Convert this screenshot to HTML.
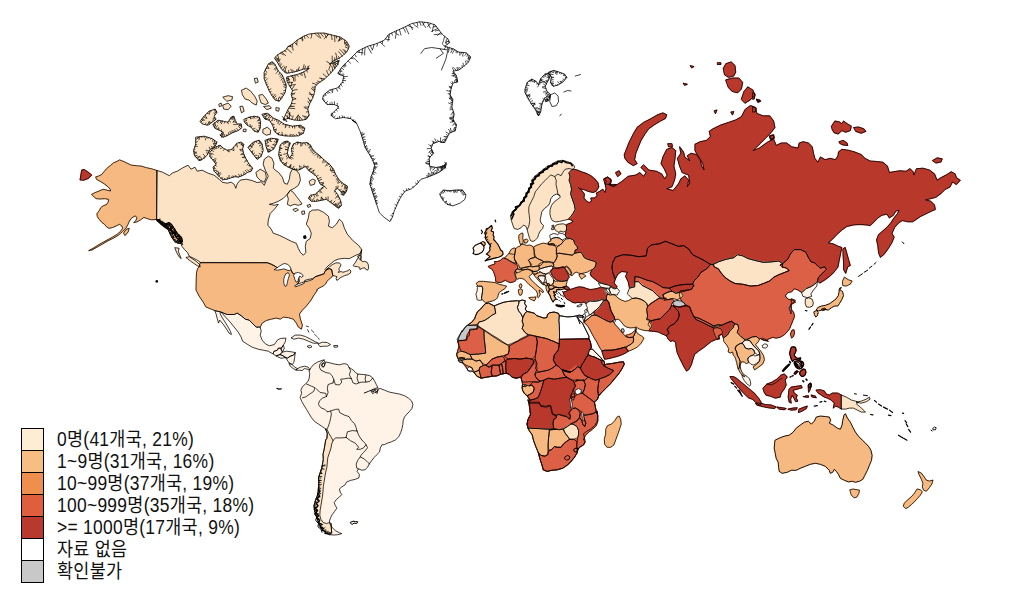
<!DOCTYPE html>
<html lang="ko"><head><meta charset="utf-8"><title>map</title><style>
html,body{margin:0;padding:0;background:#fff;}
body{width:1013px;height:598px;position:relative;overflow:hidden;font-family:"Liberation Sans","Noto Sans CJK KR","NanumGothic",sans-serif;}
.legend{position:absolute;left:21px;top:428px;}
.row{height:22px;position:relative;white-space:nowrap;}
.sw{position:absolute;left:0;top:0;width:21px;height:21px;border:1px solid #000;border-bottom:none;box-sizing:content-box;}
.row:last-child .sw{border-bottom:1px solid #000;height:21px;}
.lb{position:absolute;left:35.5px;top:-0.5px;font-size:19.5px;line-height:22px;color:#111;letter-spacing:0.3px;transform:scaleX(0.895);transform-origin:0 50%;}
</style></head><body>
<svg width="1013" height="598" viewBox="0 0 1013 598" style="position:absolute;left:0;top:0">
<g stroke-linejoin="round" stroke-linecap="round">
<path d="M156.9,170.5 151.3,168.7 146.3,167.7 141.2,166.1 136.2,165.7 131.2,165.1 128.2,163.7 124.2,161.7 119.6,159.9 117.2,161.3 113.8,162.7 110.2,165.7 106.5,168.7 104.1,171.7 101.7,174.5 98.5,176.1 95.7,176.9 96.5,179.3 100.1,181.3 104.1,183.7 107.7,186.5 110.2,189.1 110.6,191 107.1,190.2 103.1,189.3 99.1,191 95.1,192.6 91.5,194.4 93.7,196.6 96.1,198.6 100.1,199 104.5,198.6 108.7,199.4 108.1,202.2 106.5,204.6 103.1,205.8 100.7,207.8 99.3,210.6 96.9,213.8 97.3,216.6 99.3,219.4 101.7,222.2 104.5,224.3 106.5,226.7 108.9,228.3 112.6,227.5 116.2,225.9 119.4,224.3 121.8,225.9 122.6,228.3 120.6,231.3 117.2,234.3 112.6,237.1 108.1,239.5 103.1,242.3 98.1,245.1 93.1,248.3 88.7,250.7 92.1,249.9 97.1,247.1 102.1,244.3 108.1,240.7 113.2,238.3 118.2,235.3 122.2,231.9 125.8,228.3 127.8,224.7 129.4,221 131.8,217.8 135.4,215.8 137,217.8 135.8,220.6 133.8,222.6 137.2,221.8 140.6,219.8 143.9,217.4 147.3,218.6 151.3,219.8 156.9,219.4 159.3,220.6 163.3,222.6 167.3,224.3 170.7,226.7 173.9,229.9 176.8,233.3 179.6,237.3 181.6,241.3 182.8,244.7 180.4,243.3 177.4,238.3 173.3,233.3 169.3,229.3 165.3,226.3 161.3,223.9 158.3,221.8 156.9,219.4Z" fill="#f7b982" stroke="#f7b982" stroke-width="1.1"/>
<path d="M123.8,232.7 126.2,229.3 129.2,228.3 128.2,231.9 125.2,235.3Z" fill="#f7b982" stroke="#f7b982" stroke-width="1.1"/>
<path d="M80.1,179.7 81.7,170.1 84.1,169.5 88.1,172.1 91.7,175.1 88.1,178.5 84.1,180.1Z" fill="#b9382c" stroke="#b9382c" stroke-width="1.1"/>
<path d="M196,137.2 204.1,136.2 212.1,138.6 217.1,142.2 215.1,146.3 210.1,149.3 207.7,154.3 204.1,158.3 199.1,160.7 194.4,155.3 193.6,150.3 195.6,144.3Z" fill="#fce3c5" stroke="#fce3c5" stroke-width="1.1"/>
<path d="M200.1,121.2 204.1,116.2 209.1,111.2 215.1,109.1 217.1,112.2 214.1,116.2 216.1,119.2 212.1,122.2 208.1,125.2 203.1,124.2Z" fill="#fce3c5" stroke="#fce3c5" stroke-width="1.1"/>
<path d="M213.1,124.2 218.1,120.2 223.1,121.2 228.1,122.2 231.2,117.2 233.8,116.2 235.2,120.2 237.2,124.2 241.2,123.8 241.8,127.8 238.2,130.6 232.6,132.6 228.1,135.2 223.1,137.2 220.1,135.2 223.1,132.2 219.1,130.2 215.1,128.2Z" fill="#fce3c5" stroke="#fce3c5" stroke-width="1.1"/>
<path d="M223.1,97.1 228.1,95.7 232.6,96.7 231.8,100.1 227.1,101.1Z" fill="#fce3c5" stroke="#fce3c5" stroke-width="1.1"/>
<path d="M223.1,105.1 228.1,103.1 231.2,106.1 228.1,109.7 224.1,109.1Z" fill="#fce3c5" stroke="#fce3c5" stroke-width="1.1"/>
<path d="M219.1,104.1 221.1,103.1 222.1,105.7 219.7,106.5Z" fill="#fce3c5" stroke="#fce3c5" stroke-width="1.1"/>
<path d="M240.2,106.5 242.6,106.1 244.2,111.2 241.8,112.6Z" fill="#fce3c5" stroke="#fce3c5" stroke-width="1.1"/>
<path d="M241.8,90.1 246.2,88.1 250.6,91.1 254.6,96.1 257.2,101.1 256.2,105.1 252.2,103.1 249.2,100.1 245.2,99.1 242.6,95.1Z" fill="#fce3c5" stroke="#fce3c5" stroke-width="1.1"/>
<path d="M259.2,95.1 262.6,94.5 266.3,99.1 268.3,103.1 265.3,104.5 261.2,103.1 259.8,99.1Z" fill="#fce3c5" stroke="#fce3c5" stroke-width="1.1"/>
<path d="M263.9,106.5 269.3,105.7 271.3,108.1 267.3,109.5Z" fill="#fce3c5" stroke="#fce3c5" stroke-width="1.1"/>
<path d="M276.3,107.7 279.3,108.1 278.7,111.2 276.3,110.6Z" fill="#fce3c5" stroke="#fce3c5" stroke-width="1.1"/>
<path d="M254.6,78.5 257.2,78.1 258.2,82.1 255.8,83.1Z" fill="#fce3c5" stroke="#fce3c5" stroke-width="1.1"/>
<path d="M264.3,72 268.3,64 272.3,61.6 275.3,65 278.3,71 282.3,75 284.3,80.1 286.3,85.1 285.3,92.1 282.3,97.1 279.3,101.1 275.3,100.1 272.3,96.1 269.3,91.1 266.7,85.1 264.3,79.1Z" fill="#fce3c5" stroke="#fce3c5" stroke-width="1.1"/>
<path d="M244.2,119.2 249.2,117.2 254.2,116.2 259.2,117.2 260.6,122.2 260.2,128.2 258.2,132.2 254.2,131.2 251.2,127.2 247.2,125.2 244.6,122.2Z" fill="#fce3c5" stroke="#fce3c5" stroke-width="1.1"/>
<path d="M263.2,129.2 267.3,127.2 270.7,130.2 270.3,134.2 266.3,135.2 263.2,133.2Z" fill="#fce3c5" stroke="#fce3c5" stroke-width="1.1"/>
<path d="M243.8,129.2 246.2,129.2 245.8,131.8 243.4,131.4Z" fill="#fce3c5" stroke="#fce3c5" stroke-width="1.1"/>
<path d="M248.2,147.3 253.2,142.2 259.2,140.2 262.2,144.3 263.2,150.3 261.2,156.3 257.2,159.3 253.2,154.3 250.2,150.3Z" fill="#fce3c5" stroke="#fce3c5" stroke-width="1.1"/>
<path d="M265.3,140.2 271.3,138.2 278.3,139.2 276.3,144.3 273.3,149.3 268.3,152.3 266.3,147.3Z" fill="#fce3c5" stroke="#fce3c5" stroke-width="1.1"/>
<path d="M262.2,114.2 267.3,113.2 271.3,116.2 273.3,118.2 278.3,120.2 284.3,124.2 292.3,126.2 300.4,125.2 304.8,128.2 303.4,133.2 298.4,135.8 291.3,136.2 284.3,135.8 278.3,134.6 274.3,131.2 272.7,125.2 269.3,120.2 265.3,119.2Z" fill="#fce3c5" stroke="#fce3c5" stroke-width="1.1"/>
<path d="M210.1,152.2 213.1,148.1 217.1,146.5 220.1,145.1 223.1,148.1 227.1,150.2 231.2,149.7 234.2,146.5 237.2,143.1 241.2,142.1 243.8,144.5 242.6,149.1 243.8,154.2 246.2,159.2 249.2,164.2 252.6,168.2 251.2,171.2 247.2,172.6 243.2,175.2 238.2,177.2 235.2,176.6 231.2,177.8 227.1,179.2 222.5,179.8 219.7,177.2 217.1,174.2 214.1,171.2 213.1,167.2 216.1,164.2 213.1,160.2 210.1,157.2Z" fill="#fce3c5" stroke="#fce3c5" stroke-width="1.1"/>
<path d="M156.9,170.5 162.3,172.1 169.3,175.7 172.3,173.1 177.4,171.1 182.4,168.1 184,167.2 188,165.2 191,169.2 195,167.2 197.1,171.2 202.1,170.2 208.1,173.2 214.1,175.2 219.1,179.2 222.1,182.2 227.1,183.2 231.2,182.2 234.2,184.3 235.8,188.3 237.2,183.9 240.2,180.2 246.2,179.2 252.2,180.6 257.2,182.6 261.2,181.8 264.3,185.3 265.9,181.2 268.3,176.2 265.3,170.2 263.2,164.2 264.3,159.2 268.3,156.2 271.9,158.2 273.9,163.2 273.3,168.2 275.3,170.2 278.7,172.6 282.3,177.2 284.3,183.2 287.3,184.3 289.3,179.2 290.3,173.2 292.3,169.2 296.3,170.2 299.4,174.2 300.4,180.2 298.4,185.3 294.3,188.3 290.3,190.3 287.3,194.3 283.3,198.3 278.3,201.3 273.3,203.3 269.3,204.3 274.3,205.3 278.3,204.3 274.3,209.3 270.3,213.3 268.3,220 267.8,225.2 271.2,229.2 273.2,233.2 279.2,235.3 285.3,238.3 291.3,241.3 296.3,243.3 298.3,248.3 300.3,252.3 303.3,255.3 305.9,252.3 305.3,246.3 306.3,241.3 310.3,238.3 311.3,233.2 309.3,228.2 306.3,224.2 308.3,218.2 309.3,212.2 312.3,210.2 318.4,209.8 323.4,212.2 328.4,216.2 329.4,221.2 328.4,226.2 332.4,227.8 336.4,224.2 339.4,219.2 342.4,222.2 344.4,228.2 347.4,234.3 352.5,240.3 358.5,245.3 361.5,249.3 360.5,254.3 357.5,256.3 360.5,260.3 361.7,249.6 361.1,252 358.7,254.2 356.3,255 352.7,256.9 349.1,258.7 344.3,258.3 338.8,259 334.6,260.5 331,263.5 328,265.9 325,269.5 325.6,270.3 329.2,267.1 332.2,264.7 335.8,262.9 339.4,262.9 340.9,264.7 340,267.1 338.8,268.9 339.4,270.7 338.2,272.5 340.9,271.5 343,272.3 345.5,271.5 347.9,270.7 349.7,269.5 350.9,271.1 350.3,273.1 347.9,274.7 344.9,275.5 342.4,276.7 340,277.9 338.2,279.7 336.8,280.3 336.1,278.5 337,276.7 335.2,276.1 332.8,275.5 332.2,272.5 331.6,269.5 329.2,268.6 326.8,269.5 325,271.5 323.8,273.9 320.2,275.1 315.4,276.7 312.4,279.1 305.5,280.9 303.9,282.4 296.1,286.3 299.1,281.5 298.5,276.1 292.5,273.1 290.1,268.3 284.1,267.1 278.1,268.3 275,266.2 271.4,264.3 267.2,262.7 260,262.7 200.2,262.8 199.6,261.6 196.6,259.8 193,258 189.3,256.2 187.5,252.5 184.5,249.5 182.1,246.5 180.9,243.5 182.4,241.1 181.5,237.3 177.3,233.3 174.3,228.5 171.5,224.3 168.9,222.5 165.9,224.3 161.1,221.2 156.9,220Z" fill="#fce3c5" stroke="#fce3c5" stroke-width="1.1"/>
<path d="M353.3,265.3 355.1,262.9 356.9,259.9 358.7,256.9 360.1,254.7 361.1,256.2 360.9,259.3 362.3,261.7 364.7,261.4 367.1,262.3 368.3,264.7 368.6,268.3 367.7,270.1 365.9,269.5 364.7,267.7 362.3,268.3 359.9,269.5 359.7,267.4 357.5,266.7 355.1,266.5Z" fill="#fce3c5" stroke="#fce3c5" stroke-width="1.1"/>
<path d="M175.1,247.7 179.1,248.3 178.3,251.3 179.7,254.9 181.2,258.6 179.1,256.8 176.7,252.5Z" fill="#fce3c5" stroke="#fce3c5" stroke-width="1.1"/>
<path d="M186.3,257.4 189.3,256.8 193,259.2 196.6,261.6 199.6,264.6 200.2,267 197.5,265.8 194.8,264 191.2,261.6 188.1,259.2Z" fill="#fce3c5" stroke="#fce3c5" stroke-width="1.1"/>
<path d="M156.9,220 161.1,221.2 165.9,224.3 168.9,222.5 171.5,224.3 174.3,228.5 177.3,233.3 181.5,237.3 182.4,241.1 180.9,243.5 178.5,243.5 174.9,241.7 171.9,237.5 170.1,233.9 168.3,229.7 164.7,227.3 160.5,223.7 156.9,220.6Z" fill="#f7b982" stroke="#f7b982" stroke-width="1.1"/>
<path d="M279.3,150.2 280.3,145.1 283.3,142.1 287.3,141.1 290.3,143.1 288.3,148.1 287.3,153.2 289.3,158.2 292.3,154.2 291.3,149.1 293.3,144.1 297.4,142.1 302.4,143.1 307.4,142.5 310.4,145.1 312.4,149.1 316.4,153.2 320.4,156.2 324.4,160.2 329.4,164.2 333.5,169.2 335.5,174.2 338.5,179.2 342.5,183.2 347.5,186.3 346.5,191.3 343.5,195.3 340.5,191.3 337.5,188.3 334.5,190.3 337.5,194.3 340.5,200.3 341.5,205.3 338.5,208.3 334.5,205.3 330.5,202.3 326.4,199.3 321.4,200.3 316.4,201.3 311.4,201.3 308.4,198.3 310.4,195.3 315.4,194.3 318.4,191.3 321.4,188.3 324.4,186.3 320.4,184.3 318.4,180.2 316.4,176.2 312.4,173.2 308.4,170.2 305.4,166.2 302.4,168.2 298.4,170.2 293.3,169.2 288.3,167.2 283.3,164.2 280.3,160.2 278.7,155.2Z" fill="#fce3c5" stroke="#fce3c5" stroke-width="1.1"/>
<path d="M309.4,181.2 312.4,179.2 315.4,180.2 314.4,184.3 310.8,185.3Z" fill="#fce3c5" stroke="#fce3c5" stroke-width="1.1"/>
<path d="M287.3,194.3 290.3,190.3 293.3,192.3 296.3,196.3 299.4,200.3 302,203.9 298.4,205.3 294.3,204.3 290.3,205.9 287.3,204.3 288.3,199.3Z" fill="#fce3c5" stroke="#fce3c5" stroke-width="1.1"/>
<path d="M293.3,209.3 296.3,208.3 298.4,209.9 295.3,211.5Z" fill="#fce3c5" stroke="#fce3c5" stroke-width="1.1"/>
<path d="M302,211.3 304.4,210.9 304.8,213.9 302.4,214.3Z" fill="#fce3c5" stroke="#fce3c5" stroke-width="1.1"/>
<path d="M307.4,205.3 310,204.3 310.8,206.3 308.4,207.3Z" fill="#fce3c5" stroke="#fce3c5" stroke-width="1.1"/>
<path d="M256.2,172.2 260.2,169.2 265.3,172.2 266.3,177.2 264.3,182.2 260.2,180.2 257.2,177.2Z" fill="#fce3c5" stroke="#fce3c5" stroke-width="1.1"/>
<path d="M303.9,236.3 305.5,235.9 305.9,237.9 304.3,238.3Z" fill="#000" stroke="#000" stroke-width="1.1"/>
<path d="M309.2,34.1 316.2,33.1 324.3,33.1 332.3,35.1 340.3,37.1 346.3,41.1 349.3,46.1 347.3,51.2 343.3,55.2 339.3,58.2 334.3,60.2 329.3,64.2 335.3,62.2 339.3,60.2 337.3,65.2 333.3,70.2 329.3,74.6 324.3,79.2 319.2,82.6 315.2,86.3 314.6,92.3 312.6,98.3 309.8,103.3 307.8,109.3 309.2,115.3 306.2,119.4 300.2,120.4 294.2,120 288.1,118.4 283.1,120 285.7,114.3 288.1,109.3 291.2,104.3 292.6,99.3 291.2,94.3 292.6,90.3 289.7,86.3 287.1,81.2 286.5,77.2 291.2,75.8 297.2,74.6 303.2,72.2 309.2,68.6 303.2,69.2 297.2,71.2 291.2,72.6 286.1,73.2 282.5,70.2 279.7,66.2 277.1,61.8 274.5,58.2 277.1,55.2 281.1,52.6 285.7,50.2 288.1,46.5 292.6,44.1 297.2,40.1 303.2,36.5Z" fill="#fce3c5" stroke="#fce3c5" stroke-width="1.1"/>
<path d="M200.2,262.8 199,267 197.5,268.8 196.6,272.4 196.3,277 196,290 199.1,296 203.1,302 206.1,307.1 211.1,309.1 215.1,310.7 221.1,312.1 227.1,314.5 234.2,314.5 237.2,313.1 241.2,315.7 245.2,319.1 249.2,320.1 252.2,323.1 256.2,327.1 260.2,327.1 262.2,323.1 266.3,320.5 271.3,319.1 276.3,318.1 280.3,319.1 283.3,317.1 288.3,317.7 293.3,319.1 296.3,323.1 298.4,327.1 301.4,329.1 302.4,325.1 300.4,319.1 299.4,314.1 302.4,310.1 306.4,306 310.4,301 313.4,296 317.4,290 316.6,289.9 319,288.1 321.4,286.9 323.8,285.7 325.6,283.9 326.8,281.5 328.6,279.7 330.4,277.9 332.2,276.7 332.8,275.5 332.2,272.5 331.6,269.5 329.2,268.6 326.8,269.5 325,271.5 323.8,273.9 320.2,275.1 315.4,276.7 312.4,279.1 305.5,280.9 303.9,282.4 296.1,286.3 299.1,281.5 298.5,276.1 292.5,273.1 290.1,268.3 284.1,267.1 278.1,268.3 275,266.2 271.4,264.3 267.2,262.7 260,262.7Z" fill="#f7b982" stroke="#f7b982" stroke-width="1.1"/>
<path d="M221.1,312.1 227.1,314.5 234.2,314.5 237.2,313.1 241.2,315.7 245.2,319.1 249.2,320.1 252.2,323.1 256.2,327.1 260.2,327.1 261.2,331.1 260.2,335.1 262.2,340.2 265.3,343.8 269.3,345.8 274.3,344.6 277.3,340.2 280.3,338.5 285.9,338.1 285.3,341.8 283.3,345.2 281.3,348.2 278.3,348.2 277.3,350.2 274.3,351.2 272.7,353.8 268.3,351.2 263.2,350.2 258.2,349.2 252.2,347.2 247.2,344.2 242.6,341.2 241.2,337.1 238.2,332.1 234.2,327.1 230.2,322.1 226.1,317.7 222.5,313.7Z" fill="#fef3e6" stroke="#fef3e6" stroke-width="1.1"/>
<path d="M215.1,310.7 221.1,312.1 220.1,313.7 222.5,318.1 225.1,322.1 228.1,327.1 230.6,331.7 231.4,334.5 229.1,333.1 226.5,329.1 223.1,324.1 219.7,320.1 218.5,323.1 217.1,318.1 216.1,314.1Z" fill="#fef3e6" stroke="#fef3e6" stroke-width="1.1"/>
<path d="M274.3,351.2 277.3,350.2 278.3,348.2 281.3,348.2 281.3,350.2 282.3,352.2 279.9,354.6 276.3,355.8 273.3,354.2Z" fill="#fef3e6" stroke="#fef3e6" stroke-width="1.1"/>
<path d="M281.3,348.2 283.3,345.2 284.3,348.2 282.7,351.8 281.5,350.2Z" fill="#fef3e6" stroke="#fef3e6" stroke-width="1.1"/>
<path d="M282.3,352.2 286.3,351.2 291.3,351.8 295.3,352.6 293.3,355.2 290.3,356.2 287.3,358.2 285.3,357.2 283.3,355.8 280.3,354.6Z" fill="#fef3e6" stroke="#fef3e6" stroke-width="1.1"/>
<path d="M276.3,355.8 279.9,354.6 283.3,355.8 284.7,357.8 281.3,358.2Z" fill="#fef3e6" stroke="#fef3e6" stroke-width="1.1"/>
<path d="M285.3,357.2 287.3,358.2 290.3,356.2 293.3,355.2 295.3,352.6 294.7,357.2 293.9,362.2 292.3,364.6 289.3,363.2 287.3,360.2Z" fill="#fef3e6" stroke="#fef3e6" stroke-width="1.1"/>
<path d="M289.3,363.2 292.3,364.6 294.7,367.2 297.4,368.6 296.3,370.2 293.3,368.6 290.7,366.6Z" fill="#fef3e6" stroke="#fef3e6" stroke-width="1.1"/>
<path d="M297.4,368.6 300.4,367.2 304.4,366.2 308.4,367.2 310,370.2 307.4,369.2 304.4,368.6 302,370.6 299.4,370.2 296.3,370.2Z" fill="#fef3e6" stroke="#fef3e6" stroke-width="1.1"/>
<path d="M291.3,337.7 295.3,335.1 300.4,335.1 305.4,336.5 310.4,339.1 315.4,341.8 318.4,343.2 313.4,343.2 308.4,341.2 303.4,339.1 298.4,338.1 294.3,339.1Z" fill="#fef3e6" stroke="#fef3e6" stroke-width="1.1"/>
<path d="M318.4,343.8 322.4,342.2 327.4,342.6 330.5,344.6 327.4,346.2 323.4,346.2 320.4,346.6Z" fill="#fef3e6" stroke="#fef3e6" stroke-width="1.1"/>
<path d="M307.4,346.2 310.4,345.4 312,346.8 309.4,347.8Z" fill="#fef3e6" stroke="#fef3e6" stroke-width="1.1"/>
<path d="M334.1,345.6 337.5,345.4 337.7,347 334.5,347.2Z" fill="#fef3e6" stroke="#fef3e6" stroke-width="1.1"/>
<path d="M323.6,95 329.5,90.2 337.8,87.8 342.6,81.9 343.7,76 337.8,73.6 341.4,67.7 346.1,62.9 352,57 358,51 367.5,46.3 375.8,43.9 384.1,40.4 388.8,34.4 396,30.9 404.3,27.3 411.4,23.7 419.7,21.8 428,22.6 435.1,24.9 438.7,29.7 442.3,34.4 448.2,39.2 449.4,42.7 444.6,46.3 452.9,48.7 458.9,52.2 466,52.7 470.7,57 468.4,62.2 463.6,66.5 458.9,70 452.9,71.2 456.5,76 457.7,81.9 452.9,83.1 451,89 450.1,95 452.9,99.7 451.8,106.8 454.1,113.9 452.9,121.1 452.9,120 456.5,124.7 455.3,130.7 449.4,133.1 447,137.8 444.6,142.6 438.7,141.4 432.8,143.7 431.1,148.5 433.5,153.2 429.2,158 429.7,166.3 436.3,167.5 443.4,166.3 446.3,162.7 445.3,167.5 439.9,171.8 433.9,174.6 426.8,177.4 420.9,179.3 416.9,184.1 411.4,188.8 405,191.2 400.7,197.2 397.2,204.3 394.1,211.4 392.4,217.3 390,221.6 384.1,217.3 379.3,212.6 377,205.5 374.6,198.3 372.2,191.2 369.9,184.1 371,177 373.4,171 374.6,165.1 372.2,159.2 368.7,153.2 365.1,147.3 362.7,139 360.4,131.9 356.8,123.6 352,120 356.8,123.4 350.9,118.7 343.7,117.5 335.4,118.7 330.7,115.1 334.2,111.6 339,106.8 334.2,104.5 327.1,104.5 322.8,99.7Z" fill="#ffffff" stroke="#ffffff" stroke-width="1.1"/>
<path d="M439.9,193.6 443.4,190 449.4,190.7 456.5,190 462.4,190 466,194.8 464.8,199.5 460.1,203.1 452.9,205.9 447,204.3 443.4,200.7 441.1,197.2Z" fill="#ffffff" stroke="#ffffff" stroke-width="1.1"/>
<path d="M156.2,280.8 157.4,280.8 157.4,281.9 156.2,281.9Z" fill="#000" stroke="#000" stroke-width="1.1"/>
<path d="M309.2,370.5 311.3,367.3 313.7,364.4 317.7,362 322,360.4 324.1,359.9 324.9,362 322,363.6 321.4,366 323.3,367.3 324.9,364.8 325.7,362 329.7,362.8 334.6,364.1 339.4,364.8 344.2,363.6 347.4,364.4 349,367.3 351.4,368.9 353.8,370.5 355.4,372.5 357.8,374.1 361.8,374.4 366.7,374.9 369.9,375.7 372.8,378.1 374.7,381.3 376.3,384.5 377.9,387.7 374.7,388.5 371.5,390.1 376.3,389.3 380.3,388.5 384.3,390.1 389.1,392 393.9,393 399.6,394.1 404.4,395.7 408.4,398.1 411.6,401 412.9,404.6 411.9,408.6 409.2,411.8 406.8,414.2 404.4,417.1 403.2,420.6 402.8,424.6 402,428.6 400.7,432.6 398.8,436.7 395.5,439.9 391.5,441.8 387.5,443.1 384.3,444.7 381.9,444.8 380.3,448 379.5,452 376.3,455.2 373.9,457.7 371.5,460.9 369.1,464.1 367.5,467.3 365.1,469.7 361.8,470.2 358.6,468.9 357,471.3 359.4,474.5 359,477.7 355.4,479.3 350.6,480.4 346.6,482 345,484.9 341.8,486.9 339.4,488.9 340.2,492.2 341.8,494.6 339.4,497 336.2,499.7 334.2,502.6 335.4,505.8 337,508.2 334.6,511.4 332.2,514.6 330.6,517.8 329.4,521 330.1,524.3 332.2,527.5 335.4,530.7 339.4,532.8 341.8,533.6 337.8,534.7 333.8,535 329.7,534.7 326.5,533.1 323.3,530.7 320.9,527.9 319.3,524.3 317.7,520.2 316.1,515.4 314.5,510.6 314,505.8 315.3,501 317.2,496.2 318.2,491.4 318.5,486.5 318.8,481.7 318.5,477.7 320.1,472.9 321.7,468.1 322.5,464.1 323.3,459.3 323,454.4 324.1,449.6 324.9,444.8 325.7,440 326.9,438.3 327.3,433.5 325.7,429 322.5,426.7 318.5,424.1 314.5,421.4 311.3,417.4 308.9,413.4 306.5,409.4 304.1,405.4 301.7,401.4 300.1,397.3 301.7,393.3 300.9,390.1 302.5,386.6 305.7,383.7 308.1,381.3 309.2,378.1 309.7,374.1Z" fill="#fef3e6" stroke="#fef3e6" stroke-width="1.1"/>
<path d="M325.7,429 326.9,429 328.9,433.5 331.4,437.5 333,440.7 331.7,444 331,448 329.4,452.8 327.8,457.7 327.3,462.5 326.9,467.3 325.7,472.1 324.9,476.9 324.1,481.7 323.3,486.5 323,491.4 322.5,496.2 321.7,501 320.9,505.8 320.1,510.6 319.8,515.4 320.9,519.4 323.3,522.6 326.5,523.5 329.4,522.6 331,523.5 331.7,533.1 329.7,534.7 326.5,533.1 323.3,530.7 320.9,527.9 319.3,524.3 317.7,520.2 316.1,515.4 314.5,510.6 314,505.8 315.3,501 317.2,496.2 318.2,491.4 318.5,486.5 318.8,481.7 318.5,477.7 320.1,472.9 321.7,468.1 322.5,464.1 323.3,459.3 323,454.4 324.1,449.6 324.9,444.8 325.7,440 326.9,438.3 327.3,433.5Z" fill="#fce3c5" stroke="#fce3c5" stroke-width="1.1"/>
<path d="M323,363.6 324.3,363.2 324.6,366 323.3,367 322.4,365.7Z" fill="#fef3e6" stroke="#fef3e6" stroke-width="1.1"/>
<path d="M350.6,522.2 353,521.2 355.4,521.5 357.8,521.8 356.7,523.5 354.1,523.1 352.2,524.4 350.9,523.5Z" fill="#fef3e6" stroke="#fef3e6" stroke-width="1.1"/>
<path d="M569.1,172.5 571.5,170.1 573.9,169.3 577.2,170.1 581.2,171.7 586,173.3 590.8,175.7 594.8,178.9 598,182.9 598.8,186.9 596.4,190.9 593.2,192.5 588.4,191.4 584.4,189.8 579.6,188.5 578,187.2 582,190.9 584.4,194.1 583.9,198.1 586.8,201.4 589.2,202.6 591.6,201 590.8,198.1 594.8,197.8 597.2,195.7 596.4,193 599.6,191.4 602.8,189.3 605.2,192.5 606,188.5 605.2,184.5 606.4,181.3 604.4,178.6 607.6,177.3 610.9,179.2 610.1,182.9 608.4,184.5 612.5,186.1 616.5,184.5 605,184.2 603.7,179 607.5,177 611.4,180.3 610.1,185.4 614,186.7 621.7,181.6 628.1,176.4 635.8,175.1 639.7,172.6 643.6,176.4 646.1,172.6 641,167.4 643.6,164.9 648.7,170 656.4,171.3 661.6,173.9 664.7,179 667.2,175.1 664.2,168.7 661.1,163.6 662.9,157.1 666.7,149.4 671.9,147.6 675.7,150.7 675,158.4 673.9,166.1 675.7,173.9 674.5,180.3 671.9,186.7 666.7,188.8 673.2,190.6 678.3,184.2 680.9,179 684.8,175.9 688.6,180.3 687.3,186.7 689.9,182.9 688.6,175.1 682.2,172.6 679.6,166.1 677.5,158.4 680.9,153.3 679.6,146.8 683.5,152 684.8,157.1 689.9,161 687.3,155.8 691.2,153.3 696.3,154.6 700.2,159.7 701.5,166.1 704.1,170 702.8,163.6 698.9,157.1 695,150.7 695,144.3 700.2,141.7 706.6,140.4 710.5,136.5 709.2,131.4 713.1,128.8 720.8,125 728.5,122.4 736.2,119.8 741.4,116.7 745.2,109.5 750.4,105.6 755.5,107.4 756.8,113.4 763.3,115.9 769.7,115.9 773.6,121.1 774.9,127.5 771,132.7 765.8,137.8 760.7,143 755.5,148.1 753,150.7 759.4,148.1 764.6,144.3 768.4,141.7 773.6,139.1 776.2,145.5 781.3,143 786.5,143 791.6,146.8 798,148.1 799.3,143 803.2,141.7 808.3,143 812.2,146.8 813.5,153.3 814.8,158.4 817.9,162.3 820.4,157.1 825.1,159.7 830.2,158.4 835.4,159.7 838,155.8 838.5,152 841.8,149.4 848.2,150.2 854.7,152 861.1,154.6 865,158.4 870.1,161 876.6,161.5 883,162.3 887.4,166.1 889.4,172.6 893.3,171.8 899.7,170.8 906.2,171.3 910,168.7 913.1,171.8 913.9,175.1 916.5,168.7 922.9,168.2 929.3,170 934.5,173.9 937.1,180.3 940.9,177.7 946.1,175.1 951.2,171.8 955.1,173.9 956.4,177.7 960.2,180.3 956.4,184.5 952.5,181.9 949.9,187 944.8,189.6 940.9,193.5 935.8,197.3 930.6,198.6 925.5,199.9 930.6,201.2 934.5,205 935.3,209.4 930.6,211.5 925.5,214.1 920.3,216.6 916.5,219.2 912.6,221.8 907.5,221.8 902.3,220.5 898.4,223.1 894.6,227.4 892,233.4 894.1,237.2 892,242.4 888.1,248.8 884.3,254 880.4,257.3 878.6,252.7 877.9,246.2 876.6,239.8 878.6,234.7 883,230.8 886.9,227.4 890.7,223.1 894.1,217.9 897.2,214.1 899.2,210.2 895.9,211 893.3,215.3 889.4,217.9 886.9,214.1 881.7,215.3 877.9,217.9 874,221.8 870.1,225.6 866.3,224.9 859.8,224.4 853.4,224.9 847,226.4 841.8,230 836.7,234.7 832.3,239.3 828.2,242.9 832.8,243.7 838,246.2 841.8,247.5 840.5,254 839.2,260.4 838,266.8 834.1,272 830.2,275.8 825.1,279.7 819.9,283 817.4,281 818.6,277.1 822.5,273.3 826.4,269.4 824.6,266.8 820.4,268.1 817.4,265.5 814.8,263 810.9,261.7 808.3,257.3 805.8,252.2 800.6,249.6 794.2,249.6 790.3,254 787.8,259.1 783.9,262.5 780,265.5 782.7,263.7 778.8,261.1 771.1,261.9 763.4,262.4 754.4,260.3 747.9,258.5 742.8,255.9 737.6,254.7 733.8,257.7 726,259.3 718.3,261.9 713.2,264.4 710.6,264.4 708,262.9 702.9,259.8 697.7,257.2 692.6,254.7 688.7,249 683.6,245.6 678.4,246.4 672,243.8 665.5,241.3 659.1,243.8 651.4,244.9 647.5,248.2 646.2,255.9 638.5,256.7 630.8,255.2 623.1,254.7 615.3,257.2 612.8,262.4 612,267.5 612.8,272.7 615.3,279.1 614.1,283 617.1,286.8 615.8,288.6 613.2,287.6 610.2,285.6 606.7,284.6 603.2,283.6 599.7,282.6 596.7,280.5 593.7,278 591.2,276 590.2,273.5 591.7,270.2 594.8,267.6 595.8,265.1 596.3,262.6 593.8,261.1 590.3,260.1 587.3,259.1 584.3,257.6 582.7,254.6 580.7,252.1 577.7,252.6 574.7,253.3 575.2,250.1 577.7,249.1 577.2,246.6 574.7,243.6 573.7,240 570.2,238.5 566.7,238 565.2,235 566.2,231 566.7,228 566.2,225 566.7,224.6 570.7,223 573.1,221.4 570.7,219.8 568.3,219.3 570.7,216.6 573.1,213.4 575.2,209.4 574.3,204.6 572.3,198.9 570.7,194.1 571.5,189.3 570.7,184.5 569.1,180.5 569.9,176.5Z" fill="#b9382c" stroke="#b9382c" stroke-width="1.1"/>
<path d="M624.3,154.6 626.8,148.1 629.4,141.7 633.3,134 637.1,127.5 643.6,122.4 651.3,118.5 657.7,114.7 662.9,112.9 666.7,114.7 665.4,118.5 660.3,121.1 653.9,125 648.7,128.8 644.9,134 641,140.4 638.4,146.8 635.8,153.3 634.6,159.7 637.1,163.6 633.3,165.6 628.1,162.3 625,158.4Z" fill="#b9382c" stroke="#b9382c" stroke-width="1.1"/>
<path d="M723.4,68.3 725.9,63.7 731.1,61.9 735,65.7 735.7,72.2 733.7,76 728.5,77.3 724.7,74.8Z" fill="#b9382c" stroke="#b9382c" stroke-width="1.1"/>
<path d="M725.9,79.9 732.4,78.1 738.8,78.1 742.7,82.5 741.4,88.9 737.5,92.8 732.4,91.5 728.5,87.6Z" fill="#b9382c" stroke="#b9382c" stroke-width="1.1"/>
<path d="M741.4,99.2 744,91.5 747.8,86.9 753,90.2 754.8,95.3 750.4,99.7 745.2,103.1Z" fill="#b9382c" stroke="#b9382c" stroke-width="1.1"/>
<path d="M717.7,62.7 720.8,62.7 720.8,64.5 717.7,64.5Z" fill="#b9382c" stroke="#b9382c" stroke-width="1.1"/>
<path d="M690.4,65.7 693.8,66.5 692,67.8Z" fill="#b9382c" stroke="#b9382c" stroke-width="1.1"/>
<path d="M683.5,83.2 687.3,84.3 684.8,85.3Z" fill="#b9382c" stroke="#b9382c" stroke-width="1.1"/>
<path d="M756.8,99.7 760.7,101.3 758.1,102.3Z" fill="#b9382c" stroke="#b9382c" stroke-width="1.1"/>
<path d="M714.4,110.8 716.9,110 715.6,113.4Z" fill="#b9382c" stroke="#b9382c" stroke-width="1.1"/>
<path d="M731.1,112.1 733.7,111.6 732.6,114.7Z" fill="#b9382c" stroke="#b9382c" stroke-width="1.1"/>
<path d="M668,143.7 671.9,143.7 672.4,146.8 668.8,146.8Z" fill="#b9382c" stroke="#b9382c" stroke-width="1.1"/>
<path d="M615.8,172.6 619.1,170.8 620.9,173.9 617.8,176.4Z" fill="#b9382c" stroke="#b9382c" stroke-width="1.1"/>
<path d="M769.7,135.8 773.6,134.7 774.3,137.8 771,138.9Z" fill="#b9382c" stroke="#b9382c" stroke-width="1.1"/>
<path d="M831.5,126.2 834.9,121.1 839.2,121.9 841.8,123.7 843.6,121.1 847,123.7 851.3,126.2 850.3,130.6 845.7,132.2 841.8,130.6 838,134 834.1,132.7 832.3,129.6Z" fill="#b9382c" stroke="#b9382c" stroke-width="1.1"/>
<path d="M853.9,127.5 858.5,127 863.7,128.8 865.8,131.4 861.1,133.2 856,131.4Z" fill="#b9382c" stroke="#b9382c" stroke-width="1.1"/>
<path d="M839.2,141.7 843.1,140.4 847,143 847.7,145.5 843.1,145 840,143.5Z" fill="#b9382c" stroke="#b9382c" stroke-width="1.1"/>
<path d="M932.7,160.5 937.1,157.9 942.2,158.9 940.9,162 936.3,163Z" fill="#b9382c" stroke="#b9382c" stroke-width="1.1"/>
<path d="M753,92.8 755.1,94.1 754.3,98.7 753,99.2Z" fill="#b9382c" stroke="#b9382c" stroke-width="1.1"/>
<path d="M756.6,99.2 760.2,100.2 758.7,101.8Z" fill="#b9382c" stroke="#b9382c" stroke-width="1.1"/>
<path d="M753,106.9 756.1,108.2 755.6,111.6 753,112.1Z" fill="#b9382c" stroke="#b9382c" stroke-width="1.1"/>
<path d="M769.7,136.5 773.1,135.2 774.1,138.3 771,139.9Z" fill="#b9382c" stroke="#b9382c" stroke-width="1.1"/>
<path d="M843.1,248.8 845.2,247.5 847,254 848.8,260.4 850.3,265.5 847.7,266.8 845.7,273.3 843.6,269.4 843.6,263 843.1,255.2Z" fill="#b9382c" stroke="#b9382c" stroke-width="1.1"/>
<path d="M525.1,88.9 527.2,82.5 531.6,79.1 536,81.2 538.5,85 540.6,78.6 544.5,74.8 548.3,73 550.4,76 547.8,81.2 545.2,86.3 547,91.5 550.4,94.6 548.8,100.5 545.7,101.8 544.5,97.9 541.9,104.4 540.6,112.1 538.5,115.9 535.4,109.5 531.6,104.4 527.7,97.9 525.1,92.8Z" fill="#ffffff" stroke="#ffffff" stroke-width="1.1"/>
<path d="M548.8,72.2 553.5,70.4 558.6,71.9 564.3,74 566.9,77.3 563.2,81.7 558.1,85 553,86.3 550.4,82.5 551.4,77.3Z" fill="#ffffff" stroke="#ffffff" stroke-width="1.1"/>
<path d="M550.9,94.6 554.8,93 558.1,96.1 558.6,101.8 556,105.9 551.9,106.4 549.9,101.8Z" fill="#ffffff" stroke="#ffffff" stroke-width="1.1"/>
<path d="M513,225.4 511.4,220.6 510.6,215.8 512.2,211.8 515.4,208.6 519.4,205.4 523.4,201.4 525.8,197.3 528.2,192.5 530.6,187.7 533,183.7 531.4,180.5 534.6,176.5 538.6,173.3 542.6,170.1 546.7,166.9 551.5,164.4 556.3,161.6 561.1,160.4 565.9,161.2 570.7,162.8 573.9,165.2 574.7,167.7 571.5,170.1 569.1,172.5 569.9,176.5 569.1,180.5 570.7,184.5 571.5,189.3 570.7,194.1 572.3,198.9 574.3,204.6 575.2,209.4 573.1,213.4 570.7,216.6 568.3,219.3 564.3,220.3 559.5,221.4 555.5,221.9 552.3,220.6 550.7,217.4 549.9,213.4 550.2,209.4 551.5,205.4 553.9,202.2 557.1,199.7 560.3,197.3 559.5,194.9 556.3,194.1 553.1,195.7 550.7,198.9 549.9,203 547.5,206.2 544.3,208.6 541.8,211.8 541,215.8 540.2,219.8 541,223 543.5,225.4 542.6,228.6 540.2,231 538.6,234.3 537.8,237.5 535.4,239.9 533,241.5 530.6,240.7 529.3,237.5 528.2,233.5 527.1,229.4 525.8,226.2 523.4,225.1 521,227.8 517.8,229.4 514.6,228.6Z" fill="#fce3c5" stroke="#fce3c5" stroke-width="1.1"/>
<path d="M473,248 475,245.5 478.1,244 480.6,243 482.6,244.5 484.1,247 483.6,250 481.6,252.6 478.6,254.1 475.5,254.6 473,253.6 474,251Z" fill="#fef3e6" stroke="#fef3e6" stroke-width="1.1"/>
<path d="M480.6,243 482.6,241.5 485.1,242.5 485.1,245 483.6,246 482.6,244.5Z" fill="#f7b982" stroke="#f7b982" stroke-width="1.1"/>
<path d="M486.3,229 488.6,228 491.6,225.5 492.3,228 491.1,231 493.6,232 493.1,235 494.1,237 493.6,239.5 495.1,241 497.6,244 499.3,247 500.6,250 502.6,251.5 503.1,254.1 501.3,256.1 498.6,257.3 495.6,257.9 492.6,258.6 489.1,259.6 485.1,260.9 487.6,258.6 490.1,256.6 488.1,255.1 486.3,254.1 488.6,252.1 490.1,250 489.6,248 490.6,245.5 489.1,244 487.6,242 486.3,240 485.1,237.5 485.6,235 484.6,233 485.9,231Z" fill="#f7b982" stroke="#f7b982" stroke-width="1.1"/>
<path d="M488.5,266.3 491.5,265.1 495.1,263.9 494.5,261.5 497.5,261.5 500.6,260.3 503,257.9 506.6,259.1 509.6,260.9 512.6,262.7 516.2,264.5 518,266.3 517.4,268.7 515.6,270.6 514.4,273 515.6,275.4 516.2,278.4 515.6,280.8 513.2,282 510.2,282.6 507.2,281.4 505.4,280.2 503,281.4 500.6,282.6 497.5,282.3 495.7,281.4 495.5,277.8 494.5,274.2 493.3,271.2 491.5,268.7 489.1,267.5Z" fill="#dc6045" stroke="#dc6045" stroke-width="1.1"/>
<path d="M476.5,283.2 478.9,281.4 483.7,281.4 489.7,282 495.1,282.6 499.3,284.4 503.6,285.4 506.6,286.2 504.8,288.7 501.8,290.5 499.3,292.3 498.1,295.3 497.5,297.7 495.7,299.5 492.1,301.1 488.5,301.9 485.5,302.7 484.3,301.5 482.5,300.1 481.5,298.3 481.9,295.3 482.5,291.7 482.7,288.1 481.9,286.2 478.3,286.2 477.1,285Z" fill="#f7b982" stroke="#f7b982" stroke-width="1.1"/>
<path d="M477.1,286.2 481.9,286.2 482.7,288.1 482.5,291.7 481.9,295.3 481.5,298.3 481.9,300.1 478.9,300.3 477.1,299.8 476.7,297.1 475.9,294.1 477.1,291.1 477.4,288.1Z" fill="#fef3e6" stroke="#fef3e6" stroke-width="1.1"/>
<path d="M504.6,257.6 507.1,255.6 509.1,253.1 510.2,251 511.7,249 514.2,248 515.7,248.5 515.2,251.5 514.7,254.6 514.2,257.6 515,260.6 516.7,263.6 515.2,263.1 512.2,262.1 509.6,260.6 507.1,259.1Z" fill="#f7b982" stroke="#f7b982" stroke-width="1.1"/>
<path d="M515.7,248.5 517.7,247 520.2,246 521.2,244 524.2,244.5 526.7,245.5 529.2,245 532.2,246 533.7,248 534.2,251 534,254.1 534.7,257.1 532.2,258.1 529.7,259.1 528.7,260.6 530.2,262.6 531.7,264.6 530.2,266.1 528.2,267.1 525.2,267.6 522.2,267.9 519.7,268.1 518.7,265.1 517.7,264.1 516.7,263.6 515,260.6 514.2,257.6 514.7,254.6 515.2,251.5Z" fill="#f7b982" stroke="#f7b982" stroke-width="1.1"/>
<path d="M519.1,235 521.1,233.5 522.6,233 523.1,235 522.6,238 523.3,241 522.6,244.1 520.6,244.6 519.6,242.1 518.9,239Z" fill="#f7b982" stroke="#f7b982" stroke-width="1.1"/>
<path d="M524.1,240 526.6,239 528.1,240.5 527.1,242.6 525.1,243.1Z" fill="#f7b982" stroke="#f7b982" stroke-width="1.1"/>
<path d="M534.1,246.6 537.1,245.1 540.1,244.1 543.1,243.1 546.1,243.6 549.1,244.6 552.2,244.6 554.7,245.6 556.2,247.6 556.7,250.6 556.2,253.6 557.2,256.1 556.2,259.1 554.7,261.6 553.2,263.1 550.7,262.6 548.1,262.1 545.6,262.6 543.6,261.6 541.1,260.1 538.6,259.1 536.1,257.6 534.9,255.1 534.3,251.6 533.9,249.1Z" fill="#f7b982" stroke="#f7b982" stroke-width="1.1"/>
<path d="M528.6,260.1 530.1,258.6 533.1,257.9 535.6,257.3 538.6,259.1 541.1,260.1 543.6,261.6 542.6,263.6 540.6,265.3 537.5,266.1 535.1,266.5 532.3,266.7 530.6,265.1 529.9,262.6Z" fill="#f7b982" stroke="#f7b982" stroke-width="1.1"/>
<path d="M539.2,263.9 541.7,262.6 544.8,261.6 547.3,261.3 550.3,261.8 552.8,262.3 553.9,264.4 553.1,267.2 551.5,266 548.7,266.4 545.5,267.2 542.7,268 540.3,268.8 539.5,267.6Z" fill="#f7b982" stroke="#f7b982" stroke-width="1.1"/>
<path d="M550.7,239.5 553.2,238 556.2,237.5 559.2,238 562.2,240 563.2,241.5 561.7,243.6 559.7,245.1 557.7,246.3 555.7,245.6 554.2,244.1 552.2,243.6 549.6,244.1 548.1,243.1 549.1,241.5 550.7,241Z" fill="#f7b982" stroke="#f7b982" stroke-width="1.1"/>
<path d="M548.1,243.1 549.6,244.1 552.2,243.6 554.2,244.1 554.7,245.6 552.2,245.1 549.1,244.9Z" fill="#f7b982" stroke="#f7b982" stroke-width="1.1"/>
<path d="M550.2,235 553.2,233.5 556.2,234 557.7,235 559.2,233 562.2,233.5 565.2,235 566.7,238 564.2,239 562.2,240 559.2,238 556.2,237.5 553.2,238 550.7,239.5 549.9,237Z" fill="#ffffff" stroke="#ffffff" stroke-width="1.1"/>
<path d="M554.7,227 556.2,225 559.2,224.2 563.2,223.8 566.2,225 566.7,228 566.2,231 563.2,232 560.2,231 559.2,232.5 557.2,231.5 555.2,230Z" fill="#fce3c5" stroke="#fce3c5" stroke-width="1.1"/>
<path d="M551.7,228 553.7,227.5 554,229.2 552.2,229.8Z" fill="#fce3c5" stroke="#fce3c5" stroke-width="1.1"/>
<path d="M552.2,225.5 553.7,225 554,226.4 552.6,226.8Z" fill="#fce3c5" stroke="#fce3c5" stroke-width="1.1"/>
<path d="M563.2,241.5 566.2,239 570.2,238.5 573.7,240 574.7,243.6 577.2,246.6 577.7,249.1 575.2,250.1 574.7,253.1 572.2,255.1 569.2,254.6 565.7,254.1 562.2,253.6 559.2,253.1 556.7,253.6 556.2,250.6 556.7,247.6 557.7,246.3 559.7,245.1 561.7,243.6Z" fill="#f7b982" stroke="#f7b982" stroke-width="1.1"/>
<path d="M556.7,254.1 559.2,253.3 562.2,253.8 565.7,254.3 569.2,254.8 572.2,255.3 574.7,253.3 577.7,252.6 580.7,252.1 582.7,254.6 584.3,257.6 587.3,259.1 590.3,260.1 593.8,261.1 596.3,262.6 595.8,265.1 594.8,267.6 592.3,269.6 589.8,270.6 587.3,272.1 584.3,272.9 581.2,273.6 578.7,273.1 576.2,272.1 574.2,273.1 572.2,275.7 570.7,275.2 571.7,273.1 570.7,270.6 569.2,268.1 566.7,266.1 564.7,266.9 561.7,267.6 558.2,268.1 554.7,267.6 553.7,266.1 553,263.6 554.7,261.6 556.2,259.1 557.2,256.1Z" fill="#f7b982" stroke="#f7b982" stroke-width="1.1"/>
<path d="M579.2,274.6 581.7,273.6 584.3,274.6 585.8,276.2 583.8,277.2 581.7,279.2 580.2,277.2Z" fill="#f7b982" stroke="#f7b982" stroke-width="1.1"/>
<path d="M515.4,274 517,272.4 515,271.2 515.8,269.6 517.8,268.8 519.8,269.6 522.3,270 525.1,269.6 527.9,269.2 530.3,269.6 532.3,270.8 533.1,272.8 531.9,274 530.3,275.2 529.1,276.4 529.9,278 531.5,280.1 533.5,282.1 535.9,284.5 538.3,286.5 540.7,288.5 542.7,290.1 543.5,292.1 542.3,292.5 540.7,290.9 539.1,290.1 539.5,292.1 540.3,294.1 539.5,296.1 538.3,297.7 537.1,296.5 537.5,294.5 537.1,292.5 535.9,290.5 533.9,288.5 531.5,286.5 529.1,284.5 527.1,282.5 525.5,280.5 523.9,279.3 521.9,278.4 519.4,278.4 517,279.3 515.8,277.6 515,275.6Z" fill="#f7b982" stroke="#f7b982" stroke-width="1.1"/>
<path d="M529.1,297.7 531.1,297.3 533.5,297.3 535.9,296.9 535.5,298.9 534.3,300.9 532.3,300.1 530.3,299.1Z" fill="#f7b982" stroke="#f7b982" stroke-width="1.1"/>
<path d="M518.6,289.7 520.6,288.9 522.3,289.7 522.3,292.5 521.4,294.9 519.8,295.3 518.8,293.3Z" fill="#f7b982" stroke="#f7b982" stroke-width="1.1"/>
<path d="M519.4,284.9 521,283.7 521.9,285.3 521.4,287.7 520.2,288.1 519.4,286.5Z" fill="#f7b982" stroke="#f7b982" stroke-width="1.1"/>
<path d="M515,271.2 515.8,269.6 517.8,268.8 519.8,269.6 521,268.8 522.3,270 520.6,271.6 518.6,272.4 516.6,272.8Z" fill="#f7b982" stroke="#f7b982" stroke-width="1.1"/>
<path d="M522.3,270 521,268.8 523.5,267.6 526.3,266.8 529.1,266.4 532.3,266.8 535.1,266.4 537.5,266 539.5,267.6 538.7,270 536.7,271.2 533.9,271.5 531.5,271 529.1,270 527.9,269.2 525.1,269.6Z" fill="#f7b982" stroke="#f7b982" stroke-width="1.1"/>
<path d="M532.3,270.8 533.9,271.5 536.7,271.2 537.5,272.8 535.9,274 533.9,274 532.7,273.2Z" fill="#f7b982" stroke="#f7b982" stroke-width="1.1"/>
<path d="M533.9,274.2 535.9,274.2 537.9,273.1 540.3,272 542.7,273.2 545.1,273.6 545.5,274.8 544.3,275.8 541.5,275.6 538.7,275.8 537.9,277.2 539.1,279.3 541.1,281.7 543.1,283.7 544.3,284.9 542.7,284.5 540.7,282.7 538.7,280.6 536.7,278.4 535.1,276.4Z" fill="#f7b982" stroke="#f7b982" stroke-width="1.1"/>
<path d="M538.7,270 540.3,268.8 542.7,268 545.5,267.2 548.7,266.4 551.5,266 553.1,267.2 552.3,269.2 550.7,271.2 548.7,272.8 545.9,273.9 543.5,273.9 541.1,272.4 539.5,271.5Z" fill="#fef3e6" stroke="#fef3e6" stroke-width="1.1"/>
<path d="M538.1,277.2 538.9,275.8 541.5,275.8 544.3,276 545.1,277.6 544.7,280.1 543.9,282.5 542.7,283.5 541.1,281.7 539.3,279.3Z" fill="#fef3e6" stroke="#fef3e6" stroke-width="1.1"/>
<path d="M545.5,274.8 546.7,274 548.7,273 549.9,274 551.1,276 552.7,278 553.9,280.1 553.5,282.5 552.3,284.5 550.3,285.3 548.3,284.9 546.7,283 546.3,280.9 545.5,278.4 545.4,276.4Z" fill="#fef3e6" stroke="#fef3e6" stroke-width="1.1"/>
<path d="M550.7,271.2 552.3,269.2 553.9,268 556.8,268.4 560,267.6 562.8,266.8 564.8,268 566,270.4 567.2,272.8 568.4,275.2 569.2,277.2 568,278.4 567.6,280.1 564.8,280.9 561.6,281.3 558.8,280.9 556.4,279.8 554.3,278 552.7,276 551.5,274Z" fill="#b9382c" stroke="#b9382c" stroke-width="1.1"/>
<path d="M564.8,268 566.4,266.8 568.4,268.4 570,270.8 571.2,273.2 570,275.2 568.8,274 567.6,272 566.4,270Z" fill="#f7b982" stroke="#f7b982" stroke-width="1.1"/>
<path d="M553.9,280.1 555.2,281.3 558.8,281 561.6,281.4 564.8,281 567.2,280.3 566.8,282.5 566,284.9 566.4,286.1 564,286.9 561.2,287.5 558.4,287.7 556,287 553.9,286.1 552.7,284.5 553.5,282.5Z" fill="#f7b982" stroke="#f7b982" stroke-width="1.1"/>
<path d="M543.9,282.7 545.5,282.1 546.7,283.3 547.5,284.9 546.3,286.1 545.1,285.3Z" fill="#f7b982" stroke="#f7b982" stroke-width="1.1"/>
<path d="M546.3,286.1 547.9,285.3 548.7,287.7 549.1,290.1 548.3,292.5 547.1,291.7 546.3,289.3Z" fill="#f7b982" stroke="#f7b982" stroke-width="1.1"/>
<path d="M549,286.1 551.1,285.4 553.1,286.1 554.1,287.5 552.3,288.9 549.9,289.3 549,287.8Z" fill="#f7b982" stroke="#f7b982" stroke-width="1.1"/>
<path d="M547.5,283.7 549,283.3 549.9,284.9 548.7,285.9 547.7,285.1Z" fill="#f7b982" stroke="#f7b982" stroke-width="1.1"/>
<path d="M548.3,292.7 549.3,290.2 550.1,289.4 552.5,289 554.3,287.7 556.4,287.3 558.8,287.8 561.3,287.7 564,287 564.8,288.5 562.4,289.3 560.4,289.7 558,289.4 556.4,290.1 556.8,291.7 555.2,292.3 553.5,291.5 554.1,293.5 555.6,294.9 553.9,295.5 555.2,297.7 556.4,299.3 554.3,300.1 553.1,302 551.7,299.7 550.7,297.7 550.1,295.5 549.1,294.1Z" fill="#f7b982" stroke="#f7b982" stroke-width="1.1"/>
<path d="M556,304.9 558.4,305.2 561.2,305.7 564,305.3 564.4,306.1 561.2,306.8 558,306.3 556.2,305.7Z" fill="#f7b982" stroke="#f7b982" stroke-width="1.1"/>
<path d="M564,287 566.4,286.2 568.4,287.3 569.6,288.9 567.2,289.7 565.2,289.3Z" fill="#b9382c" stroke="#b9382c" stroke-width="1.1"/>
<path d="M563.6,292.1 566.1,291.3 568.6,290.1 571.6,289.1 575.1,287.9 579.1,286.9 583.2,287.3 586.7,288.6 590.2,289.6 594.2,289.1 597.7,288.3 600.2,287.6 603.7,287.9 606.2,288.9 606.7,290.9 608.2,292.3 607.2,294.6 606.2,297.1 606.7,299.6 604.7,300.1 601.7,299.6 599.2,300.6 596.2,301.1 592.7,301.3 590.2,300.9 587.2,302.3 585.7,303.6 584.2,301.9 581.2,302.9 578.1,302.3 575.1,302.9 572.1,302.1 570.1,300.6 567.6,299.6 565.6,297.6 564.1,295.1Z" fill="#b9382c" stroke="#b9382c" stroke-width="1.1"/>
<path d="M598.8,283 601.5,283.3 605,284.3 608.6,285 610.6,286.8 609.8,288.3 607.1,288.1 604.5,287.8 601.5,287.3 600,285.8Z" fill="#fef3e6" stroke="#fef3e6" stroke-width="1.1"/>
<path d="M605,289.3 607.1,288.4 609.1,289.5 610.1,291.8 609.8,294.3 608.1,294.1 606.5,293.1 605.5,291.3 604.8,290Z" fill="#fef3e6" stroke="#fef3e6" stroke-width="1.1"/>
<path d="M610.6,286.9 612.1,288 614.6,289 617.1,288.1 618.8,290 619.6,291.5 618.1,293.1 617.3,295.1 615.6,294.8 613.6,294.3 611.6,294.8 610.1,291.8 609.3,289.8 609.8,288.3Z" fill="#fef3e6" stroke="#fef3e6" stroke-width="1.1"/>
<path d="M577.1,305.9 579.6,304.9 582.2,304.3 581.2,305.9 579.1,306.9 577.6,306.7Z" fill="#ffffff" stroke="#ffffff" stroke-width="1.1"/>
<path d="M612.8,262.4 615.3,257.2 623.1,254.7 630.8,255.2 638.5,256.7 646.2,255.9 647.5,248.2 651.4,244.9 659.1,243.8 665.5,241.3 672,243.8 678.4,246.4 683.6,245.6 688.7,249 692.6,254.7 697.7,257.2 702.9,259.8 708,262.9 710.6,264.4 706.7,268.8 701.1,272.2 697.7,277.3 693.9,280.9 692.6,284.3 686.1,284.3 679.7,285 674.6,286.1 669.4,288.1 663,287.6 657.8,284.3 652.7,281.7 646.2,279.9 639.8,277.3 635.2,276.5 634.7,281.7 634.7,286.8 629.5,288.1 628.2,281.7 625.6,276.5 627.4,272.2 621.8,271.4 617.9,274 615.3,279.1 612.8,272.7 612,267.5Z" fill="#b9382c" stroke="#b9382c" stroke-width="1.1"/>
<path d="M713.2,264.4 718.3,261.9 726,259.3 733.8,257.7 737.6,254.7 742.8,255.9 747.9,258.5 754.4,260.3 763.4,262.4 771.1,261.9 778.8,261.1 782.7,263.7 781.9,267 786.5,268 789.1,270.6 784,272.7 778.8,274.7 773.7,277.3 769.8,280.9 764.7,283 758.2,285.5 750.5,286.1 742.8,284.3 735,283.5 729.9,280.9 724.8,277.3 720.9,272.7 718.3,268.8 714.5,267Z" fill="#fce3c5" stroke="#fce3c5" stroke-width="1.1"/>
<path d="M710.6,264.4 713.2,264.4 714.5,267 718.3,268.8 720.9,272.7 724.8,277.3 729.9,280.9 735,283.5 742.8,284.3 750.5,286.1 758.2,285.5 764.7,283 769.8,280.9 773.7,277.3 778.8,274.7 784,272.7 789.1,270.6 786.5,268 781.9,267 782.7,263.7 780,265.5 783.9,262.5 787.8,259.1 790.3,254 794.2,249.6 800.6,249.6 805.8,252.2 808.3,257.3 810.9,261.7 814.8,263 817.4,265.5 820.4,268.1 824.6,266.8 826.4,269.4 822.5,273.3 818.6,277.1 817.4,281 814.8,284.1 810.9,286.7 805.8,288.7 801.9,292.6 798,290 794.2,288.7 791.6,291.8 787.8,292.6 785.2,295.9 787.8,299 792.9,300.3 795.5,302.1 791.6,304.2 789,308 791.1,313.9 791.3,298.8 795.3,300.4 792.9,302.8 790.5,305.2 791.3,309.3 793.7,312.5 794.5,316.5 792.9,320.5 791.3,324.5 789.7,328.5 787.3,331.7 784.1,334.9 780.1,337.3 776,338.1 772.8,337.3 768.8,338.9 765.6,340.6 761.6,339.4 768.4,341.4 766,339.7 762.8,338.1 759.6,338.9 756.3,336.5 752.3,336.9 748.3,338.9 745.1,339.7 742.7,338.1 740.3,335.7 737.1,332.5 738.7,328.5 737.9,324.5 734.7,323.7 731.5,321.3 726.7,322.9 721.8,325.3 718.6,324.5 714.6,325.6 713,325.6 708.2,322.9 703.4,320.5 698.6,318.1 695.4,317.3 693.8,316.5 691.4,311.7 689.7,306.9 685.7,306 684.9,303.6 681.7,301.2 680.1,298 679.3,294.8 680.1,290.8 691.3,289.4 693.9,285.5 692.6,284.3 693.9,280.9 697.7,277.3 701.1,272.2 706.7,268.8Z" fill="#dc6045" stroke="#dc6045" stroke-width="1.1"/>
<path d="M669.4,288.1 674.6,286.1 679.7,285 686.1,284.3 692.6,284.3 693.9,285.5 691.3,289.4 686.1,290.7 681,292 675.8,293.3 672,291.2Z" fill="#b9382c" stroke="#b9382c" stroke-width="1.1"/>
<path d="M663,294.6 668.1,292 672,291.2 675.8,293.3 681,292 683,295.8 681,297.9 677.1,299.7 673.3,298.4 668.1,299.7 664.3,298.4Z" fill="#f7b982" stroke="#f7b982" stroke-width="1.1"/>
<path d="M635.2,276.5 639.8,277.3 646.2,279.9 652.7,281.7 657.8,284.3 663,287.6 669.4,288.1 672,291.2 668.1,292 663,294.6 664.3,298.4 660.4,297.9 656.5,294.6 652.7,290.7 647.5,288.1 642.4,285.5 638.5,281.7 634.7,281.7Z" fill="#dc6045" stroke="#dc6045" stroke-width="1.1"/>
<path d="M627.4,293.3 629.5,288.1 634.7,286.8 634.7,281.7 638.5,281.7 642.4,285.5 647.5,288.1 652.7,290.7 656.5,294.6 660.4,297.9 659.3,298 656.3,300 653.2,302 650.2,304 647.7,306.5 646.7,303.5 644.2,301 640.2,299 636.2,298 632.2,298.5 630.2,296.5 628.7,295Z" fill="#fce3c5" stroke="#fce3c5" stroke-width="1.1"/>
<path d="M646.7,319.1 647.7,316.1 647.2,313.1 646.7,309.5 647.7,306.5 650.2,304 653.2,302 656.3,300 659.3,298 662.3,299 666.3,298 664.1,300.4 668.1,299.6 672.1,298.8 674.5,301.2 672.1,302.8 671.3,306 669.7,309.3 666.5,312.5 663.3,315.7 660.1,318.9 655.2,319.7 649.6,321.3 649.7,320.1Z" fill="#dc6045" stroke="#dc6045" stroke-width="1.1"/>
<path d="M672.9,302 676.9,300.4 681.7,301.2 684.9,303.6 685.7,306 680.1,307.3 674.5,306Z" fill="#c8c8c8" stroke="#c8c8c8" stroke-width="1.1"/>
<path d="M673.7,306 676.1,308.9 678.5,311.7 679.3,315.7 677.7,319.7 674.5,323.7 669.7,326.1 667.3,329.3 668.9,333.3 666.5,335.7 662.5,334.1 658.5,332 654.4,331.4 648.8,330.9 650.4,327.7 648,324.5 649.6,321.3 655.2,319.7 660.1,318.9 663.3,315.7 666.5,312.5 669.7,309.3 671.3,306Z" fill="#b9382c" stroke="#b9382c" stroke-width="1.1"/>
<path d="M673.7,306 679.3,306.9 686.5,305.2 689.7,306.9 691.4,311.7 693.8,316.5 696.2,319.7 701.8,322.1 707.4,325 713,327.7 715.4,326.1 721.8,325.3 726.7,322.9 731.5,321.3 734.7,323.7 733.1,327.7 729.9,330.9 727.5,334.9 723.5,338.1 721.8,334.1 718.6,335.7 719.4,338.9 715.4,339.7 711.4,341.4 707.4,344.6 703.4,347.8 698.6,351 694.6,354.2 693,359 691.4,364.6 688.9,369.4 686.5,371 684.1,367 681.7,362.2 679.3,357.4 677.2,352.6 676.1,347 675.6,342.2 672.9,340.6 670.5,341.4 668.1,338.9 666.5,335.7 668.9,333.3 667.3,329.3 669.7,326.1 674.5,323.7 677.7,319.7 679.3,315.7 678.5,311.7 676.1,308.9Z" fill="#b9382c" stroke="#b9382c" stroke-width="1.1"/>
<path d="M693.8,316.5 695.4,317.3 698.6,318.1 703.4,320.5 708.2,322.9 713,325.6 713,327.7 707.4,325 701.8,322.1 696.2,319.7Z" fill="#dc6045" stroke="#dc6045" stroke-width="1.1"/>
<path d="M714.6,325.6 718.6,324.5 721.8,325.3 718.6,326.9 715.4,327.2Z" fill="#f7b982" stroke="#f7b982" stroke-width="1.1"/>
<path d="M713.5,328.5 717,327.7 721,328.8 722.6,332 721.8,334.1 718.6,335.7 719.4,338.1 716.7,338.5 715.1,335.7 713.8,332Z" fill="#dc6045" stroke="#dc6045" stroke-width="1.1"/>
<path d="M609.6,305.5 608.6,302 606.6,300 606.3,297.5 606.9,295 607.5,294.1 610,295.1 612.5,294.6 615,295.1 617,297.1 618.1,298 621.2,300 625.2,301.5 628.7,300.5 632.2,298.5 636.2,298 640.2,299 644.2,301 646.7,303.5 647.7,306.5 646.7,309.5 647.2,313.1 647.7,316.1 646.7,319.1 649.2,321.6 651.2,324.1 651.7,327.1 650.2,329.1 648.7,330.6 645.2,330.6 641.2,329.6 638.2,328.6 636.7,327.1 633.7,327.6 630.2,327.9 626.7,327.1 624.2,325.6 622.2,323.1 620.2,320.6 618.1,319.1 615.6,319.6 614.9,319.6 614.1,316.6 612.6,314.1 611.1,311 610.1,308Z" fill="#f7b982" stroke="#f7b982" stroke-width="1.1"/>
<path d="M594.1,311.5 596.6,309.5 599.6,306.5 602.1,303 604.1,300.5 606.6,300 608.6,302 609.6,305.5 610.1,308 611.1,311 612.6,314.1 614.1,316.6 614.9,319.6 613.1,320.1 612.6,321.3 610.1,322.1 607.1,320.9 603.6,319.1 600.1,317.1 597.1,315.6 594.6,314.6Z" fill="#b9382c" stroke="#b9382c" stroke-width="1.1"/>
<path d="M587.1,307 586,305 587.2,302.3 590.2,300.9 592.7,301.3 596.2,301.1 599.2,300.6 601.7,299.6 604.1,300.2 602.1,303 599.6,306.5 596.6,309.5 594.1,311.5 592.6,313.1 589.6,315.1 588.1,312.1 587.3,309.5Z" fill="#fef3e6" stroke="#fef3e6" stroke-width="1.1"/>
<path d="M584,322.1 585,318.6 586.5,316.6 589.6,315.1 592.6,313.1 594.1,311.5 594.6,314.6 594.1,315.1 591.6,315.6 589.6,317.6 586.5,320.1Z" fill="#fef3e6" stroke="#fef3e6" stroke-width="1.1"/>
<path d="M582.8,315.1 584.5,313.6 585.5,315.1 585,318.1 584,321.6 583,319.1Z" fill="#fef3e6" stroke="#fef3e6" stroke-width="1.1"/>
<path d="M585,310 586.5,309 587.1,311.5 585.5,313.1Z" fill="#ffffff" stroke="#ffffff" stroke-width="1.1"/>
<path d="M584,322.1 586.5,320.1 589.6,317.6 591.6,315.6 594.1,315.1 597.1,315.6 600.1,317.1 603.6,319.1 607.1,320.9 610.1,322.1 612.6,321.3 614.1,322.9 615.6,325.1 617.6,327.1 619.6,329.6 621.7,332.1 623.7,334.6 626.2,336.6 629.2,337.6 632.7,337.1 633.7,339.1 633.2,342.1 631.2,344.1 628.2,345.7 624.7,347.2 621.2,348.2 617.1,349.2 613.1,350 609.6,350.2 604.1,350.4 602.1,351.2 600.1,348.2 598.1,344.6 596.3,341.1 594.1,337.6 592.1,334.1 590.1,330.1 588.1,326.6 586,324.1Z" fill="#f09360" stroke="#f09360" stroke-width="1.1"/>
<path d="M626.2,335.1 628.7,334.6 631.2,333.6 633.2,332.1 634.7,330.6 635.7,330.1 635.2,332.6 634.2,335.1 633.2,337.1 629.2,337.6 626.2,336.6Z" fill="#f09360" stroke="#f09360" stroke-width="1.1"/>
<path d="M635.7,330.1 636.7,332.6 639.2,334.6 641.7,336.1 644,338.1 642.7,340.6 641.2,343.1 639.2,345.2 637.2,347.2 634.2,348.7 631.2,350.2 628.2,351.2 626.2,348.2 628.2,345.7 631.2,344.1 633.2,342.1 633.7,339.1 633.2,337.1 634.2,335.1 635.2,332.6Z" fill="#f7b982" stroke="#f7b982" stroke-width="1.1"/>
<path d="M635.2,328.6 636.2,327.6 636.7,329.6 635.7,330.3Z" fill="#f7b982" stroke="#f7b982" stroke-width="1.1"/>
<path d="M602.1,351.2 604.1,350.4 609.6,350.2 613.1,350 617.1,349.2 621.2,348.2 624.7,347.2 626.2,348.2 628.2,351.2 625.2,353.2 621.2,355 617.1,356.4 612.1,357.7 608.1,358.7 604.6,359.2 603.6,356.7Z" fill="#b9382c" stroke="#b9382c" stroke-width="1.1"/>
<path d="M621.7,329.1 623.2,328.6 624.2,330.6 623.7,332.6 622.2,332.1Z" fill="#c8c8c8" stroke="#c8c8c8" stroke-width="1.1"/>
<path d="M613.1,320.1 614.9,319.6 615.6,321.3 614.1,322.3Z" fill="#ffffff" stroke="#ffffff" stroke-width="1.1"/>
<path d="M801.9,292.6 805.8,288.7 810.9,286.7 814.8,284.1 817.4,281.5 816.8,286.1 813.5,290 810.9,293.9 811.7,296.4 807.1,297.7 803.2,296.4Z" fill="#fef3e6" stroke="#fef3e6" stroke-width="1.1"/>
<path d="M805.7,298.8 808.9,297.7 812.2,299.3 813.3,302.8 812.6,306 809.7,307.3 806.5,306.9 805.3,303.6Z" fill="#fce3c5" stroke="#fce3c5" stroke-width="1.1"/>
<path d="M840.2,290 842.6,291.6 843.5,295.6 841.8,299.6 839.4,303.6 837.8,306 834.6,306 831.4,307.7 828.2,310.1 825,309.3 821.8,310.1 818.6,310.9 816.2,310.1 818.1,307.3 821.8,306 825.8,305.2 829.8,303.6 833,301.2 836.2,298.8 838.3,295.6 839,292.4 839.4,288.4 841,287.6Z" fill="#f7b982" stroke="#f7b982" stroke-width="1.1"/>
<path d="M814.2,311.7 816.5,310.5 818.1,312.5 817.5,315.4 815.8,317 814.6,314.9Z" fill="#f7b982" stroke="#f7b982" stroke-width="1.1"/>
<path d="M821.8,308.9 825,308 825.8,309.6 822.9,310.5Z" fill="#f7b982" stroke="#f7b982" stroke-width="1.1"/>
<path d="M842.6,281 844.4,277.1 848.2,279.7 852.1,281 850.3,284.1 846.2,286.1 843.1,285.6Z" fill="#f7b982" stroke="#f7b982" stroke-width="1.1"/>
<path d="M790.5,333.7 792.1,330.1 794,329.8 794.5,333.3 793.4,336.5 791.8,337.8Z" fill="#dc6045" stroke="#dc6045" stroke-width="1.1"/>
<path d="M762.4,345.4 764.8,343.8 767.2,344.6 767.7,346.5 765.6,348.1 763.2,347.8Z" fill="#fef3e6" stroke="#fef3e6" stroke-width="1.1"/>
<path d="M723.5,338.1 727.5,334.9 729.9,330.9 733.1,327.7 734.7,323.7 737.9,324.5 738.7,328.5 737.1,332.5 740.3,335.7 742.7,338.1 745.1,339.7 742.2,343 739.2,344 736.2,346 735.2,349 736.7,352 737.2,355 739.2,358.6 740.2,361.6 739.7,364.6 739.2,367.6 738.2,369.1 737.4,366.1 736.7,362.6 735.7,359.1 734.7,356.5 733.2,355 732.7,352 730.2,353 728.2,352 728.7,348.5 726.7,345 724.2,342Z" fill="#f7b982" stroke="#f7b982" stroke-width="1.1"/>
<path d="M748.3,338.9 752.3,336.9 756.3,336.5 759.6,338.9 758,342.2 755.5,344.6 758,347.8 761.2,351.8 763.6,355.8 764.4,359.8 762.8,363.8 758.8,367 754.7,369.9 753.1,367 756.3,364.6 759.6,361.4 760,358.6 759.8,354 758.8,351 756.3,348.5 753.8,346 751.8,343.5 750.3,341 747.3,340Z" fill="#f7b982" stroke="#f7b982" stroke-width="1.1"/>
<path d="M736.2,346 739.2,344 742.2,343 743.8,345 745.3,348 748.3,349 751.3,348.5 753.8,350 754.8,353 753.3,355 750.3,356 748.3,357.6 747.8,360.1 748.8,362.6 746.3,363.6 744.3,362.1 741.7,361.6 740.7,363.6 740.2,366.1 740.7,369.1 741.7,371.6 743.2,374.1 745.3,375.6 744.3,376.6 742.2,375.1 740.2,372.6 738.7,369.6 739.2,367.6 739.7,364.6 740.2,361.6 739.2,358.6 737.2,355 736.7,352 735.2,349Z" fill="#f7b982" stroke="#f7b982" stroke-width="1.1"/>
<path d="M742.2,343 744.3,341 747.3,340 750.3,341 751.8,343.5 753.8,346 756.3,348.5 758.8,351 759.8,354 757.8,355 755.8,353.5 754.8,353 753.8,350 751.3,348.5 748.3,349 745.3,348 743.8,345Z" fill="#fef3e6" stroke="#fef3e6" stroke-width="1.1"/>
<path d="M748.3,357.6 750.3,356 753.3,355 754.8,356 757.8,355.2 759.8,354.5 760,358.6 758.8,361.6 756.3,363.6 753.3,365.1 750.8,364.1 749.3,362.6 747.8,360.1Z" fill="#fef3e6" stroke="#fef3e6" stroke-width="1.1"/>
<path d="M742.2,375.1 744.3,376.6 745.3,375.6 747.3,376.6 749.3,378.6 750.3,381.1 750.8,384.1 749.8,386.1 748.3,385.1 746.3,383.1 744.3,380.6 742.7,377.6Z" fill="#fef3e6" stroke="#fef3e6" stroke-width="1.1"/>
<path d="M730.2,376.6 733.2,376.6 736.2,378.1 739.2,380.6 742.2,383.1 745.3,385.6 748.3,388.1 751.3,390.7 754.3,393.2 756.8,396.2 759.3,399.2 761.3,402.7 760.3,405.2 757.8,404.2 755.3,401.7 752.3,399.2 748.3,397.7 745.3,394.7 742.2,391.7 739.2,388.1 736.2,384.6 733.2,381.1 731.2,378.6Z" fill="#b9382c" stroke="#b9382c" stroke-width="1.1"/>
<path d="M755.7,403.1 760.1,403.1 765.1,404.5 771.2,405.1 776.2,407.1 774.2,408.5 768.1,407.7 762.1,406.5 757.1,405.1Z" fill="#b9382c" stroke="#b9382c" stroke-width="1.1"/>
<path d="M777.2,407.1 782.2,407.7 786.2,408.5 784.2,409.7 779.2,409.1Z" fill="#b9382c" stroke="#b9382c" stroke-width="1.1"/>
<path d="M788.2,409.1 793.2,408.1 797.2,407.7 796.2,409.7 791.2,410.1Z" fill="#b9382c" stroke="#b9382c" stroke-width="1.1"/>
<path d="M799.2,409.1 804.3,407.1 807.3,406.1 806.3,408.5 802.2,411.1 798.6,412.5Z" fill="#b9382c" stroke="#b9382c" stroke-width="1.1"/>
<path d="M763.1,388.1 767.1,384 772.2,382 777.2,379 781.2,375 784.2,374 787.2,377 785.2,380 786.2,385 784.2,389.1 781.2,393.1 780.2,397.1 775.2,398.1 770.2,396.1 766.1,395.1 764.1,392.1Z" fill="#b9382c" stroke="#b9382c" stroke-width="1.1"/>
<path d="M789.2,389.1 791.2,387.1 796.2,386.4 801.2,385.6 802.2,387.7 797.2,389.1 793.2,390.1 794.2,393.1 797.2,395.1 796.2,398.1 797.8,401.1 795.8,401.7 793.8,398.1 792.2,395.1 790.6,399.1 791.2,403.1 789.2,402.1 788.2,397.1 788.6,393.1Z" fill="#b9382c" stroke="#b9382c" stroke-width="1.1"/>
<path d="M808.3,385 810.3,383 811.3,386 809.9,390.1 808.7,392.1Z" fill="#b9382c" stroke="#b9382c" stroke-width="1.1"/>
<path d="M805.3,396.1 808.3,395.7 808.7,397.1 805.9,397.3Z" fill="#b9382c" stroke="#b9382c" stroke-width="1.1"/>
<path d="M811.3,395.1 815.3,396.1 816.3,397.7 812.3,397.1Z" fill="#b9382c" stroke="#b9382c" stroke-width="1.1"/>
<path d="M816.3,390.1 820.3,389.7 824.3,391.1 826.3,394.1 829.3,395.1 832.3,393.1 837.4,393.1 841.4,395.1 841.4,409.1 838.4,407.1 835.3,406.1 833.3,408.1 834.3,403.1 831.3,400.1 827.3,398.1 824.3,397.1 821.3,395.1 818.3,393.1Z" fill="#b9382c" stroke="#b9382c" stroke-width="1.1"/>
<path d="M841.4,395.1 846.4,397.1 851.4,400.1 855.4,401.1 858.4,402.1 856.4,404.1 860.4,407.1 863.4,410.1 865.4,412.1 861.4,412.1 857.4,410.1 853.4,408.1 849.4,408.1 845.4,409.1 841.4,409.1Z" fill="#fce3c5" stroke="#fce3c5" stroke-width="1.1"/>
<path d="M856.4,402.1 861.4,401.1 866.4,399.1 869.4,397.1 870.1,399.1 866.4,401.7 861.4,403.1Z" fill="#fce3c5" stroke="#fce3c5" stroke-width="1.1"/>
<path d="M789.7,353.2 790.5,349.6 791.5,347.2 793.7,346.8 795.5,347.6 796.1,350.4 795.3,352.8 794.1,354.8 794.9,356.4 796.9,358.1 798.9,358.3 800.7,357.8 800.3,359.7 798.5,360.1 796.5,359.7 794.9,359.3 793.7,360.1 792.5,361.3 791.5,359.7 790.7,357.3 790.1,355.2Z" fill="#b9382c" stroke="#b9382c" stroke-width="1.1"/>
<path d="M794.5,361.7 796.9,361 799.3,360.9 801.7,361.3 803.3,362.5 803.7,364.5 802.9,366.5 801.7,368.1 799.7,368.9 797.7,368.5 796.1,367.3 794.9,365.3 794.2,363.3Z" fill="#b9382c" stroke="#b9382c" stroke-width="1.1"/>
<path d="M796.9,362.9 798.9,362.5 799.7,364.1 798.5,365 797.1,364.5Z" fill="#ffffff" stroke="#ffffff" stroke-width="1.1"/>
<path d="M799.3,366.9 801.3,366.1 801.9,367.3 800.5,368.1Z" fill="#ffffff" stroke="#ffffff" stroke-width="1.1"/>
<path d="M800.1,371.7 801.7,370.1 803.7,369 805.3,369.8 805.9,372.1 805.3,374.5 803.7,376.1 801.7,376.3 800.3,374.9 799.5,373.3Z" fill="#b9382c" stroke="#b9382c" stroke-width="1.1"/>
<path d="M794.1,373.7 795.3,371.7 796.9,370.9 798.1,371.5 796.9,372.5 795.5,374.1Z" fill="#b9382c" stroke="#b9382c" stroke-width="1.1"/>
<path d="M782.4,370.9 784.4,368.5 786.4,366.5 788.9,364.1 789.7,364.5 787.3,367.1 785.1,369.3 783.2,371.3Z" fill="#b9382c" stroke="#b9382c" stroke-width="1.1"/>
<path d="M808.5,384.9 810.1,383.3 811.3,384 810.9,386.1 810.1,388 808.9,387.3Z" fill="#b9382c" stroke="#b9382c" stroke-width="1.1"/>
<path d="M933,428.2 934.6,427 936.2,427.8 935.4,429.8 933.4,429.8Z" fill="#ffffff" stroke="#ffffff" stroke-width="1.1"/>
<path d="M775.2,440.2 779.2,438.2 784.2,436.2 789.2,435.2 793.2,432.2 796.2,428.2 800.2,425.2 804.3,422.2 808.3,421.2 811.3,424.2 814.3,421.2 816.3,417.1 820.3,416.1 825.3,416.5 829.3,417.1 830.7,420.2 829.3,423.2 833.3,425.2 837.4,428.2 840.4,429.2 842,425.2 842.8,420.2 844,415.1 845.4,413.7 847.4,418.1 850.4,422.2 852.8,427.2 855.4,432.2 858.4,436.2 862.4,440.2 865.4,443.2 868.4,446.2 870.9,450.2 872.1,455.3 871.5,460.3 869.4,465.3 867.4,470.3 864.8,475.3 862.8,479.3 859.4,481.3 855.4,482.3 852.4,481.3 848.4,481.9 844.4,480.3 840.4,478.3 838.4,474.3 836.3,471.3 834.3,469.3 832.7,472.3 830.3,473.3 829.3,470.3 825.3,466.3 820.3,464.3 815.3,463.3 810.3,464.3 805.3,466.3 800.2,468.3 796.2,470.3 791.2,470.3 787.2,472.3 782.2,473.3 779.2,471.3 778.6,467.3 778.2,462.3 776.2,458.3 775.2,453.2 774.2,448.2 774.6,444.2Z" fill="#f7b982" stroke="#f7b982" stroke-width="1.1"/>
<path d="M850.1,489.7 853.1,489.1 857.1,489.7 859.5,490.2 858.7,493.8 856.7,497.2 854.1,497.8 851.5,495.2Z" fill="#f7b982" stroke="#f7b982" stroke-width="1.1"/>
<path d="M918.3,471.7 921.3,473.1 924.3,477.1 926.3,480.1 929.3,481.1 933,480.1 931.8,484.1 929.3,487.7 926.3,491.2 923.7,490.2 922.3,487.1 922.9,483.1 921.3,479.1 919.3,475.1Z" fill="#f7b982" stroke="#f7b982" stroke-width="1.1"/>
<path d="M917.3,489.1 920.3,489.7 922.3,491.8 920.3,495.2 917.3,498.6 914.3,501.8 911.3,504.6 908.3,507.2 905.7,508.6 903.3,506.2 904.3,503.2 907.3,500.2 910.9,497.2 913.7,494.2 915.7,491.2Z" fill="#f7b982" stroke="#f7b982" stroke-width="1.1"/>
<path d="M462.6,331.4 465,327.8 468.1,324.8 471.7,322.4 474.7,318.7 475.9,315.1 477.7,311.5 480.7,309.1 483.1,306.1 485.5,303.7 488.5,303.1 492.1,304.9 494.5,305.9 498.1,304.3 503,302.5 507.8,301.5 512.6,301.1 517.4,300.7 519.2,301.1 522.2,300.1 525.2,300.7 524.6,303.7 526.4,306.1 525.2,309.1 527,311.5 530,312.1 534.3,313.3 536.7,315.7 540.3,316.9 543.9,318.1 546.9,317.5 547.5,314.5 549.9,312.7 554.1,312.1 558.3,313.3 559.5,315.7 563.1,316.3 567.4,316.9 571.1,316.7 575.1,316.2 579.1,315.2 582.7,315.7 583.7,317.2 576.9,316.9 579.3,320.1 582.5,323.3 584.9,328.1 587.3,332.9 588.9,336.1 588.9,338.8 590.5,342.5 591.3,347.3 589.7,349.7 592.1,348.9 594.5,351.4 597.7,354.6 600.9,357.8 603,360.7 603.7,360.7 604.6,362.9 604.1,365.8 606.5,364.2 613,363.4 618.6,362.3 623.4,361.8 624.2,364.2 621.8,369 618.6,373.8 614.6,378.6 610.6,383.5 606.5,387.5 602.5,391.5 598.5,396 597.4,399.2 594.4,402.2 595.4,407.3 596.4,412.3 597.4,414.3 598,420.3 596.4,425.3 592.4,429.3 588.4,432.3 585.4,435.3 583.4,440 585.1,441.7 583.5,444.9 579.4,447.3 577.8,449.7 577,453 574.6,457 571.4,461 567.4,465 562.6,468.2 557,469.8 551.4,470.3 547.3,471.4 543.3,469.8 542,465 540.1,459.4 538.5,453 536.1,447.3 533.7,440.9 532.1,434.5 529.7,431.3 528.1,428.1 527,424.1 528.1,419.3 530.5,414.4 529.7,408 529.7,403.2 528.1,400 530.2,400.2 527.2,395.8 524.2,393.2 522.6,390.2 522.2,387.2 522.6,384.6 521.2,378.2 520.2,377.2 516.2,378.2 512.2,377.2 509.2,374.2 506.2,373.2 503.2,373.8 500.6,374.2 497.1,375.8 493.1,376.2 486.1,377.2 481.1,378.2 477.1,376.2 474.1,372.2 472.1,371.2 468.1,370.6 466,367.1 463,363.1 459,361.1 458,358.5 457,356.1 457,353.1 459,346.1 458,341.1 459,337.1 462,331Z" fill="#dc6045" stroke="#dc6045" stroke-width="1.1"/>
<path d="M485.5,303.7 488.5,303.1 492.1,304.9 494.5,306.1 495.1,309.7 495.7,313.3 492.1,315.1 489.1,317.5 485.5,319.9 482.5,321.2 478.9,322 477.9,324.2 474.7,324.8 469.9,325.4 468.1,324.8 471.7,322.4 474.7,318.7 475.9,315.1 477.7,311.5 480.7,309.1 483.1,306.1Z" fill="#f7b982" stroke="#f7b982" stroke-width="1.1"/>
<path d="M457.2,339.5 459,336.1 460.6,333.4 462.2,331.2 464,328.6 465.6,326.6 467,325.4 477.7,325.4 477.7,328.8 469.7,329.2 469.3,335.7 467.2,336.9 466.8,340.1 458,340.5Z" fill="#c8c8c8" stroke="#c8c8c8" stroke-width="1.1"/>
<path d="M494.5,305.9 498.1,304.3 503,302.5 507.8,301.5 512.6,301.1 517.4,300.7 519.2,301.1 518.6,304.3 517.4,307.3 518.6,310.9 521,313.9 522.8,317.5 522.2,321.2 523.4,324.8 522.2,328.4 524.6,332 528.2,335 524.6,336.8 519.8,339.2 517.4,341 515,342 511.4,343.7 507.8,344.9 503,342 498.1,338.6 492.1,335 486.1,331.1 480.1,327.2 477.9,325.6 477.9,324.2 478.9,322 482.5,321.2 485.5,319.9 489.1,317.5 492.1,315.1 495.7,313.3 495.1,309.7Z" fill="#fce3c5" stroke="#fce3c5" stroke-width="1.1"/>
<path d="M519.2,301.1 522.2,300.1 525.2,300.7 524.6,303.7 526.4,306.1 525.2,309.1 527,311.5 524.6,313.9 522.8,317.5 521,313.9 518.6,310.9 517.4,307.3 518.6,304.3Z" fill="#fef3e6" stroke="#fef3e6" stroke-width="1.1"/>
<path d="M527,311.5 530,312.1 534.3,313.3 536.7,315.7 540.3,316.9 543.9,318.1 546.9,317.5 547.5,314.5 549.9,312.7 554.1,312.1 558.3,313.3 559.5,315.7 558.9,320.6 559.3,325.4 559.5,332.6 559.5,340.4 559.3,344.1 554.3,341.7 546.3,338.5 536.3,336.4 530.2,335 527.2,334 528.2,335 524.6,332 522.2,328.4 523.4,324.8 522.2,321.2 522.8,317.5 524.6,313.9Z" fill="#f7b982" stroke="#f7b982" stroke-width="1.1"/>
<path d="M559.5,315.7 563.1,316.3 567.4,316.9 571.1,316.7 575.1,316.2 579.1,315.2 582.7,315.7 583.7,317.2 576.9,316.9 579.3,320.1 582.5,323.3 584.9,328.1 587.3,332.9 588.9,336.1 588.9,338.8 560,339.3 559.5,340.4 559.5,332.6 559.3,325.4 558.9,320.6Z" fill="#ffffff" stroke="#ffffff" stroke-width="1.1"/>
<path d="M458,341.1 466,340.1 467.1,335 470.1,330 477.1,329 477.1,326 484.1,330.4 484.1,338.1 485.1,346.1 485.7,353.1 478.1,354.1 470.1,354.5 465,352.1 461,351.1 459,346.1Z" fill="#dc6045" stroke="#dc6045" stroke-width="1.1"/>
<path d="M484.1,330.4 492.1,336 500.2,341.1 509.2,346.1 509.2,350.1 508.2,354.1 502.2,356.1 497.1,357.1 492.1,359.1 489.1,362.1 486.1,365.1 482.1,363.1 480.1,360.1 476.1,361.1 472.1,359.1 470.1,354.5 478.1,354.1 485.7,353.1 485.1,346.1 484.1,338.1Z" fill="#f7b982" stroke="#f7b982" stroke-width="1.1"/>
<path d="M509.2,346.1 514.2,343.1 520.2,340.1 526.2,337.1 530.2,335 536.3,336.4 537.3,342.1 536.3,350.1 535.3,356.1 532.2,359.1 526.2,358.1 520.2,359.1 514.2,358.5 508.2,359.1 504.2,356.1 508.2,354.1 509.2,350.1Z" fill="#dc6045" stroke="#dc6045" stroke-width="1.1"/>
<path d="M536.3,336.4 546.3,338.5 554.3,341.7 559.3,344.1 558.3,350.1 554.3,355.1 553.3,360.1 556.3,365.1 552.3,368.1 548.3,370.2 543.3,371.2 538.3,372.2 535.3,368.1 537.3,364.1 535.3,360.1 535.3,356.1 536.3,350.1 537.3,342.1Z" fill="#dc6045" stroke="#dc6045" stroke-width="1.1"/>
<path d="M560,339.3 588.9,338.8 590.5,342.5 591.3,347.3 589.7,349.7 588.1,354.6 585.7,358.6 583.3,362.6 581.7,365 580.5,368.2 577.7,366.6 575.2,369 572,371.4 568.8,372.2 565.6,371.4 562.4,369.8 570.4,372.2 566.3,371.2 562.3,370.2 559.3,367.1 556.3,365.1 553.3,360.1 554.3,355.1 558.3,350.1 559.3,344.1 559.3,339.1Z" fill="#b9382c" stroke="#b9382c" stroke-width="1.1"/>
<path d="M562.4,369.8 565.6,371.4 568.8,372.2 572,371.4 575.2,369 577.7,366.6 580.5,368.2 582.5,372.2 584.9,375.4 588.1,377 584.9,380.2 580.9,380.2 576,380.2 578.4,380.2 572.4,380.2 568.4,378.2 564.3,375.2 562.3,370.2 566.3,371.2 570.4,372.2Z" fill="#dc6045" stroke="#dc6045" stroke-width="1.1"/>
<path d="M569.6,370.3 572.8,368.2 576,365.5 577.3,367.1 575.2,369.3 572.5,371.6Z" fill="#d9543a" stroke="#d9543a" stroke-width="1.1"/>
<path d="M589.7,349.7 592.1,348.9 594.5,351.4 597.7,354.6 600.9,357.8 603,360.7 600.9,360.2 597.7,358.6 594.5,357 591.3,356.2 588.1,354.6Z" fill="#fef3e6" stroke="#fef3e6" stroke-width="1.1"/>
<path d="M580.5,368.2 581.7,365 583.3,362.6 585.7,358.6 588.1,354.6 591.3,356.2 594.5,357 597.7,358.6 600.9,360.2 602,363.4 604.1,365.8 608.1,368.2 613.8,370.6 609.7,374.6 604.9,377 600.1,378.6 595.3,380.2 591.3,378.6 588.1,377 584.9,375.4 582.5,372.2Z" fill="#b9382c" stroke="#b9382c" stroke-width="1.1"/>
<path d="M602,361 603.7,360.7 604.6,362.9 604.1,365.8 602,363.4Z" fill="#dc6045" stroke="#dc6045" stroke-width="1.1"/>
<path d="M604.1,365.8 606.5,364.2 613,363.4 618.6,362.3 623.4,361.8 624.2,364.2 621.8,369 618.6,373.8 614.6,378.6 610.6,383.5 606.5,387.5 602.5,391.5 598.5,396 597.7,389.9 598.5,383.5 599.3,379.4 600.1,378.6 604.9,377 609.7,374.6 613.8,370.6 608.1,368.2Z" fill="#dc6045" stroke="#dc6045" stroke-width="1.1"/>
<path d="M584.9,380.2 588.1,377 591.3,378.6 595.3,380.2 599.3,379.4 598.5,383.5 597.7,389.9 598.5,396 597.4,399.2 594.4,402.2 590.4,399.2 586.4,396.2 582.4,393.2 584.4,389.2 585.4,384.2 583.4,380.2Z" fill="#dc6045" stroke="#dc6045" stroke-width="1.1"/>
<path d="M574.4,382.2 578.4,380.2 583.4,380.2 585.4,384.2 584.4,389.2 582.4,393.2 578.4,393.2 574.4,393.8 573.4,389.2 575.4,386.2Z" fill="#dc6045" stroke="#dc6045" stroke-width="1.1"/>
<path d="M538.3,397.2 540.3,392.2 542.3,386.2 543.9,380.2 548.3,378.2 554.3,379.2 560.3,378.2 566.3,377.2 570.4,379.2 573.4,381.2 574.4,383.2 575.4,386.2 573.4,389.2 571.4,394.2 570.4,399.2 571.4,404.3 572.4,408.3 570.4,411.3 568.4,413.3 570.4,416.3 569.4,419.3 566.3,416.3 562.3,415.3 558.3,414.3 556.3,416.3 552.3,414.3 551.3,410.3 550.3,405.3 545.3,406.3 540.3,405.3 539.3,402.2 529.2,402.2 530.2,400.2 534.3,399.2Z" fill="#b9382c" stroke="#b9382c" stroke-width="1.1"/>
<path d="M535.3,373.2 538.3,372.2 543.3,371.2 548.3,370.2 552.3,368.1 556.3,365.1 559.3,367.1 562.3,370.2 564.3,375.2 568.4,378.2 566.3,377.2 560.3,378.2 554.3,379.2 548.3,378.2 543.9,380.2 540.3,381.2 537.3,379.2 535.3,376.2Z" fill="#dc6045" stroke="#dc6045" stroke-width="1.1"/>
<path d="M521.2,378.2 523.2,374.2 527.2,372.2 530.2,368.1 533.2,363.1 534.3,359.1 536.3,361.1 535.9,365.1 537.3,368.1 535.3,373.2 535.3,376.2 537.3,379.2 540.3,381.2 538.3,382.2 533.2,381.8 528.2,381.8 523.2,382.2Z" fill="#dc6045" stroke="#dc6045" stroke-width="1.1"/>
<path d="M506.2,360.1 508.2,359.1 514.2,358.5 520.2,359.1 526.2,358.1 532.2,359.1 534.3,362.1 533.2,364.1 530.2,368.1 527.2,372.2 523.2,374.2 520.2,377.2 516.2,378.2 512.2,377.2 509.2,374.2 506.2,373.2 505.8,367.1Z" fill="#b9382c" stroke="#b9382c" stroke-width="1.1"/>
<path d="M501.8,363.1 504.2,361.1 506.2,361.1 505.8,367.1 506.2,373.2 503.2,373.8 502.6,368.1Z" fill="#dc6045" stroke="#dc6045" stroke-width="1.1"/>
<path d="M499.1,365.1 501.8,364.5 502.6,368.1 503.2,373.8 500.6,374.2 499.7,369.1Z" fill="#dc6045" stroke="#dc6045" stroke-width="1.1"/>
<path d="M492.1,365.1 499.1,365.1 499.7,369.1 500.6,374.2 497.1,375.8 493.1,376.2 491.1,372.6 491.7,368.1Z" fill="#dc6045" stroke="#dc6045" stroke-width="1.1"/>
<path d="M486.1,365.1 489.1,362.1 492.1,359.1 497.1,357.1 502.2,356.1 504.2,358.1 505.2,361.1 501.8,363.1 499.1,365.1 492.1,365.1 489.1,367.1Z" fill="#dc6045" stroke="#dc6045" stroke-width="1.1"/>
<path d="M480.1,367.1 483.1,365.7 486.1,365.1 489.1,367.1 492.1,365.7 491.7,369.1 491.1,373.2 492.1,376.2 486.1,377.2 481.1,378.2 480.1,374.2 479.1,370.2Z" fill="#dc6045" stroke="#dc6045" stroke-width="1.1"/>
<path d="M474.1,372.2 479.1,370.2 480.1,374.2 481.1,378.2 477.1,376.2Z" fill="#f7b982" stroke="#f7b982" stroke-width="1.1"/>
<path d="M467.7,368.1 469.7,366.5 472.1,367.7 472.5,370.2 470.5,371.8 468.1,370.6Z" fill="#ffffff" stroke="#ffffff" stroke-width="1.1"/>
<path d="M462,360.1 467.1,359.1 472.1,359.1 476.1,361.1 480.1,360.1 482.1,363.1 483.1,365.7 480.1,367.1 479.1,370.2 474.1,372.2 472.1,368.1 469.1,366.5 466,365.1 463,363.1Z" fill="#f7b982" stroke="#f7b982" stroke-width="1.1"/>
<path d="M457,353.1 461,351.1 465,352.1 470.1,354.5 472.1,359.1 467.1,359.1 462,360.1 458,358.5 457,356.1Z" fill="#f7b982" stroke="#f7b982" stroke-width="1.1"/>
<path d="M458.4,360.1 462,360.7 463.2,362.9 460,362.5Z" fill="#ffffff" stroke="#ffffff" stroke-width="1.1"/>
<path d="M522.2,387.2 525.2,385.2 529.2,385.8 532.2,385.2 534.3,388.2 533.2,392.2 530.2,394.2 527.2,395.8 524.2,393.2 522.6,390.2Z" fill="#f7b982" stroke="#f7b982" stroke-width="1.1"/>
<path d="M522.6,384.6 526.2,384.6 526.2,386.6 522.6,386.6Z" fill="#f7b982" stroke="#f7b982" stroke-width="1.1"/>
<path d="M529.2,385.8 533.2,381.8 538.3,382.2 540.3,381.2 543.9,380.2 542.3,386.2 540.3,392.2 538.3,397.2 534.3,399.2 530.2,400.2 527.2,395.8 530.2,394.2 533.2,392.2 534.3,388.2 532.2,385.2Z" fill="#dc6045" stroke="#dc6045" stroke-width="1.1"/>
<path d="M571.4,394.2 574.4,393.8 574.8,397.2 573.4,400.2 571.4,399.2Z" fill="#dc6045" stroke="#dc6045" stroke-width="1.1"/>
<path d="M573.4,397.2 578.4,393.8 582.4,393.2 586.4,396.2 590.4,399.2 594.4,402.2 595.4,407.3 596.4,412.3 597.4,414.3 597.1,411.2 593.1,413.6 587.5,414.8 583.5,415.2 581.8,412 578.6,409.9 575.4,408 571.4,408.8 570.6,408 571.4,404 571.4,400 572.4,408.3 571.4,404.3 570.4,399.2Z" fill="#dc6045" stroke="#dc6045" stroke-width="1.1"/>
<path d="M528.1,400 529.7,403.2 539.3,403.2 540.9,406.4 546.5,407.2 550.6,405.6 551.7,409.6 552.6,413.6 556.2,415.2 556.5,417.7 553.8,419.3 553,424.1 553.8,428.9 548.1,429.2 538.5,428.6 528.1,428.1 527,424.1 528.1,419.3 530.5,414.4 529.7,408Z" fill="#b9382c" stroke="#b9382c" stroke-width="1.1"/>
<path d="M553.8,419.3 556.5,417.7 556.2,415.2 558.6,414.4 563.4,416 567.4,416.9 569.8,419.3 570.6,416 569.3,412 571.4,408.8 575.4,408 578.6,409.9 580.2,413.6 579.4,417.7 577,420.9 573.8,422.5 570.6,424.1 567.4,426.5 563.4,428.9 559.4,429.7 556.2,429.2 553.8,428.9 553,424.1Z" fill="#dc6045" stroke="#dc6045" stroke-width="1.1"/>
<path d="M580.2,413.6 581.8,412 583.5,415.2 584.3,419.3 585.9,423.3 584.7,426.5 582.6,424.1 581.8,420.1 579.9,418.5Z" fill="#dc6045" stroke="#dc6045" stroke-width="1.1"/>
<path d="M583.5,415.2 587.5,414.8 593.1,413.6 597.1,411.2 597.9,416 597.1,421.7 594.7,425.7 590.7,428.9 586.7,431.3 583.5,433.7 584.3,437.7 585.1,441.7 583.5,444.9 579.4,447.3 577.8,449.7 576.7,446.5 577,441.7 577.8,437.7 578.6,434.5 578.6,430.5 577,426.5 573,424.1 570.6,424.1 573.8,422.5 577,420.9 579.4,417.7 579.9,418.5 581.8,420.1 582.6,424.1 584.7,426.5 585.9,423.3 584.3,419.3Z" fill="#dc6045" stroke="#dc6045" stroke-width="1.1"/>
<path d="M563.4,428.9 567.4,426.5 570.6,424.1 573,424.1 577,426.5 578.6,430.5 578.6,434.5 577.8,437.7 573.8,439.3 569.8,439.3 567.4,436.1 565,432.9Z" fill="#fce3c5" stroke="#fce3c5" stroke-width="1.1"/>
<path d="M549.7,429.7 553.8,429.2 556.2,429.2 559.4,429.7 563.4,428.9 565,432.9 567.4,436.1 569.8,439.3 566.6,441.4 563.4,444.1 561,447.3 557,447.3 554.6,446.5 551.4,449.7 548.9,450.6 548.1,445.7 548.5,438.5Z" fill="#f7b982" stroke="#f7b982" stroke-width="1.1"/>
<path d="M528.1,428.1 538.5,428.6 548.1,429.2 553.8,428.9 556.2,429.2 549.7,430.2 548.5,438.5 548.1,445.7 547.8,454.6 544.9,456.2 540.9,455.4 538.5,453 536.1,447.3 533.7,440.9 532.1,434.5 529.7,431.3Z" fill="#f7b982" stroke="#f7b982" stroke-width="1.1"/>
<path d="M538.5,453 540.9,455.4 544.9,456.2 547.8,454.6 548.9,450.6 551.4,449.7 554.6,446.5 557,447.3 561,447.3 563.4,444.1 566.6,441.4 569.8,439.3 573.8,439.3 577,441.7 576.7,446.5 577.8,449.7 577,453 574.6,457 571.4,461 567.4,465 562.6,468.2 557,469.8 551.4,470.3 547.3,471.4 543.3,469.8 542,465 540.1,459.4Z" fill="#dc6045" stroke="#dc6045" stroke-width="1.1"/>
<path d="M565,457 567.4,455.4 569.8,456.5 569.3,459.1 566.6,460.2 565,459.1Z" fill="#dc6045" stroke="#dc6045" stroke-width="1.1"/>
<path d="M574.1,448.9 576.2,448.1 577.4,450.1 576.2,452.2 574.3,451.4Z" fill="#dc6045" stroke="#dc6045" stroke-width="1.1"/>
<path d="M605.9,428.9 607.5,425.7 611.5,424.1 614.7,420.9 617.2,416.9 619.1,416 620.7,419.3 621.2,424.1 619.6,428.9 618,433.7 615.9,439.3 613.9,444.9 610.7,447.3 607.2,447.3 604.6,444.1 604.3,439.3 605.6,434.5Z" fill="#f7b982" stroke="#f7b982" stroke-width="1.1"/>
<path d="M156.9,170.5 151.3,168.7 146.3,167.7 141.2,166.1 136.2,165.7 131.2,165.1 128.2,163.7 124.2,161.7 119.6,159.9 117.2,161.3 113.8,162.7 110.2,165.7 106.5,168.7 104.1,171.7 101.7,174.5 98.5,176.1 95.7,176.9 96.5,179.3 100.1,181.3 104.1,183.7 107.7,186.5 110.2,189.1 110.6,191 107.1,190.2 103.1,189.3 99.1,191 95.1,192.6 91.5,194.4 93.7,196.6 96.1,198.6 100.1,199 104.5,198.6 108.7,199.4 108.1,202.2 106.5,204.6 103.1,205.8 100.7,207.8 99.3,210.6 96.9,213.8 97.3,216.6 99.3,219.4 101.7,222.2 104.5,224.3 106.5,226.7 108.9,228.3 112.6,227.5 116.2,225.9 119.4,224.3 121.8,225.9 122.6,228.3 120.6,231.3 117.2,234.3 112.6,237.1 108.1,239.5 103.1,242.3 98.1,245.1 93.1,248.3 88.7,250.7 92.1,249.9 97.1,247.1 102.1,244.3 108.1,240.7 113.2,238.3 118.2,235.3 122.2,231.9 125.8,228.3 127.8,224.7 129.4,221 131.8,217.8 135.4,215.8 137,217.8 135.8,220.6 133.8,222.6 137.2,221.8 140.6,219.8 143.9,217.4 147.3,218.6 151.3,219.8 156.9,219.4 159.3,220.6 163.3,222.6 167.3,224.3 170.7,226.7 173.9,229.9 176.8,233.3 179.6,237.3 181.6,241.3 182.8,244.7 180.4,243.3 177.4,238.3 173.3,233.3 169.3,229.3 165.3,226.3 161.3,223.9 158.3,221.8 156.9,219.4Z" fill="none" stroke="#000" stroke-width="0.75"/>
<path d="M123.8,232.7 126.2,229.3 129.2,228.3 128.2,231.9 125.2,235.3Z" fill="none" stroke="#000" stroke-width="0.75"/>
<path d="M80.1,179.7 81.7,170.1 84.1,169.5 88.1,172.1 91.7,175.1 88.1,178.5 84.1,180.1Z" fill="none" stroke="#000" stroke-width="0.75"/>
<path d="M196,137.2 204.1,136.2 212.1,138.6 217.1,142.2 215.1,146.3 210.1,149.3 207.7,154.3 204.1,158.3 199.1,160.7 194.4,155.3 193.6,150.3 195.6,144.3Z" fill="none" stroke="#000" stroke-width="0.75"/>
<path d="M198.2,136.9 198.2,137.6 198,138.2" fill="none" stroke="#000" stroke-width="0.7"/>
<path d="M199.9,136.7 199.4,138.3 199,139.6" fill="none" stroke="#000" stroke-width="0.7"/>
<path d="M201.6,136.5 201.8,136.7 201.9,137.4" fill="none" stroke="#000" stroke-width="0.7"/>
<path d="M204.3,136.3 204.1,137.4 204.4,137.7" fill="none" stroke="#000" stroke-width="0.7"/>
<path d="M206.8,137 205.7,138.5 205.4,139.9" fill="none" stroke="#000" stroke-width="0.7"/>
<path d="M208.9,137.6 208.3,137.8 207.9,138.4" fill="none" stroke="#000" stroke-width="0.7"/>
<path d="M211.5,138.4 211,138.9 210.6,139.2" fill="none" stroke="#000" stroke-width="0.7"/>
<path d="M213.2,139.4 212.7,140.8 212.8,141.5" fill="none" stroke="#000" stroke-width="0.7"/>
<path d="M214.6,140.4 214.5,142.2 214,143.3" fill="none" stroke="#000" stroke-width="0.7"/>
<path d="M216.7,141.9 215.8,142.9 214.8,144.1" fill="none" stroke="#000" stroke-width="0.7"/>
<path d="M216.3,143.7 214.9,143.9 213.3,143.6" fill="none" stroke="#000" stroke-width="0.7"/>
<path d="M215.5,145.6 214.4,145.5 213.7,144.9" fill="none" stroke="#000" stroke-width="0.7"/>
<path d="M214.1,146.9 213.7,147 213.2,146.5" fill="none" stroke="#000" stroke-width="0.7"/>
<path d="M212.2,148 211.8,146.8 211.2,146.1" fill="none" stroke="#000" stroke-width="0.7"/>
<path d="M210.1,149.3 209.5,147.9 209.3,147.1" fill="none" stroke="#000" stroke-width="0.7"/>
<path d="M209.3,151 207.6,150.5 206,150.2" fill="none" stroke="#000" stroke-width="0.7"/>
<path d="M208.6,152.4 208.4,151.8 208,151.5" fill="none" stroke="#000" stroke-width="0.7"/>
<path d="M207.5,154.6 207.3,153.1 206.7,152" fill="none" stroke="#000" stroke-width="0.7"/>
<path d="M205.4,156.8 204.4,155.4 203.2,154.3" fill="none" stroke="#000" stroke-width="0.7"/>
<path d="M204.1,158.3 203.9,157.2 204.2,156.8" fill="none" stroke="#000" stroke-width="0.7"/>
<path d="M201.6,159.5 201.1,157.8 200.3,156.9" fill="none" stroke="#000" stroke-width="0.7"/>
<path d="M200,160.3 199.3,159.2 199.1,158.9" fill="none" stroke="#000" stroke-width="0.7"/>
<path d="M198.5,160 200.4,159.9 201.8,159.9" fill="none" stroke="#000" stroke-width="0.7"/>
<path d="M197.4,158.7 198.9,157.2 200,156.5" fill="none" stroke="#000" stroke-width="0.7"/>
<path d="M196.2,157.4 198.1,157 199.2,156.5" fill="none" stroke="#000" stroke-width="0.7"/>
<path d="M194.9,155.9 196.1,155.6 197.2,155.3" fill="none" stroke="#000" stroke-width="0.7"/>
<path d="M194.2,154.2 195.4,153.3 196.2,152.1" fill="none" stroke="#000" stroke-width="0.7"/>
<path d="M194,152.9 195.6,153 196.5,153" fill="none" stroke="#000" stroke-width="0.7"/>
<path d="M193.7,151.1 194.9,151.4 195.5,152.1" fill="none" stroke="#000" stroke-width="0.7"/>
<path d="M193.8,149.7 194.4,149.3 194.9,149.3" fill="none" stroke="#000" stroke-width="0.7"/>
<path d="M194.7,147 196.1,146.6 197.3,146.5" fill="none" stroke="#000" stroke-width="0.7"/>
<path d="M195.4,144.9 196,144.7 196.8,144.7" fill="none" stroke="#000" stroke-width="0.7"/>
<path d="M195.7,142.4 196.9,141.9 197.7,141.1" fill="none" stroke="#000" stroke-width="0.7"/>
<path d="M195.9,139.7 197.2,138.5 198.3,138" fill="none" stroke="#000" stroke-width="0.7"/>
<path d="M200.1,121.2 204.1,116.2 209.1,111.2 215.1,109.1 217.1,112.2 214.1,116.2 216.1,119.2 212.1,122.2 208.1,125.2 203.1,124.2Z" fill="none" stroke="#000" stroke-width="0.75"/>
<path d="M201.5,119.5 203,120.1 204.8,120.1" fill="none" stroke="#000" stroke-width="0.7"/>
<path d="M202.5,118.2 202.8,118.9 203.3,119.1" fill="none" stroke="#000" stroke-width="0.7"/>
<path d="M203.6,116.8 205.4,117.9 206.7,118.2" fill="none" stroke="#000" stroke-width="0.7"/>
<path d="M205.3,115 205.9,116.8 206.9,117.9" fill="none" stroke="#000" stroke-width="0.7"/>
<path d="M207,113.3 208.1,113.7 208.6,113.9" fill="none" stroke="#000" stroke-width="0.7"/>
<path d="M209.1,111.2 209.3,112.9 209.5,114.1" fill="none" stroke="#000" stroke-width="0.7"/>
<path d="M211.2,110.5 210.8,111.5 210.7,112" fill="none" stroke="#000" stroke-width="0.7"/>
<path d="M214,109.5 215.3,110.5 215.9,111.2" fill="none" stroke="#000" stroke-width="0.7"/>
<path d="M215.4,109.5 214.6,110 214.5,110" fill="none" stroke="#000" stroke-width="0.7"/>
<path d="M216.6,111.4 215.7,112.4 214.8,112.8" fill="none" stroke="#000" stroke-width="0.7"/>
<path d="M216.6,112.9 215.7,112.2 215.2,111.6" fill="none" stroke="#000" stroke-width="0.7"/>
<path d="M215.2,114.7 214.5,113.6 213.9,113.2" fill="none" stroke="#000" stroke-width="0.7"/>
<path d="M214.8,117.2 213.9,118.1 213.4,118.4" fill="none" stroke="#000" stroke-width="0.7"/>
<path d="M215.6,119.6 214.5,118.9 214,118" fill="none" stroke="#000" stroke-width="0.7"/>
<path d="M214.3,120.5 213.2,119.6 212.6,119" fill="none" stroke="#000" stroke-width="0.7"/>
<path d="M213,121.5 212.9,121.2 212.4,120.7" fill="none" stroke="#000" stroke-width="0.7"/>
<path d="M211.6,122.5 210.2,122.3 209.1,121.7" fill="none" stroke="#000" stroke-width="0.7"/>
<path d="M209.3,124.3 209.1,123.2 209,122.2" fill="none" stroke="#000" stroke-width="0.7"/>
<path d="M207.3,125 208.2,123.5 209.1,122" fill="none" stroke="#000" stroke-width="0.7"/>
<path d="M204.9,124.6 205.6,123.8 205.9,123" fill="none" stroke="#000" stroke-width="0.7"/>
<path d="M202.3,123.4 202.7,122.9 202.9,122.7" fill="none" stroke="#000" stroke-width="0.7"/>
<path d="M201.1,122.2 201.9,120.8 202.8,120.1" fill="none" stroke="#000" stroke-width="0.7"/>
<path d="M213.1,124.2 218.1,120.2 223.1,121.2 228.1,122.2 231.2,117.2 233.8,116.2 235.2,120.2 237.2,124.2 241.2,123.8 241.8,127.8 238.2,130.6 232.6,132.6 228.1,135.2 223.1,137.2 220.1,135.2 223.1,132.2 219.1,130.2 215.1,128.2Z" fill="none" stroke="#000" stroke-width="0.75"/>
<path d="M214.8,122.8 215.1,124.4 215,126.1" fill="none" stroke="#000" stroke-width="0.7"/>
<path d="M216.7,121.4 217.1,122.1 217.8,123" fill="none" stroke="#000" stroke-width="0.7"/>
<path d="M218.4,120.3 218,120.8 218.2,121.7" fill="none" stroke="#000" stroke-width="0.7"/>
<path d="M220.9,120.8 220.8,121.7 220.5,122.7" fill="none" stroke="#000" stroke-width="0.7"/>
<path d="M222.3,121 221.9,122.6 221.3,123.8" fill="none" stroke="#000" stroke-width="0.7"/>
<path d="M225.2,121.6 224.6,122.5 224.3,123.2" fill="none" stroke="#000" stroke-width="0.7"/>
<path d="M227.7,122.1 228,123.1 228.3,123.7" fill="none" stroke="#000" stroke-width="0.7"/>
<path d="M229.1,120.6 229.7,121.1 230.6,122" fill="none" stroke="#000" stroke-width="0.7"/>
<path d="M230.1,119 231.5,118.9 233.1,119.3" fill="none" stroke="#000" stroke-width="0.7"/>
<path d="M230.8,117.8 231.7,118.2 232.1,118.8" fill="none" stroke="#000" stroke-width="0.7"/>
<path d="M232.4,116.7 233.1,117.5 233.4,118.1" fill="none" stroke="#000" stroke-width="0.7"/>
<path d="M233.9,116.5 233.4,116.6 232.7,116.4" fill="none" stroke="#000" stroke-width="0.7"/>
<path d="M234.5,118.1 233.3,118.1 232.2,117.5" fill="none" stroke="#000" stroke-width="0.7"/>
<path d="M235,119.6 233.9,120.9 233,122.5" fill="none" stroke="#000" stroke-width="0.7"/>
<path d="M236.2,122.1 234.9,122.1 233.5,121.6" fill="none" stroke="#000" stroke-width="0.7"/>
<path d="M237.2,124.1 235.2,124.6 233.7,124.5" fill="none" stroke="#000" stroke-width="0.7"/>
<path d="M239.1,124 239.6,124.4 240,125.1" fill="none" stroke="#000" stroke-width="0.7"/>
<path d="M241.3,124.7 239.5,125.6 238.4,126.4" fill="none" stroke="#000" stroke-width="0.7"/>
<path d="M241.6,126.3 240.2,125.8 239.3,125.6" fill="none" stroke="#000" stroke-width="0.7"/>
<path d="M240.7,128.6 240.1,128.1 239.2,127.3" fill="none" stroke="#000" stroke-width="0.7"/>
<path d="M238.5,130.4 237.5,129.5 236.6,128.5" fill="none" stroke="#000" stroke-width="0.7"/>
<path d="M236.2,131.3 235.7,130.8 235.3,130.1" fill="none" stroke="#000" stroke-width="0.7"/>
<path d="M234,132.1 233.9,130.9 234.3,129.8" fill="none" stroke="#000" stroke-width="0.7"/>
<path d="M232.3,132.8 232,131.8 232.1,130.4" fill="none" stroke="#000" stroke-width="0.7"/>
<path d="M231,133.5 230.3,132.4 229.9,131.4" fill="none" stroke="#000" stroke-width="0.7"/>
<path d="M229.1,134.6 228.6,133.4 228.7,132.6" fill="none" stroke="#000" stroke-width="0.7"/>
<path d="M226.7,135.8 226.6,135.2 226.9,134.5" fill="none" stroke="#000" stroke-width="0.7"/>
<path d="M225.2,136.4 224.4,135.5 224.2,134.5" fill="none" stroke="#000" stroke-width="0.7"/>
<path d="M223.2,137.2 222.8,135.8 222.3,134.6" fill="none" stroke="#000" stroke-width="0.7"/>
<path d="M221.7,136.2 221.9,134.7 221.7,133" fill="none" stroke="#000" stroke-width="0.7"/>
<path d="M220.3,135 221.2,136.2 221.8,137.5" fill="none" stroke="#000" stroke-width="0.7"/>
<path d="M221.7,133.6 222.8,134 223.2,134.5" fill="none" stroke="#000" stroke-width="0.7"/>
<path d="M223.1,132.2 223.4,133.3 223.7,134.1" fill="none" stroke="#000" stroke-width="0.7"/>
<path d="M221.5,131.4 221.3,130.4 221.4,129.8" fill="none" stroke="#000" stroke-width="0.7"/>
<path d="M219,130.2 218.9,128.7 218.8,128" fill="none" stroke="#000" stroke-width="0.7"/>
<path d="M216.9,129.1 217.7,128.7 218.6,128" fill="none" stroke="#000" stroke-width="0.7"/>
<path d="M215.4,128.3 216.3,127 217.5,125.6" fill="none" stroke="#000" stroke-width="0.7"/>
<path d="M214.4,126.9 215.2,125.8 215.5,125.4" fill="none" stroke="#000" stroke-width="0.7"/>
<path d="M213.3,124.5 214.2,124 215.1,124.1" fill="none" stroke="#000" stroke-width="0.7"/>
<path d="M223.1,97.1 228.1,95.7 232.6,96.7 231.8,100.1 227.1,101.1Z" fill="none" stroke="#000" stroke-width="0.75"/>
<path d="M223.1,105.1 228.1,103.1 231.2,106.1 228.1,109.7 224.1,109.1Z" fill="none" stroke="#000" stroke-width="0.75"/>
<path d="M219.1,104.1 221.1,103.1 222.1,105.7 219.7,106.5Z" fill="none" stroke="#000" stroke-width="0.75"/>
<path d="M240.2,106.5 242.6,106.1 244.2,111.2 241.8,112.6Z" fill="none" stroke="#000" stroke-width="0.75"/>
<path d="M241.8,90.1 246.2,88.1 250.6,91.1 254.6,96.1 257.2,101.1 256.2,105.1 252.2,103.1 249.2,100.1 245.2,99.1 242.6,95.1Z" fill="none" stroke="#000" stroke-width="0.75"/>
<path d="M259.2,95.1 262.6,94.5 266.3,99.1 268.3,103.1 265.3,104.5 261.2,103.1 259.8,99.1Z" fill="none" stroke="#000" stroke-width="0.75"/>
<path d="M263.9,106.5 269.3,105.7 271.3,108.1 267.3,109.5Z" fill="none" stroke="#000" stroke-width="0.75"/>
<path d="M276.3,107.7 279.3,108.1 278.7,111.2 276.3,110.6Z" fill="none" stroke="#000" stroke-width="0.75"/>
<path d="M254.6,78.5 257.2,78.1 258.2,82.1 255.8,83.1Z" fill="none" stroke="#000" stroke-width="0.75"/>
<path d="M264.3,72 268.3,64 272.3,61.6 275.3,65 278.3,71 282.3,75 284.3,80.1 286.3,85.1 285.3,92.1 282.3,97.1 279.3,101.1 275.3,100.1 272.3,96.1 269.3,91.1 266.7,85.1 264.3,79.1Z" fill="none" stroke="#000" stroke-width="0.75"/>
<path d="M265.3,70 266,71.6 266.9,72.3" fill="none" stroke="#000" stroke-width="0.7"/>
<path d="M266,68.5 267.6,68.2 268.7,68.3" fill="none" stroke="#000" stroke-width="0.7"/>
<path d="M267.2,66.3 268.2,67.6 269,68.3" fill="none" stroke="#000" stroke-width="0.7"/>
<path d="M268.8,63.7 269.4,64.4 269.3,64.8" fill="none" stroke="#000" stroke-width="0.7"/>
<path d="M270.6,62.6 270.2,63.7 270.4,64.3" fill="none" stroke="#000" stroke-width="0.7"/>
<path d="M272.8,62.2 272.3,62.8 272.1,63.3" fill="none" stroke="#000" stroke-width="0.7"/>
<path d="M274.1,63.7 272.2,64.1 270.9,64.1" fill="none" stroke="#000" stroke-width="0.7"/>
<path d="M275.1,64.7 274.7,65.2 274.1,65.3" fill="none" stroke="#000" stroke-width="0.7"/>
<path d="M276.3,67 275.2,68.5 274.1,69.2" fill="none" stroke="#000" stroke-width="0.7"/>
<path d="M276.9,68.3 276,69.3 275.7,70.1" fill="none" stroke="#000" stroke-width="0.7"/>
<path d="M278.1,70.5 277,72.4 276.1,73.4" fill="none" stroke="#000" stroke-width="0.7"/>
<path d="M279.8,72.5 279.4,73.5 278.9,74.6" fill="none" stroke="#000" stroke-width="0.7"/>
<path d="M281.5,74.2 280.9,75.3 280,76.3" fill="none" stroke="#000" stroke-width="0.7"/>
<path d="M282.7,76 281.2,77.2 280.4,78" fill="none" stroke="#000" stroke-width="0.7"/>
<path d="M283.5,78 282.1,78.8 281.1,80.1" fill="none" stroke="#000" stroke-width="0.7"/>
<path d="M284.2,79.9 283.5,80 282.7,80.7" fill="none" stroke="#000" stroke-width="0.7"/>
<path d="M285.1,82.1 283.6,82.1 282.4,82" fill="none" stroke="#000" stroke-width="0.7"/>
<path d="M285.9,84 285,84.7 284.5,85.4" fill="none" stroke="#000" stroke-width="0.7"/>
<path d="M286.2,85.9 284.7,84.6 283.4,84.1" fill="none" stroke="#000" stroke-width="0.7"/>
<path d="M285.9,87.6 284.7,87.2 283.8,86.7" fill="none" stroke="#000" stroke-width="0.7"/>
<path d="M285.5,90.5 284.8,90.4 283.9,90.5" fill="none" stroke="#000" stroke-width="0.7"/>
<path d="M284.8,92.9 283.7,92.8 282.9,93.2" fill="none" stroke="#000" stroke-width="0.7"/>
<path d="M283.4,95.3 282.2,94.1 280.8,93.5" fill="none" stroke="#000" stroke-width="0.7"/>
<path d="M282.3,97.1 281.8,96.9 281,97.2" fill="none" stroke="#000" stroke-width="0.7"/>
<path d="M281,98.9 279.9,98.1 279.6,97" fill="none" stroke="#000" stroke-width="0.7"/>
<path d="M279.3,101 278.5,100.9 278.2,100.8" fill="none" stroke="#000" stroke-width="0.7"/>
<path d="M278,100.8 278.5,99 278.7,97.9" fill="none" stroke="#000" stroke-width="0.7"/>
<path d="M275.6,100.2 276,99.4 276.5,98.3" fill="none" stroke="#000" stroke-width="0.7"/>
<path d="M274,98.3 274.9,96.8 276,96" fill="none" stroke="#000" stroke-width="0.7"/>
<path d="M273,97.1 274.4,95.4 275.1,94.3" fill="none" stroke="#000" stroke-width="0.7"/>
<path d="M271.7,95.1 272.4,94.6 272.8,94" fill="none" stroke="#000" stroke-width="0.7"/>
<path d="M270.2,92.5 270.4,91.7 271.1,91.4" fill="none" stroke="#000" stroke-width="0.7"/>
<path d="M268.8,89.9 269.8,89.4 270.9,88.8" fill="none" stroke="#000" stroke-width="0.7"/>
<path d="M267.8,87.5 267.9,87.1 268.4,86.4" fill="none" stroke="#000" stroke-width="0.7"/>
<path d="M266.7,85.1 267.2,84.7 267.8,84.1" fill="none" stroke="#000" stroke-width="0.7"/>
<path d="M265.9,83.1 266.4,82.8 267.1,82.2" fill="none" stroke="#000" stroke-width="0.7"/>
<path d="M265,80.9 266.5,79.7 267.5,78.7" fill="none" stroke="#000" stroke-width="0.7"/>
<path d="M264.3,78.1 265.4,78 266,77.4" fill="none" stroke="#000" stroke-width="0.7"/>
<path d="M264.3,75.9 265.1,75.6 265.8,74.9" fill="none" stroke="#000" stroke-width="0.7"/>
<path d="M264.3,73.9 265.3,73.8 266.4,74.1" fill="none" stroke="#000" stroke-width="0.7"/>
<path d="M244.2,119.2 249.2,117.2 254.2,116.2 259.2,117.2 260.6,122.2 260.2,128.2 258.2,132.2 254.2,131.2 251.2,127.2 247.2,125.2 244.6,122.2Z" fill="none" stroke="#000" stroke-width="0.75"/>
<path d="M246.2,118.4 246.2,119.2 245.8,120.2" fill="none" stroke="#000" stroke-width="0.7"/>
<path d="M248.9,117.3 250.4,117.9 251.1,118.7" fill="none" stroke="#000" stroke-width="0.7"/>
<path d="M250.7,116.9 250.6,118.1 250.8,118.9" fill="none" stroke="#000" stroke-width="0.7"/>
<path d="M253.4,116.4 253.2,117.7 253,118.5" fill="none" stroke="#000" stroke-width="0.7"/>
<path d="M255,116.4 254.6,117.6 254.8,118.2" fill="none" stroke="#000" stroke-width="0.7"/>
<path d="M257.4,116.8 257.2,117.3 257.1,117.9" fill="none" stroke="#000" stroke-width="0.7"/>
<path d="M259,117.2 259.5,118.2 259.8,119.1" fill="none" stroke="#000" stroke-width="0.7"/>
<path d="M259.6,118.5 258.3,120.1 257.6,121" fill="none" stroke="#000" stroke-width="0.7"/>
<path d="M260,120.1 258.9,120.3 258.1,120.5" fill="none" stroke="#000" stroke-width="0.7"/>
<path d="M260.6,122.3 259.8,122.8 258.8,123.4" fill="none" stroke="#000" stroke-width="0.7"/>
<path d="M260.5,123.7 259.6,123.1 258.8,122.7" fill="none" stroke="#000" stroke-width="0.7"/>
<path d="M260.4,125.8 259.5,125.4 258.9,125.5" fill="none" stroke="#000" stroke-width="0.7"/>
<path d="M260.3,127.4 259.9,127.3 259.2,127" fill="none" stroke="#000" stroke-width="0.7"/>
<path d="M259.8,129 259.4,128.2 259.2,127.9" fill="none" stroke="#000" stroke-width="0.7"/>
<path d="M258.8,131.1 257.5,130.3 256.6,129.8" fill="none" stroke="#000" stroke-width="0.7"/>
<path d="M257.3,132 257.8,130.9 258.3,130.1" fill="none" stroke="#000" stroke-width="0.7"/>
<path d="M254.3,131.2 254.7,130.9 255,130.3" fill="none" stroke="#000" stroke-width="0.7"/>
<path d="M252.9,129.4 253.9,128.5 255,128.3" fill="none" stroke="#000" stroke-width="0.7"/>
<path d="M251.3,127.3 251.8,126.6 251.9,125.9" fill="none" stroke="#000" stroke-width="0.7"/>
<path d="M250.1,126.7 250.3,125.3 250.1,124.4" fill="none" stroke="#000" stroke-width="0.7"/>
<path d="M247.5,125.3 247.2,124.2 247.1,122.9" fill="none" stroke="#000" stroke-width="0.7"/>
<path d="M245.8,123.5 246.1,122.7 246.6,122.5" fill="none" stroke="#000" stroke-width="0.7"/>
<path d="M244.5,121.6 245.8,121.1 246.9,120.2" fill="none" stroke="#000" stroke-width="0.7"/>
<path d="M263.2,129.2 267.3,127.2 270.7,130.2 270.3,134.2 266.3,135.2 263.2,133.2Z" fill="none" stroke="#000" stroke-width="0.75"/>
<path d="M243.8,129.2 246.2,129.2 245.8,131.8 243.4,131.4Z" fill="none" stroke="#000" stroke-width="0.75"/>
<path d="M248.2,147.3 253.2,142.2 259.2,140.2 262.2,144.3 263.2,150.3 261.2,156.3 257.2,159.3 253.2,154.3 250.2,150.3Z" fill="none" stroke="#000" stroke-width="0.75"/>
<path d="M249.7,145.7 251,146.3 252.4,146.7" fill="none" stroke="#000" stroke-width="0.7"/>
<path d="M250.7,144.7 251.1,146.3 251.9,147.4" fill="none" stroke="#000" stroke-width="0.7"/>
<path d="M252.3,143.1 252.8,144.5 252.7,145.7" fill="none" stroke="#000" stroke-width="0.7"/>
<path d="M254.6,141.7 253.8,143.5 253.6,144.5" fill="none" stroke="#000" stroke-width="0.7"/>
<path d="M256.2,141.2 256.6,142.1 256.5,142.4" fill="none" stroke="#000" stroke-width="0.7"/>
<path d="M258.1,140.6 259.8,141.4 260.6,142.3" fill="none" stroke="#000" stroke-width="0.7"/>
<path d="M259.9,141.1 259.4,141.8 259.5,142.3" fill="none" stroke="#000" stroke-width="0.7"/>
<path d="M261.2,143 259.5,143.4 258.2,143.4" fill="none" stroke="#000" stroke-width="0.7"/>
<path d="M262.2,144.3 260.9,145.1 259.4,145.9" fill="none" stroke="#000" stroke-width="0.7"/>
<path d="M262.5,146.4 261.4,147.3 260.9,147.9" fill="none" stroke="#000" stroke-width="0.7"/>
<path d="M263,148.9 262.4,149.2 262,149.2" fill="none" stroke="#000" stroke-width="0.7"/>
<path d="M262.7,151.9 261.9,151.8 261.6,151.4" fill="none" stroke="#000" stroke-width="0.7"/>
<path d="M261.7,154.7 260.1,153.8 259.2,153.5" fill="none" stroke="#000" stroke-width="0.7"/>
<path d="M261.2,156.3 260.9,156 260.2,155.9" fill="none" stroke="#000" stroke-width="0.7"/>
<path d="M258.8,158.1 258.7,156.7 258.1,155.3" fill="none" stroke="#000" stroke-width="0.7"/>
<path d="M257.3,159.2 256.2,158.1 255.8,157.8" fill="none" stroke="#000" stroke-width="0.7"/>
<path d="M255.8,157.6 257.1,157.8 258.1,157.6" fill="none" stroke="#000" stroke-width="0.7"/>
<path d="M254.5,155.9 255.5,155.3 256.8,155.3" fill="none" stroke="#000" stroke-width="0.7"/>
<path d="M253.2,154.3 253.6,153.5 254.4,153.2" fill="none" stroke="#000" stroke-width="0.7"/>
<path d="M252.3,153.1 252.4,151.9 253,150.7" fill="none" stroke="#000" stroke-width="0.7"/>
<path d="M251,151.4 251.6,151.7 252,151.4" fill="none" stroke="#000" stroke-width="0.7"/>
<path d="M249.6,149.4 250.3,148.8 251.3,147.9" fill="none" stroke="#000" stroke-width="0.7"/>
<path d="M248.5,147.7 248.9,147.2 249.2,146.2" fill="none" stroke="#000" stroke-width="0.7"/>
<path d="M265.3,140.2 271.3,138.2 278.3,139.2 276.3,144.3 273.3,149.3 268.3,152.3 266.3,147.3Z" fill="none" stroke="#000" stroke-width="0.75"/>
<path d="M267.4,139.5 267.7,140.7 267.5,142.1" fill="none" stroke="#000" stroke-width="0.7"/>
<path d="M268.7,139.1 269.6,140.7 270.4,141.6" fill="none" stroke="#000" stroke-width="0.7"/>
<path d="M270.3,138.5 270.6,140.5 271.4,141.6" fill="none" stroke="#000" stroke-width="0.7"/>
<path d="M272.6,138.4 272.4,139 271.9,139.3" fill="none" stroke="#000" stroke-width="0.7"/>
<path d="M275,138.7 276.3,140.5 276.8,141.7" fill="none" stroke="#000" stroke-width="0.7"/>
<path d="M276.8,139 277,140.5 277,141.5" fill="none" stroke="#000" stroke-width="0.7"/>
<path d="M278,139.8 277.3,139.9 276.9,139.6" fill="none" stroke="#000" stroke-width="0.7"/>
<path d="M277,142.6 275.3,142.1 274.3,141.4" fill="none" stroke="#000" stroke-width="0.7"/>
<path d="M276.3,144.3 274.7,144.1 272.8,144.6" fill="none" stroke="#000" stroke-width="0.7"/>
<path d="M275.2,146.2 274.3,145.5 273.7,145.1" fill="none" stroke="#000" stroke-width="0.7"/>
<path d="M274.1,148 272.4,147.6 271.2,147" fill="none" stroke="#000" stroke-width="0.7"/>
<path d="M273.2,149.3 272.7,148.3 272.3,147.8" fill="none" stroke="#000" stroke-width="0.7"/>
<path d="M270.9,150.7 269.8,149.9 269,149.8" fill="none" stroke="#000" stroke-width="0.7"/>
<path d="M269.3,151.7 268.8,151.4 268.4,151" fill="none" stroke="#000" stroke-width="0.7"/>
<path d="M268,151.7 269.2,151.5 270,150.9" fill="none" stroke="#000" stroke-width="0.7"/>
<path d="M267.4,150.1 269.2,149.7 270.2,149.2" fill="none" stroke="#000" stroke-width="0.7"/>
<path d="M266.9,148.8 267.4,148.9 267.9,148.9" fill="none" stroke="#000" stroke-width="0.7"/>
<path d="M266.4,147.5 267.5,146.5 268.4,146.3" fill="none" stroke="#000" stroke-width="0.7"/>
<path d="M266,145.1 267.7,145.3 269,145.7" fill="none" stroke="#000" stroke-width="0.7"/>
<path d="M265.8,143.5 267.3,143.1 268.6,142.3" fill="none" stroke="#000" stroke-width="0.7"/>
<path d="M265.5,141.6 267.3,140.4 268.4,139.6" fill="none" stroke="#000" stroke-width="0.7"/>
<path d="M262.2,114.2 267.3,113.2 271.3,116.2 273.3,118.2 278.3,120.2 284.3,124.2 292.3,126.2 300.4,125.2 304.8,128.2 303.4,133.2 298.4,135.8 291.3,136.2 284.3,135.8 278.3,134.6 274.3,131.2 272.7,125.2 269.3,120.2 265.3,119.2Z" fill="none" stroke="#000" stroke-width="0.75"/>
<path d="M264.4,113.8 264.8,114.1 265.1,114.7" fill="none" stroke="#000" stroke-width="0.7"/>
<path d="M265.9,113.5 266.1,114.5 266.5,115.5" fill="none" stroke="#000" stroke-width="0.7"/>
<path d="M268.4,114 268,114.5 268.1,115.2" fill="none" stroke="#000" stroke-width="0.7"/>
<path d="M269.6,114.9 269.2,116.5 268.3,118.1" fill="none" stroke="#000" stroke-width="0.7"/>
<path d="M271.8,116.7 270.9,117.2 269.9,117.8" fill="none" stroke="#000" stroke-width="0.7"/>
<path d="M273.1,118 272.4,119.5 272.3,120.5" fill="none" stroke="#000" stroke-width="0.7"/>
<path d="M275.2,119 275.1,119.6 274.6,120.4" fill="none" stroke="#000" stroke-width="0.7"/>
<path d="M276.7,119.5 276.7,120.4 276.8,121.5" fill="none" stroke="#000" stroke-width="0.7"/>
<path d="M279.1,120.7 278.3,122.1 277.9,123.5" fill="none" stroke="#000" stroke-width="0.7"/>
<path d="M281.6,122.4 280.1,123.4 279.2,124.6" fill="none" stroke="#000" stroke-width="0.7"/>
<path d="M283.8,123.8 283.2,124.1 282.7,124.8" fill="none" stroke="#000" stroke-width="0.7"/>
<path d="M285.3,124.5 285.4,126.4 285.3,127.7" fill="none" stroke="#000" stroke-width="0.7"/>
<path d="M287.3,124.9 286.6,125.8 285.8,126.6" fill="none" stroke="#000" stroke-width="0.7"/>
<path d="M289.5,125.5 289.4,126.5 289.2,127.5" fill="none" stroke="#000" stroke-width="0.7"/>
<path d="M292.2,126.2 292.6,126.8 292.5,127.8" fill="none" stroke="#000" stroke-width="0.7"/>
<path d="M294.3,126 294.7,127.3 294.7,128.2" fill="none" stroke="#000" stroke-width="0.7"/>
<path d="M296.4,125.7 296.1,126 296,126.4" fill="none" stroke="#000" stroke-width="0.7"/>
<path d="M298.1,125.5 298.4,126.2 299,126.6" fill="none" stroke="#000" stroke-width="0.7"/>
<path d="M300,125.3 299.6,126.6 299.8,127.5" fill="none" stroke="#000" stroke-width="0.7"/>
<path d="M301.4,125.9 299.9,126.5 298.7,127.1" fill="none" stroke="#000" stroke-width="0.7"/>
<path d="M303.2,127.1 301.7,127.6 300.1,128.1" fill="none" stroke="#000" stroke-width="0.7"/>
<path d="M304.8,128.3 303.4,128.2 302,128.2" fill="none" stroke="#000" stroke-width="0.7"/>
<path d="M304.1,130.6 303.2,130.4 302,129.9" fill="none" stroke="#000" stroke-width="0.7"/>
<path d="M303.4,133.2 301.9,133 300.8,132.8" fill="none" stroke="#000" stroke-width="0.7"/>
<path d="M301.4,134.2 299.9,133.2 299,132.8" fill="none" stroke="#000" stroke-width="0.7"/>
<path d="M299.8,135.1 299,133.6 298.9,132.1" fill="none" stroke="#000" stroke-width="0.7"/>
<path d="M297.6,135.8 296.5,134.7 296.2,134.2" fill="none" stroke="#000" stroke-width="0.7"/>
<path d="M294.7,136 294.2,135.2 293.5,134.5" fill="none" stroke="#000" stroke-width="0.7"/>
<path d="M292.8,136.1 292,135.3 291.9,134.4" fill="none" stroke="#000" stroke-width="0.7"/>
<path d="M289.9,136.1 290.3,134.9 290.2,134.3" fill="none" stroke="#000" stroke-width="0.7"/>
<path d="M286.9,135.9 286.5,135.1 286.7,134.8" fill="none" stroke="#000" stroke-width="0.7"/>
<path d="M285.3,135.9 285.3,135 285.2,134.3" fill="none" stroke="#000" stroke-width="0.7"/>
<path d="M282.7,135.5 282.2,133.7 282,132.2" fill="none" stroke="#000" stroke-width="0.7"/>
<path d="M281,135.1 281.4,134.6 281.6,134.4" fill="none" stroke="#000" stroke-width="0.7"/>
<path d="M278.6,134.7 278.4,133.7 278.6,133.1" fill="none" stroke="#000" stroke-width="0.7"/>
<path d="M277.1,133.6 278.5,133.3 279.3,132.8" fill="none" stroke="#000" stroke-width="0.7"/>
<path d="M275.3,132.1 276,130.2 276.1,129" fill="none" stroke="#000" stroke-width="0.7"/>
<path d="M273.9,129.7 275.4,129.5 276.1,129.8" fill="none" stroke="#000" stroke-width="0.7"/>
<path d="M273.4,127.9 273.8,127.7 274.5,127.3" fill="none" stroke="#000" stroke-width="0.7"/>
<path d="M272.7,125.2 273.3,124.6 274.1,124.6" fill="none" stroke="#000" stroke-width="0.7"/>
<path d="M271.8,123.9 272.2,123.9 272.8,123.8" fill="none" stroke="#000" stroke-width="0.7"/>
<path d="M270.3,121.7 271,121.1 271.5,120.7" fill="none" stroke="#000" stroke-width="0.7"/>
<path d="M268.7,120 269.4,119.9 269.4,119.3" fill="none" stroke="#000" stroke-width="0.7"/>
<path d="M266,119.4 265.6,118 265.7,117" fill="none" stroke="#000" stroke-width="0.7"/>
<path d="M264.8,118.4 266.1,118.6 267.3,118.6" fill="none" stroke="#000" stroke-width="0.7"/>
<path d="M263.9,117 265.8,116.3 267.2,115.8" fill="none" stroke="#000" stroke-width="0.7"/>
<path d="M263,115.5 264.8,114.7 265.8,113.7" fill="none" stroke="#000" stroke-width="0.7"/>
<path d="M210.1,152.2 213.1,148.1 217.1,146.5 220.1,145.1 223.1,148.1 227.1,150.2 231.2,149.7 234.2,146.5 237.2,143.1 241.2,142.1 243.8,144.5 242.6,149.1 243.8,154.2 246.2,159.2 249.2,164.2 252.6,168.2 251.2,171.2 247.2,172.6 243.2,175.2 238.2,177.2 235.2,176.6 231.2,177.8 227.1,179.2 222.5,179.8 219.7,177.2 217.1,174.2 214.1,171.2 213.1,167.2 216.1,164.2 213.1,160.2 210.1,157.2Z" fill="none" stroke="#000" stroke-width="0.75"/>
<path d="M211.4,150.4 212.8,150.8 213.5,151.4" fill="none" stroke="#000" stroke-width="0.7"/>
<path d="M212.7,148.6 213.8,148.9 214.3,149.5" fill="none" stroke="#000" stroke-width="0.7"/>
<path d="M214.4,147.6 215.2,148.1 215.3,148.8" fill="none" stroke="#000" stroke-width="0.7"/>
<path d="M216.7,146.7 216.7,147.6 216.8,148.7" fill="none" stroke="#000" stroke-width="0.7"/>
<path d="M218.6,145.8 218.6,146.7 218.6,147.8" fill="none" stroke="#000" stroke-width="0.7"/>
<path d="M220.7,145.7 219.8,146.3 219.5,146.8" fill="none" stroke="#000" stroke-width="0.7"/>
<path d="M222.6,147.6 221.6,148.1 220.5,148.5" fill="none" stroke="#000" stroke-width="0.7"/>
<path d="M224.6,148.9 224.1,149.5 223.5,150.4" fill="none" stroke="#000" stroke-width="0.7"/>
<path d="M227.3,150.2 227.7,150.9 228.4,151.7" fill="none" stroke="#000" stroke-width="0.7"/>
<path d="M228.7,150 229,151 229.2,151.9" fill="none" stroke="#000" stroke-width="0.7"/>
<path d="M231.5,149.4 233,150.2 233.8,150.6" fill="none" stroke="#000" stroke-width="0.7"/>
<path d="M233.6,147.2 233.7,148.6 234,149.9" fill="none" stroke="#000" stroke-width="0.7"/>
<path d="M235.6,144.9 236,145.2 235.8,145.8" fill="none" stroke="#000" stroke-width="0.7"/>
<path d="M236.6,143.7 237.2,145.6 237.3,147" fill="none" stroke="#000" stroke-width="0.7"/>
<path d="M239,142.7 239.8,143.4 240.3,143.7" fill="none" stroke="#000" stroke-width="0.7"/>
<path d="M241.7,142.6 241.4,143.8 241.6,144.8" fill="none" stroke="#000" stroke-width="0.7"/>
<path d="M243,143.7 242.8,144 242.7,144.6" fill="none" stroke="#000" stroke-width="0.7"/>
<path d="M243.7,144.9 243.2,145.4 242.5,145.4" fill="none" stroke="#000" stroke-width="0.7"/>
<path d="M243.3,146.5 242.1,145.4 241.5,144.7" fill="none" stroke="#000" stroke-width="0.7"/>
<path d="M242.6,149.3 241.2,149.4 239.8,149.5" fill="none" stroke="#000" stroke-width="0.7"/>
<path d="M243.1,151.1 241.3,150.8 240.4,150.7" fill="none" stroke="#000" stroke-width="0.7"/>
<path d="M243.5,152.9 242.1,153.7 240.7,154.5" fill="none" stroke="#000" stroke-width="0.7"/>
<path d="M244.1,154.8 243,154.6 241.9,154.6" fill="none" stroke="#000" stroke-width="0.7"/>
<path d="M244.8,156.2 244,157 243.2,157.1" fill="none" stroke="#000" stroke-width="0.7"/>
<path d="M245.6,157.9 243.7,157.5 242.3,157.5" fill="none" stroke="#000" stroke-width="0.7"/>
<path d="M246.4,159.5 245.5,161.1 244.6,162.2" fill="none" stroke="#000" stroke-width="0.7"/>
<path d="M247.2,160.8 246.4,161.1 246.3,161.2" fill="none" stroke="#000" stroke-width="0.7"/>
<path d="M248.7,163.4 247.7,164.2 247.3,165" fill="none" stroke="#000" stroke-width="0.7"/>
<path d="M249.9,165 249.3,165.4 248.8,165.5" fill="none" stroke="#000" stroke-width="0.7"/>
<path d="M250.8,166.1 249.7,166.1 249.3,166.3" fill="none" stroke="#000" stroke-width="0.7"/>
<path d="M252.6,168.2 251.9,168 251.1,168.2" fill="none" stroke="#000" stroke-width="0.7"/>
<path d="M251.8,170 250.8,169.9 249.9,169.7" fill="none" stroke="#000" stroke-width="0.7"/>
<path d="M250,171.6 248.3,170.8 247.2,169.6" fill="none" stroke="#000" stroke-width="0.7"/>
<path d="M247.4,172.5 246.1,171.2 245.5,170.4" fill="none" stroke="#000" stroke-width="0.7"/>
<path d="M245.4,173.8 244.4,172.8 243.4,171.7" fill="none" stroke="#000" stroke-width="0.7"/>
<path d="M243.8,174.8 243.9,174.3 243.7,173.6" fill="none" stroke="#000" stroke-width="0.7"/>
<path d="M241.5,175.9 241.2,175.1 241.2,174.1" fill="none" stroke="#000" stroke-width="0.7"/>
<path d="M240,176.5 239.4,175.4 238.5,174.2" fill="none" stroke="#000" stroke-width="0.7"/>
<path d="M238.5,177.1 238.4,176.9 237.9,176.4" fill="none" stroke="#000" stroke-width="0.7"/>
<path d="M236,176.8 235.8,176 235.8,175.4" fill="none" stroke="#000" stroke-width="0.7"/>
<path d="M233.7,177 233.7,176.6 233.9,176" fill="none" stroke="#000" stroke-width="0.7"/>
<path d="M231.9,177.6 232,176.7 232.3,176" fill="none" stroke="#000" stroke-width="0.7"/>
<path d="M229.2,178.5 229,176.9 229.1,175.4" fill="none" stroke="#000" stroke-width="0.7"/>
<path d="M227.2,179.2 227.3,178.5 227.3,177.5" fill="none" stroke="#000" stroke-width="0.7"/>
<path d="M225.1,179.5 225,179 224.6,178.3" fill="none" stroke="#000" stroke-width="0.7"/>
<path d="M222.7,179.8 222.4,178.5 222.7,177.8" fill="none" stroke="#000" stroke-width="0.7"/>
<path d="M220.9,178.3 221.3,177.7 221.8,177.6" fill="none" stroke="#000" stroke-width="0.7"/>
<path d="M219,176.4 219.8,174.9 220.8,173.7" fill="none" stroke="#000" stroke-width="0.7"/>
<path d="M218,175.2 218.4,173.2 218.6,171.9" fill="none" stroke="#000" stroke-width="0.7"/>
<path d="M217.1,174.2 219,173.5 220.3,172.7" fill="none" stroke="#000" stroke-width="0.7"/>
<path d="M215.5,172.6 216.6,171.7 217.7,171.3" fill="none" stroke="#000" stroke-width="0.7"/>
<path d="M214,170.7 215.6,170.5 216.8,170.9" fill="none" stroke="#000" stroke-width="0.7"/>
<path d="M213.4,168.3 213.7,168.3 214.4,168.6" fill="none" stroke="#000" stroke-width="0.7"/>
<path d="M213.9,166.4 214.6,168 215.6,169.1" fill="none" stroke="#000" stroke-width="0.7"/>
<path d="M215.1,165.2 216.1,165.6 216.6,166.2" fill="none" stroke="#000" stroke-width="0.7"/>
<path d="M215.8,163.8 216.1,163 216.7,162.4" fill="none" stroke="#000" stroke-width="0.7"/>
<path d="M214.8,162.5 215.2,161.8 215.4,161.1" fill="none" stroke="#000" stroke-width="0.7"/>
<path d="M213.8,161.1 215.1,160.9 215.6,160.1" fill="none" stroke="#000" stroke-width="0.7"/>
<path d="M212.8,159.9 214.4,159.1 216,158.8" fill="none" stroke="#000" stroke-width="0.7"/>
<path d="M211.3,158.4 211.7,157.6 212.1,157" fill="none" stroke="#000" stroke-width="0.7"/>
<path d="M210.1,156.6 210.5,156.8 211.1,156.5" fill="none" stroke="#000" stroke-width="0.7"/>
<path d="M210.1,155 210.6,155.1 211.3,154.8" fill="none" stroke="#000" stroke-width="0.7"/>
<path d="M210.1,153.6 212.1,153.8 213.4,154.1" fill="none" stroke="#000" stroke-width="0.7"/>
<path d="M156.9,170.5 162.3,172.1 169.3,175.7 172.3,173.1 177.4,171.1 182.4,168.1 184,167.2 188,165.2 191,169.2 195,167.2 197.1,171.2 202.1,170.2 208.1,173.2 214.1,175.2 219.1,179.2 222.1,182.2 227.1,183.2 231.2,182.2 234.2,184.3 235.8,188.3 237.2,183.9 240.2,180.2 246.2,179.2 252.2,180.6 257.2,182.6 261.2,181.8 264.3,185.3 265.9,181.2 268.3,176.2 265.3,170.2 263.2,164.2 264.3,159.2 268.3,156.2 271.9,158.2 273.9,163.2 273.3,168.2 275.3,170.2 278.7,172.6 282.3,177.2 284.3,183.2 287.3,184.3 289.3,179.2 290.3,173.2 292.3,169.2 296.3,170.2 299.4,174.2 300.4,180.2 298.4,185.3 294.3,188.3 290.3,190.3 287.3,194.3 283.3,198.3 278.3,201.3 273.3,203.3 269.3,204.3 274.3,205.3 278.3,204.3 274.3,209.3 270.3,213.3 268.3,220 267.8,225.2 271.2,229.2 273.2,233.2 279.2,235.3 285.3,238.3 291.3,241.3 296.3,243.3 298.3,248.3 300.3,252.3 303.3,255.3 305.9,252.3 305.3,246.3 306.3,241.3 310.3,238.3 311.3,233.2 309.3,228.2 306.3,224.2 308.3,218.2 309.3,212.2 312.3,210.2 318.4,209.8 323.4,212.2 328.4,216.2 329.4,221.2 328.4,226.2 332.4,227.8 336.4,224.2 339.4,219.2 342.4,222.2 344.4,228.2 347.4,234.3 352.5,240.3 358.5,245.3 361.5,249.3 360.5,254.3 357.5,256.3 360.5,260.3 361.7,249.6 361.1,252 358.7,254.2 356.3,255 352.7,256.9 349.1,258.7 344.3,258.3 338.8,259 334.6,260.5 331,263.5 328,265.9 325,269.5 325.6,270.3 329.2,267.1 332.2,264.7 335.8,262.9 339.4,262.9 340.9,264.7 340,267.1 338.8,268.9 339.4,270.7 338.2,272.5 340.9,271.5 343,272.3 345.5,271.5 347.9,270.7 349.7,269.5 350.9,271.1 350.3,273.1 347.9,274.7 344.9,275.5 342.4,276.7 340,277.9 338.2,279.7 336.8,280.3 336.1,278.5 337,276.7 335.2,276.1 332.8,275.5 332.2,272.5 331.6,269.5 329.2,268.6 326.8,269.5 325,271.5 323.8,273.9 320.2,275.1 315.4,276.7 312.4,279.1 305.5,280.9 303.9,282.4 296.1,286.3 299.1,281.5 298.5,276.1 292.5,273.1 290.1,268.3 284.1,267.1 278.1,268.3 275,266.2 271.4,264.3 267.2,262.7 260,262.7 200.2,262.8 199.6,261.6 196.6,259.8 193,258 189.3,256.2 187.5,252.5 184.5,249.5 182.1,246.5 180.9,243.5 182.4,241.1 181.5,237.3 177.3,233.3 174.3,228.5 171.5,224.3 168.9,222.5 165.9,224.3 161.1,221.2 156.9,220Z" fill="none" stroke="#000" stroke-width="0.75"/>
<path d="M353.3,265.3 355.1,262.9 356.9,259.9 358.7,256.9 360.1,254.7 361.1,256.2 360.9,259.3 362.3,261.7 364.7,261.4 367.1,262.3 368.3,264.7 368.6,268.3 367.7,270.1 365.9,269.5 364.7,267.7 362.3,268.3 359.9,269.5 359.7,267.4 357.5,266.7 355.1,266.5Z" fill="none" stroke="#000" stroke-width="0.75"/>
<path d="M175.1,247.7 179.1,248.3 178.3,251.3 179.7,254.9 181.2,258.6 179.1,256.8 176.7,252.5Z" fill="none" stroke="#000" stroke-width="0.75"/>
<path d="M186.3,257.4 189.3,256.8 193,259.2 196.6,261.6 199.6,264.6 200.2,267 197.5,265.8 194.8,264 191.2,261.6 188.1,259.2Z" fill="none" stroke="#000" stroke-width="0.75"/>
<path d="M156.9,220 161.1,221.2 165.9,224.3 168.9,222.5 171.5,224.3 174.3,228.5 177.3,233.3 181.5,237.3 182.4,241.1 180.9,243.5 178.5,243.5 174.9,241.7 171.9,237.5 170.1,233.9 168.3,229.7 164.7,227.3 160.5,223.7 156.9,220.6Z" fill="none" stroke="#000" stroke-width="0.75"/>
<path d="M157.8,220.2 157.8,220.8 158,221.1" fill="none" stroke="#000" stroke-width="0.9"/>
<path d="M158.4,220.4 158.6,220.9 158.5,221.6" fill="none" stroke="#000" stroke-width="0.9"/>
<path d="M159.4,220.7 159.8,222.1 160,223.3" fill="none" stroke="#000" stroke-width="0.9"/>
<path d="M160.2,220.9 160.5,223.1 161.2,224.3" fill="none" stroke="#000" stroke-width="0.9"/>
<path d="M161,221.2 160.9,222.2 161,222.6" fill="none" stroke="#000" stroke-width="0.9"/>
<path d="M161.6,221.5 161.1,222.4 160.7,222.6" fill="none" stroke="#000" stroke-width="0.9"/>
<path d="M162.6,222.1 162.6,223.4 162.3,223.9" fill="none" stroke="#000" stroke-width="0.9"/>
<path d="M163,222.5 161.8,223 160.5,223.8" fill="none" stroke="#000" stroke-width="0.9"/>
<path d="M164,223.1 163.8,224.4 163.6,225.8" fill="none" stroke="#000" stroke-width="0.9"/>
<path d="M164.5,223.4 164.1,224.4 163.9,225" fill="none" stroke="#000" stroke-width="0.9"/>
<path d="M165.4,224 163.9,224.8 162.2,225.1" fill="none" stroke="#000" stroke-width="0.9"/>
<path d="M166.1,224.2 166.3,225 166.5,225.5" fill="none" stroke="#000" stroke-width="0.9"/>
<path d="M166.6,223.9 166.6,224.8 166.5,225.3" fill="none" stroke="#000" stroke-width="0.9"/>
<path d="M167.1,223.6 167.2,224.9 167,225.5" fill="none" stroke="#000" stroke-width="0.9"/>
<path d="M167.7,223.2 167.8,224.5 167.9,225.3" fill="none" stroke="#000" stroke-width="0.9"/>
<path d="M168.5,222.7 169.4,222.8 169.6,223.3" fill="none" stroke="#000" stroke-width="0.9"/>
<path d="M169.1,222.6 168.5,223.2 167.7,223.7" fill="none" stroke="#000" stroke-width="0.9"/>
<path d="M169.8,223.1 169.3,224.8 168.9,226" fill="none" stroke="#000" stroke-width="0.9"/>
<path d="M170.6,223.7 170.4,224.4 170.6,224.7" fill="none" stroke="#000" stroke-width="0.9"/>
<path d="M171.5,224.3 169.8,225.5 168.6,226.2" fill="none" stroke="#000" stroke-width="0.9"/>
<path d="M172,225 171.6,225.9 171.5,226.8" fill="none" stroke="#000" stroke-width="0.9"/>
<path d="M172.4,225.6 172.3,225.8 171.9,226.5" fill="none" stroke="#000" stroke-width="0.9"/>
<path d="M172.9,226.4 172.7,227 172.2,227.6" fill="none" stroke="#000" stroke-width="0.9"/>
<path d="M173.3,227 172.2,227.6 171.3,227.6" fill="none" stroke="#000" stroke-width="0.9"/>
<path d="M173.7,227.7 172.5,228.1 171.6,228.3" fill="none" stroke="#000" stroke-width="0.9"/>
<path d="M174.2,228.4 174.1,229.2 173.7,229.5" fill="none" stroke="#000" stroke-width="0.9"/>
<path d="M174.8,229.3 173.2,230.1 172.3,230.4" fill="none" stroke="#000" stroke-width="0.9"/>
<path d="M175.1,229.8 174.5,230.6 174.1,231.5" fill="none" stroke="#000" stroke-width="0.9"/>
<path d="M175.6,230.5 174.1,231.4 173.1,231.8" fill="none" stroke="#000" stroke-width="0.9"/>
<path d="M176.1,231.4 175.6,233.2 175,234.3" fill="none" stroke="#000" stroke-width="0.9"/>
<path d="M176.5,232 175.7,232.1 175.1,232.2" fill="none" stroke="#000" stroke-width="0.9"/>
<path d="M177.1,233 176.4,233.8 176.1,234.6" fill="none" stroke="#000" stroke-width="0.9"/>
<path d="M177.8,233.8 176.6,234 176.1,234.5" fill="none" stroke="#000" stroke-width="0.9"/>
<path d="M178.5,234.5 178,235.2 177,236" fill="none" stroke="#000" stroke-width="0.9"/>
<path d="M179,234.9 178.5,235.3 178.3,235.6" fill="none" stroke="#000" stroke-width="0.9"/>
<path d="M179.4,235.3 179.3,235.6 178.9,236" fill="none" stroke="#000" stroke-width="0.9"/>
<path d="M180.3,236.1 179.6,237 178.8,238.1" fill="none" stroke="#000" stroke-width="0.9"/>
<path d="M181,236.8 179.6,237.7 178.7,238.9" fill="none" stroke="#000" stroke-width="0.9"/>
<path d="M181.5,237.5 180.9,238.1 180.3,238.1" fill="none" stroke="#000" stroke-width="0.9"/>
<path d="M181.8,238.5 180.5,238.1 179.6,237.9" fill="none" stroke="#000" stroke-width="0.9"/>
<path d="M182,239.5 180.9,240.4 180.1,240.9" fill="none" stroke="#000" stroke-width="0.9"/>
<path d="M182.2,240.2 181.5,241.5 180.4,242.3" fill="none" stroke="#000" stroke-width="0.9"/>
<path d="M182.4,240.9 180.2,240.5 178.9,240.3" fill="none" stroke="#000" stroke-width="0.9"/>
<path d="M182,241.7 179.8,241.5 178.5,241.5" fill="none" stroke="#000" stroke-width="0.9"/>
<path d="M181.7,242.2 180.8,241.4 180.1,241.1" fill="none" stroke="#000" stroke-width="0.9"/>
<path d="M181.4,242.7 179.9,241.9 178.7,241.3" fill="none" stroke="#000" stroke-width="0.9"/>
<path d="M180.8,243.5 181.8,241.8 182.3,240.6" fill="none" stroke="#000" stroke-width="0.9"/>
<path d="M180.2,243.5 180.2,243 180.7,242.5" fill="none" stroke="#000" stroke-width="0.9"/>
<path d="M179,243.5 178.8,242.8 178.7,241.8" fill="none" stroke="#000" stroke-width="0.9"/>
<path d="M178,243.2 177.8,241.5 177.4,240.2" fill="none" stroke="#000" stroke-width="0.9"/>
<path d="M177.3,242.9 178.7,241.9 179.4,240.7" fill="none" stroke="#000" stroke-width="0.9"/>
<path d="M176.2,242.3 176.9,241.4 177.2,240.6" fill="none" stroke="#000" stroke-width="0.9"/>
<path d="M175.6,242.1 177,241.1 177.6,240.7" fill="none" stroke="#000" stroke-width="0.9"/>
<path d="M174.9,241.7 175.7,241 175.9,240.6" fill="none" stroke="#000" stroke-width="0.9"/>
<path d="M174.4,241.1 175.2,240.4 175.7,240" fill="none" stroke="#000" stroke-width="0.9"/>
<path d="M174.1,240.5 174.8,239.7 174.9,239.3" fill="none" stroke="#000" stroke-width="0.9"/>
<path d="M173.4,239.6 173.9,239.7 174.6,239.4" fill="none" stroke="#000" stroke-width="0.9"/>
<path d="M172.9,238.9 173.3,238.4 173.3,237.9" fill="none" stroke="#000" stroke-width="0.9"/>
<path d="M172.4,238.2 173.3,237.6 174.1,237.6" fill="none" stroke="#000" stroke-width="0.9"/>
<path d="M171.9,237.4 172.8,237.6 173.6,237.5" fill="none" stroke="#000" stroke-width="0.9"/>
<path d="M171.6,236.9 173.2,236.6 174.2,236" fill="none" stroke="#000" stroke-width="0.9"/>
<path d="M171.2,236 172.4,235.9 173.6,235.8" fill="none" stroke="#000" stroke-width="0.9"/>
<path d="M170.7,235 172.1,234.8 172.9,234.1" fill="none" stroke="#000" stroke-width="0.9"/>
<path d="M170.3,234.4 170.7,234.5 171.4,234.1" fill="none" stroke="#000" stroke-width="0.9"/>
<path d="M170,233.6 171.4,233.4 172.3,233.7" fill="none" stroke="#000" stroke-width="0.9"/>
<path d="M169.6,232.8 170.1,232.7 170.8,232.2" fill="none" stroke="#000" stroke-width="0.9"/>
<path d="M169.3,232.1 170.5,232.1 171.2,232.3" fill="none" stroke="#000" stroke-width="0.9"/>
<path d="M169,231.2 169.7,230.4 170.7,229.3" fill="none" stroke="#000" stroke-width="0.9"/>
<path d="M168.7,230.6 170.3,230.4 171.4,230.4" fill="none" stroke="#000" stroke-width="0.9"/>
<path d="M168.2,229.6 168.4,228.1 168.1,226.7" fill="none" stroke="#000" stroke-width="0.9"/>
<path d="M167.6,229.2 167.8,228.7 167.6,227.9" fill="none" stroke="#000" stroke-width="0.9"/>
<path d="M166.9,228.8 166.8,227.9 166.9,227.4" fill="none" stroke="#000" stroke-width="0.9"/>
<path d="M166.4,228.4 166.9,227.9 167.9,227.6" fill="none" stroke="#000" stroke-width="0.9"/>
<path d="M165.7,227.9 165.4,227 165.6,226.6" fill="none" stroke="#000" stroke-width="0.9"/>
<path d="M164.6,227.2 166.3,226.2 167.3,225.5" fill="none" stroke="#000" stroke-width="0.9"/>
<path d="M164.1,226.8 165.7,225.5 166.5,224.7" fill="none" stroke="#000" stroke-width="0.9"/>
<path d="M163.5,226.2 164.7,225.6 166.1,225.3" fill="none" stroke="#000" stroke-width="0.9"/>
<path d="M163,225.9 164.3,225.3 165.3,225.2" fill="none" stroke="#000" stroke-width="0.9"/>
<path d="M162.2,225.2 162.7,223.9 162.6,222.6" fill="none" stroke="#000" stroke-width="0.9"/>
<path d="M161.6,224.6 161.8,223.6 162,222.9" fill="none" stroke="#000" stroke-width="0.9"/>
<path d="M161,224.2 162.4,223.6 163.1,222.6" fill="none" stroke="#000" stroke-width="0.9"/>
<path d="M160.4,223.6 161.1,222.3 161.8,221.2" fill="none" stroke="#000" stroke-width="0.9"/>
<path d="M159.4,222.8 159.7,222.5 160,222" fill="none" stroke="#000" stroke-width="0.9"/>
<path d="M158.5,222 158.7,220.9 158.8,219.9" fill="none" stroke="#000" stroke-width="0.9"/>
<path d="M157.7,221.3 158.7,220.2 159.5,219" fill="none" stroke="#000" stroke-width="0.9"/>
<path d="M157.3,220.9 158.3,220.7 158.5,220.1" fill="none" stroke="#000" stroke-width="0.9"/>
<path d="M156.9,220.4 158.7,219.6 160.2,219.3" fill="none" stroke="#000" stroke-width="0.9"/>
<path d="M165.9,224.9 168.9,229.1 170.7,227.9 172.5,233.3 174.9,232.1 176.1,236.9 179.1,236.3 180.3,241.1" fill="none" stroke="#000" stroke-width="1.4"/>
<path d="M167.1,223.1 170.1,225.5 171.5,230.9 174.3,233.9 176.7,238.1 179.7,239.9" fill="none" stroke="#000" stroke-width="1.2"/>
<path d="M279.3,150.2 280.3,145.1 283.3,142.1 287.3,141.1 290.3,143.1 288.3,148.1 287.3,153.2 289.3,158.2 292.3,154.2 291.3,149.1 293.3,144.1 297.4,142.1 302.4,143.1 307.4,142.5 310.4,145.1 312.4,149.1 316.4,153.2 320.4,156.2 324.4,160.2 329.4,164.2 333.5,169.2 335.5,174.2 338.5,179.2 342.5,183.2 347.5,186.3 346.5,191.3 343.5,195.3 340.5,191.3 337.5,188.3 334.5,190.3 337.5,194.3 340.5,200.3 341.5,205.3 338.5,208.3 334.5,205.3 330.5,202.3 326.4,199.3 321.4,200.3 316.4,201.3 311.4,201.3 308.4,198.3 310.4,195.3 315.4,194.3 318.4,191.3 321.4,188.3 324.4,186.3 320.4,184.3 318.4,180.2 316.4,176.2 312.4,173.2 308.4,170.2 305.4,166.2 302.4,168.2 298.4,170.2 293.3,169.2 288.3,167.2 283.3,164.2 280.3,160.2 278.7,155.2Z" fill="none" stroke="#000" stroke-width="0.75"/>
<path d="M279.7,148.2 280.7,148.5 282,148.3" fill="none" stroke="#000" stroke-width="0.7"/>
<path d="M279.9,147 280.6,148 281.7,148.7" fill="none" stroke="#000" stroke-width="0.7"/>
<path d="M280.4,145 281,145.3 281.3,145.6" fill="none" stroke="#000" stroke-width="0.7"/>
<path d="M282.1,143.3 282.6,143.6 283.4,143.9" fill="none" stroke="#000" stroke-width="0.7"/>
<path d="M284.3,141.9 284,143.5 283.9,144.5" fill="none" stroke="#000" stroke-width="0.7"/>
<path d="M285.6,141.5 285.7,142.5 285.6,143.3" fill="none" stroke="#000" stroke-width="0.7"/>
<path d="M286.9,141.2 287.3,142.1 287.9,142.6" fill="none" stroke="#000" stroke-width="0.7"/>
<path d="M288.2,141.7 286.2,142.5 285.1,143.2" fill="none" stroke="#000" stroke-width="0.7"/>
<path d="M289.9,142.8 289.8,143.1 289.4,143.7" fill="none" stroke="#000" stroke-width="0.7"/>
<path d="M289.7,144.6 289.3,144.1 288.5,144" fill="none" stroke="#000" stroke-width="0.7"/>
<path d="M289.2,145.7 288.4,145.2 288.2,145.2" fill="none" stroke="#000" stroke-width="0.7"/>
<path d="M288.5,147.6 286.5,147.1 285,146.6" fill="none" stroke="#000" stroke-width="0.7"/>
<path d="M288.1,148.9 286.8,149.5 285.6,149.6" fill="none" stroke="#000" stroke-width="0.7"/>
<path d="M287.9,150.2 286.4,149.5 285.5,149.3" fill="none" stroke="#000" stroke-width="0.7"/>
<path d="M287.4,152.9 285.5,153.9 283.7,154.2" fill="none" stroke="#000" stroke-width="0.7"/>
<path d="M287.8,154.4 286.9,155.8 286.3,156.7" fill="none" stroke="#000" stroke-width="0.7"/>
<path d="M288.6,156.4 287.5,158 286.7,159" fill="none" stroke="#000" stroke-width="0.7"/>
<path d="M289.4,158.1 290.8,158.7 291.4,159.2" fill="none" stroke="#000" stroke-width="0.7"/>
<path d="M290.1,157.1 291.7,157.6 293.1,158.4" fill="none" stroke="#000" stroke-width="0.7"/>
<path d="M291.3,155.6 292.4,155.4 293.2,155.7" fill="none" stroke="#000" stroke-width="0.7"/>
<path d="M292.2,153.5 292.9,153.6 293.2,153.7" fill="none" stroke="#000" stroke-width="0.7"/>
<path d="M291.7,151.2 292.6,151.1 293.4,151.4" fill="none" stroke="#000" stroke-width="0.7"/>
<path d="M291.5,148.5 292.9,148.7 293.6,148.9" fill="none" stroke="#000" stroke-width="0.7"/>
<path d="M292.4,146.4 292.8,146.7 293.3,147.5" fill="none" stroke="#000" stroke-width="0.7"/>
<path d="M293.5,144 293.7,144.8 293.3,145.4" fill="none" stroke="#000" stroke-width="0.7"/>
<path d="M294.6,143.4 295.1,143.9 295.5,144.2" fill="none" stroke="#000" stroke-width="0.7"/>
<path d="M297.1,142.2 298,142.7 298.7,143.4" fill="none" stroke="#000" stroke-width="0.7"/>
<path d="M298.4,142.3 297.5,143.5 297.2,144.6" fill="none" stroke="#000" stroke-width="0.7"/>
<path d="M300.7,142.8 300.9,144.3 300.6,145.9" fill="none" stroke="#000" stroke-width="0.7"/>
<path d="M303,143 302.3,144.4 301.7,145.9" fill="none" stroke="#000" stroke-width="0.7"/>
<path d="M304.3,142.9 305.1,143.8 305.6,145" fill="none" stroke="#000" stroke-width="0.7"/>
<path d="M306.7,142.6 307.1,143.2 307.8,143.7" fill="none" stroke="#000" stroke-width="0.7"/>
<path d="M308.4,143.4 308.1,144.8 307.9,145.4" fill="none" stroke="#000" stroke-width="0.7"/>
<path d="M310,144.7 310.2,147 309.8,148.4" fill="none" stroke="#000" stroke-width="0.7"/>
<path d="M311.1,146.5 310.1,146.8 308.8,147.5" fill="none" stroke="#000" stroke-width="0.7"/>
<path d="M312.1,148.5 311.2,149.5 310.2,150.2" fill="none" stroke="#000" stroke-width="0.7"/>
<path d="M312.9,149.6 311.8,150.9 310.9,151.8" fill="none" stroke="#000" stroke-width="0.7"/>
<path d="M313.8,150.5 313.1,151.5 312.2,152.7" fill="none" stroke="#000" stroke-width="0.7"/>
<path d="M315.5,152.3 314.3,153 313,154" fill="none" stroke="#000" stroke-width="0.7"/>
<path d="M317.1,153.7 315.9,154.4 315,155.4" fill="none" stroke="#000" stroke-width="0.7"/>
<path d="M318.3,154.6 317.8,156 317.8,157.3" fill="none" stroke="#000" stroke-width="0.7"/>
<path d="M319.9,155.8 320.1,157.1 319.9,158.3" fill="none" stroke="#000" stroke-width="0.7"/>
<path d="M321.7,157.5 321.2,157.8 320.7,157.6" fill="none" stroke="#000" stroke-width="0.7"/>
<path d="M323.6,159.4 323.1,161.1 322.9,162.7" fill="none" stroke="#000" stroke-width="0.7"/>
<path d="M325.5,161 325,161.6 325,162.5" fill="none" stroke="#000" stroke-width="0.7"/>
<path d="M327.6,162.7 326.7,164.5 325.8,166.1" fill="none" stroke="#000" stroke-width="0.7"/>
<path d="M329.2,164 328.2,164.6 327.6,165.3" fill="none" stroke="#000" stroke-width="0.7"/>
<path d="M330.5,165.5 330.2,165.8 329.4,166.6" fill="none" stroke="#000" stroke-width="0.7"/>
<path d="M331.4,166.6 330.7,168.5 330.5,169.7" fill="none" stroke="#000" stroke-width="0.7"/>
<path d="M332.7,168.3 332.4,169 332.3,169.8" fill="none" stroke="#000" stroke-width="0.7"/>
<path d="M334,170.4 332.1,170.6 330.2,170.3" fill="none" stroke="#000" stroke-width="0.7"/>
<path d="M334.9,172.8 332.8,172.1 331.5,171.8" fill="none" stroke="#000" stroke-width="0.7"/>
<path d="M335.5,174.3 334.2,175.3 333.2,175.7" fill="none" stroke="#000" stroke-width="0.7"/>
<path d="M336.5,175.8 335.9,176.6 335.5,177" fill="none" stroke="#000" stroke-width="0.7"/>
<path d="M337.6,177.7 336.8,178.6 336.3,179.5" fill="none" stroke="#000" stroke-width="0.7"/>
<path d="M338.3,178.9 337.7,180.2 336.9,181" fill="none" stroke="#000" stroke-width="0.7"/>
<path d="M339.3,180 338.4,181.3 337.8,182.3" fill="none" stroke="#000" stroke-width="0.7"/>
<path d="M341,181.7 339.1,182.6 337.8,183.2" fill="none" stroke="#000" stroke-width="0.7"/>
<path d="M342.2,182.9 341.8,183.5 341.4,183.6" fill="none" stroke="#000" stroke-width="0.7"/>
<path d="M343.6,183.9 342.4,185.6 341.8,186.7" fill="none" stroke="#000" stroke-width="0.7"/>
<path d="M345,184.8 344.8,186.4 345.1,187.3" fill="none" stroke="#000" stroke-width="0.7"/>
<path d="M346.1,185.4 345.8,186.4 346,186.8" fill="none" stroke="#000" stroke-width="0.7"/>
<path d="M347.3,187.4 346,187.3 344.5,187.3" fill="none" stroke="#000" stroke-width="0.7"/>
<path d="M347,188.8 345.2,188.7 344.1,188.8" fill="none" stroke="#000" stroke-width="0.7"/>
<path d="M346.6,190.6 346.1,190.3 345.2,190.1" fill="none" stroke="#000" stroke-width="0.7"/>
<path d="M346.2,191.7 344.6,192 343.3,191.8" fill="none" stroke="#000" stroke-width="0.7"/>
<path d="M344.8,193.5 343.6,191.6 342.9,190.5" fill="none" stroke="#000" stroke-width="0.7"/>
<path d="M343.7,195.1 342,194.8 340.9,194.3" fill="none" stroke="#000" stroke-width="0.7"/>
<path d="M342.6,194.1 344.1,193 344.9,192.7" fill="none" stroke="#000" stroke-width="0.7"/>
<path d="M341.7,192.9 343.1,192 344.7,191.7" fill="none" stroke="#000" stroke-width="0.7"/>
<path d="M340.8,191.7 342,191.4 343.3,191.5" fill="none" stroke="#000" stroke-width="0.7"/>
<path d="M339.2,190 340.7,189.9 341.3,189.4" fill="none" stroke="#000" stroke-width="0.7"/>
<path d="M337.6,188.4 338,187 338,186" fill="none" stroke="#000" stroke-width="0.7"/>
<path d="M336,189.3 336.1,188 336.2,186.5" fill="none" stroke="#000" stroke-width="0.7"/>
<path d="M335.1,191.1 334.9,191.7 334.3,192" fill="none" stroke="#000" stroke-width="0.7"/>
<path d="M336.7,193.3 336.3,193.8 335.5,194.1" fill="none" stroke="#000" stroke-width="0.7"/>
<path d="M337.9,195.2 336.4,197 335.7,198.2" fill="none" stroke="#000" stroke-width="0.7"/>
<path d="M338.9,197.1 337.9,196.9 337.4,197.1" fill="none" stroke="#000" stroke-width="0.7"/>
<path d="M339.6,198.6 339.3,198.9 338.8,199.2" fill="none" stroke="#000" stroke-width="0.7"/>
<path d="M340.7,201.1 340,201.5 339.8,201.8" fill="none" stroke="#000" stroke-width="0.7"/>
<path d="M341,202.6 339.4,203.1 338.1,203.1" fill="none" stroke="#000" stroke-width="0.7"/>
<path d="M341.4,205 339.8,206.6 338.6,207.3" fill="none" stroke="#000" stroke-width="0.7"/>
<path d="M340.4,206.4 339.5,205.9 339.1,205.2" fill="none" stroke="#000" stroke-width="0.7"/>
<path d="M338.8,208 338.8,207.1 338.7,206.7" fill="none" stroke="#000" stroke-width="0.7"/>
<path d="M337.1,207.3 337.7,205.2 338.7,203.9" fill="none" stroke="#000" stroke-width="0.7"/>
<path d="M336.1,206.5 336.8,205.1 337,204.2" fill="none" stroke="#000" stroke-width="0.7"/>
<path d="M335.1,205.8 335.2,204.3 335.4,203.5" fill="none" stroke="#000" stroke-width="0.7"/>
<path d="M333.9,204.9 335.3,204.5 336.6,204" fill="none" stroke="#000" stroke-width="0.7"/>
<path d="M332.6,203.8 333.6,202.5 334.9,201.1" fill="none" stroke="#000" stroke-width="0.7"/>
<path d="M331.3,202.9 331.5,202.4 331.3,201.8" fill="none" stroke="#000" stroke-width="0.7"/>
<path d="M329.9,201.9 330.8,201.1 332,200.3" fill="none" stroke="#000" stroke-width="0.7"/>
<path d="M328,200.5 328.1,198.5 328.1,196.8" fill="none" stroke="#000" stroke-width="0.7"/>
<path d="M325.9,199.4 326.1,198.2 325.9,197.4" fill="none" stroke="#000" stroke-width="0.7"/>
<path d="M323.9,199.8 322.7,198.4 321.2,197.5" fill="none" stroke="#000" stroke-width="0.7"/>
<path d="M322,200.2 322.2,199.4 322.4,198.4" fill="none" stroke="#000" stroke-width="0.7"/>
<path d="M320.7,200.4 321.2,198.4 321.5,197.1" fill="none" stroke="#000" stroke-width="0.7"/>
<path d="M319.1,200.8 318.4,199.8 317.4,199.2" fill="none" stroke="#000" stroke-width="0.7"/>
<path d="M316.4,201.3 316.7,200.6 316.7,199.8" fill="none" stroke="#000" stroke-width="0.7"/>
<path d="M314.5,201.3 314.4,201 314.4,200.3" fill="none" stroke="#000" stroke-width="0.7"/>
<path d="M311.8,201.3 312.8,199.4 314.1,198.4" fill="none" stroke="#000" stroke-width="0.7"/>
<path d="M310.5,200.4 310.7,199.7 310.7,199.4" fill="none" stroke="#000" stroke-width="0.7"/>
<path d="M308.9,198.8 309.7,197.6 309.9,197" fill="none" stroke="#000" stroke-width="0.7"/>
<path d="M309.4,196.8 310.1,197.9 311.1,198.6" fill="none" stroke="#000" stroke-width="0.7"/>
<path d="M311.3,195.1 311.5,195.9 311.6,196.6" fill="none" stroke="#000" stroke-width="0.7"/>
<path d="M313.6,194.7 314.4,196.2 314.9,197.2" fill="none" stroke="#000" stroke-width="0.7"/>
<path d="M315.5,194.2 316.3,195.2 317,196.4" fill="none" stroke="#000" stroke-width="0.7"/>
<path d="M316.8,192.9 317.3,194.5 318.2,195.8" fill="none" stroke="#000" stroke-width="0.7"/>
<path d="M318.3,191.4 319.7,191.9 320.7,192.1" fill="none" stroke="#000" stroke-width="0.7"/>
<path d="M319.8,189.9 320.7,191.4 322.1,192.8" fill="none" stroke="#000" stroke-width="0.7"/>
<path d="M321.4,188.3 321.5,189.1 321.3,189.5" fill="none" stroke="#000" stroke-width="0.7"/>
<path d="M322.6,187.5 322.7,188 322.7,188.5" fill="none" stroke="#000" stroke-width="0.7"/>
<path d="M324.3,186.4 325.7,187.4 326.5,188.6" fill="none" stroke="#000" stroke-width="0.7"/>
<path d="M322.6,185.4 322.9,184 323.2,182.5" fill="none" stroke="#000" stroke-width="0.7"/>
<path d="M321.1,184.6 322.8,183.7 323.6,183.1" fill="none" stroke="#000" stroke-width="0.7"/>
<path d="M319.6,182.8 320.9,182.7 322.4,182.7" fill="none" stroke="#000" stroke-width="0.7"/>
<path d="M318.8,181 320.1,179.9 321.7,179.4" fill="none" stroke="#000" stroke-width="0.7"/>
<path d="M317.7,178.8 319.2,178.2 321,177.5" fill="none" stroke="#000" stroke-width="0.7"/>
<path d="M316.5,176.4 317.3,175.7 318.1,175.6" fill="none" stroke="#000" stroke-width="0.7"/>
<path d="M314.8,175 315.1,174 314.9,173.6" fill="none" stroke="#000" stroke-width="0.7"/>
<path d="M312.9,173.6 313.3,171.6 313.8,170.4" fill="none" stroke="#000" stroke-width="0.7"/>
<path d="M311,172.2 312.7,171 314.1,170.1" fill="none" stroke="#000" stroke-width="0.7"/>
<path d="M309.5,171 309.9,169.6 310.5,168.2" fill="none" stroke="#000" stroke-width="0.7"/>
<path d="M308.3,170 310.1,169.1 311.9,168.8" fill="none" stroke="#000" stroke-width="0.7"/>
<path d="M307,168.3 307.6,168 308.1,167.5" fill="none" stroke="#000" stroke-width="0.7"/>
<path d="M305.9,166.9 307,166.5 308.4,166.3" fill="none" stroke="#000" stroke-width="0.7"/>
<path d="M304,167.1 303.8,165.8 304,165.1" fill="none" stroke="#000" stroke-width="0.7"/>
<path d="M302.5,168.1 301.5,167.2 300.9,166.5" fill="none" stroke="#000" stroke-width="0.7"/>
<path d="M300.6,169.1 299.9,167.2 299.6,165.6" fill="none" stroke="#000" stroke-width="0.7"/>
<path d="M299.3,169.7 299.1,168.9 299.3,168.6" fill="none" stroke="#000" stroke-width="0.7"/>
<path d="M296.9,169.9 296.6,169.4 296.7,168.6" fill="none" stroke="#000" stroke-width="0.7"/>
<path d="M294.7,169.5 294.6,168.5 294.1,168.1" fill="none" stroke="#000" stroke-width="0.7"/>
<path d="M292.4,168.9 293.2,167.4 293.9,166.3" fill="none" stroke="#000" stroke-width="0.7"/>
<path d="M290.9,168.2 290.7,166.6 290.6,165.4" fill="none" stroke="#000" stroke-width="0.7"/>
<path d="M289.2,167.6 290.2,165.9 290.9,164.4" fill="none" stroke="#000" stroke-width="0.7"/>
<path d="M288.1,167.1 289.8,166.3 291,165.5" fill="none" stroke="#000" stroke-width="0.7"/>
<path d="M286,165.8 286.2,163.7 286.8,162.2" fill="none" stroke="#000" stroke-width="0.7"/>
<path d="M284.9,165.2 284.6,164.2 284.8,163.5" fill="none" stroke="#000" stroke-width="0.7"/>
<path d="M283.9,164.5 285.1,163.6 285.9,163.3" fill="none" stroke="#000" stroke-width="0.7"/>
<path d="M282.3,162.8 283.2,162.7 283.7,162.5" fill="none" stroke="#000" stroke-width="0.7"/>
<path d="M281.1,161.3 282.4,159.3 283,158" fill="none" stroke="#000" stroke-width="0.7"/>
<path d="M280.3,160.2 280.8,159.2 280.8,158.7" fill="none" stroke="#000" stroke-width="0.7"/>
<path d="M279.7,158.3 280.7,157.9 281.2,157.4" fill="none" stroke="#000" stroke-width="0.7"/>
<path d="M279.2,156.7 280.1,155.6 281.3,154.5" fill="none" stroke="#000" stroke-width="0.7"/>
<path d="M278.8,154.3 280.7,155.2 281.7,155.5" fill="none" stroke="#000" stroke-width="0.7"/>
<path d="M279.1,152.2 279.8,152.5 280.5,152.5" fill="none" stroke="#000" stroke-width="0.7"/>
<path d="M279.3,150.4 279.7,150.4 280.4,150.1" fill="none" stroke="#000" stroke-width="0.7"/>
<path d="M309.4,181.2 312.4,179.2 315.4,180.2 314.4,184.3 310.8,185.3Z" fill="none" stroke="#000" stroke-width="0.75"/>
<path d="M287.3,194.3 290.3,190.3 293.3,192.3 296.3,196.3 299.4,200.3 302,203.9 298.4,205.3 294.3,204.3 290.3,205.9 287.3,204.3 288.3,199.3Z" fill="none" stroke="#000" stroke-width="0.75"/>
<path d="M293.3,209.3 296.3,208.3 298.4,209.9 295.3,211.5Z" fill="none" stroke="#000" stroke-width="0.75"/>
<path d="M302,211.3 304.4,210.9 304.8,213.9 302.4,214.3Z" fill="none" stroke="#000" stroke-width="0.75"/>
<path d="M307.4,205.3 310,204.3 310.8,206.3 308.4,207.3Z" fill="none" stroke="#000" stroke-width="0.75"/>
<path d="M256.2,172.2 260.2,169.2 265.3,172.2 266.3,177.2 264.3,182.2 260.2,180.2 257.2,177.2Z" fill="none" stroke="#000" stroke-width="0.75"/>
<path d="M303.9,236.3 305.5,235.9 305.9,237.9 304.3,238.3Z" fill="none" stroke="#000" stroke-width="0.75"/>
<path d="M309.2,34.1 316.2,33.1 324.3,33.1 332.3,35.1 340.3,37.1 346.3,41.1 349.3,46.1 347.3,51.2 343.3,55.2 339.3,58.2 334.3,60.2 329.3,64.2 335.3,62.2 339.3,60.2 337.3,65.2 333.3,70.2 329.3,74.6 324.3,79.2 319.2,82.6 315.2,86.3 314.6,92.3 312.6,98.3 309.8,103.3 307.8,109.3 309.2,115.3 306.2,119.4 300.2,120.4 294.2,120 288.1,118.4 283.1,120 285.7,114.3 288.1,109.3 291.2,104.3 292.6,99.3 291.2,94.3 292.6,90.3 289.7,86.3 287.1,81.2 286.5,77.2 291.2,75.8 297.2,74.6 303.2,72.2 309.2,68.6 303.2,69.2 297.2,71.2 291.2,72.6 286.1,73.2 282.5,70.2 279.7,66.2 277.1,61.8 274.5,58.2 277.1,55.2 281.1,52.6 285.7,50.2 288.1,46.5 292.6,44.1 297.2,40.1 303.2,36.5Z" fill="none" stroke="#000" stroke-width="0.75"/>
<path d="M311.8,33.7 311.5,36.5 310.9,38.2" fill="none" stroke="#000" stroke-width="0.7"/>
<path d="M314.8,33.3 317.2,35.9 319.2,37.5" fill="none" stroke="#000" stroke-width="0.7"/>
<path d="M317.7,33.1 319.4,35.7 320.8,38.2" fill="none" stroke="#000" stroke-width="0.7"/>
<path d="M320.4,33.1 321.8,34.8 323.2,36.5" fill="none" stroke="#000" stroke-width="0.7"/>
<path d="M323.9,33.1 325.4,35.5 326.3,37.8" fill="none" stroke="#000" stroke-width="0.7"/>
<path d="M326.7,33.7 327.4,34.6 327.6,35.7" fill="none" stroke="#000" stroke-width="0.7"/>
<path d="M328.6,34.2 326.1,37 324.2,38.7" fill="none" stroke="#000" stroke-width="0.7"/>
<path d="M331.2,34.8 331.9,37.6 332,39.6" fill="none" stroke="#000" stroke-width="0.7"/>
<path d="M334.7,35.7 334.7,38.7 334.9,41.6" fill="none" stroke="#000" stroke-width="0.7"/>
<path d="M336.5,36.1 336.6,36.9 336.6,38.1" fill="none" stroke="#000" stroke-width="0.7"/>
<path d="M339.4,36.9 339.6,38.6 339.4,40.1" fill="none" stroke="#000" stroke-width="0.7"/>
<path d="M341.3,37.8 339.4,39.5 338.3,40.3" fill="none" stroke="#000" stroke-width="0.7"/>
<path d="M342.7,38.7 339.9,40.2 338.1,41.2" fill="none" stroke="#000" stroke-width="0.7"/>
<path d="M344.6,40 344.6,42.2 345,44.3" fill="none" stroke="#000" stroke-width="0.7"/>
<path d="M347.1,42.4 346,42.9 344.6,42.9" fill="none" stroke="#000" stroke-width="0.7"/>
<path d="M348.3,44.4 346.8,45 345.4,46" fill="none" stroke="#000" stroke-width="0.7"/>
<path d="M348.9,47.1 346.7,45.1 345.4,42.9" fill="none" stroke="#000" stroke-width="0.7"/>
<path d="M348.3,48.7 347,47.7 345.5,47.1" fill="none" stroke="#000" stroke-width="0.7"/>
<path d="M346.7,51.8 344.6,50.4 343.1,49.7" fill="none" stroke="#000" stroke-width="0.7"/>
<path d="M345.5,53 345.2,51.7 344.3,51" fill="none" stroke="#000" stroke-width="0.7"/>
<path d="M344.3,54.2 341.9,51.5 340,49.5" fill="none" stroke="#000" stroke-width="0.7"/>
<path d="M342.2,56 340.2,53.4 338.6,51.8" fill="none" stroke="#000" stroke-width="0.7"/>
<path d="M339.4,58.1 339.1,57.1 338.4,56.7" fill="none" stroke="#000" stroke-width="0.7"/>
<path d="M336.9,59.2 336.4,55.6 335.7,53.1" fill="none" stroke="#000" stroke-width="0.7"/>
<path d="M334.6,60.1 334.6,58.8 334.8,57.8" fill="none" stroke="#000" stroke-width="0.7"/>
<path d="M332.3,61.8 332.2,58.7 332.2,56.1" fill="none" stroke="#000" stroke-width="0.7"/>
<path d="M329.9,63.7 328,62.3 326.7,61.5" fill="none" stroke="#000" stroke-width="0.7"/>
<path d="M330.8,63.7 329.8,67 328.8,69.7" fill="none" stroke="#000" stroke-width="0.7"/>
<path d="M333,63 333.8,64.1 334.2,64.6" fill="none" stroke="#000" stroke-width="0.7"/>
<path d="M335.2,62.2 335.1,65.3 334.8,67.6" fill="none" stroke="#000" stroke-width="0.7"/>
<path d="M337.6,61 337.8,62.8 338.2,64.3" fill="none" stroke="#000" stroke-width="0.7"/>
<path d="M338.8,61.4 336.4,61.2 333.9,60.9" fill="none" stroke="#000" stroke-width="0.7"/>
<path d="M337.8,64 336.8,63.7 336.3,63.3" fill="none" stroke="#000" stroke-width="0.7"/>
<path d="M336.6,66.1 334.8,63.7 333,61.9" fill="none" stroke="#000" stroke-width="0.7"/>
<path d="M334.7,68.4 333.5,66 332.6,63.7" fill="none" stroke="#000" stroke-width="0.7"/>
<path d="M332.6,71 332.4,68.3 331.8,66.1" fill="none" stroke="#000" stroke-width="0.7"/>
<path d="M330.8,73 330.6,71.7 329.9,70.7" fill="none" stroke="#000" stroke-width="0.7"/>
<path d="M328.7,75.1 327.4,72.8 326.7,70.5" fill="none" stroke="#000" stroke-width="0.7"/>
<path d="M326.7,77 324.8,75.4 323.1,73.9" fill="none" stroke="#000" stroke-width="0.7"/>
<path d="M324.6,79 321.6,78.5 319.6,78.1" fill="none" stroke="#000" stroke-width="0.7"/>
<path d="M322.2,80.6 321.8,79 321.3,78.1" fill="none" stroke="#000" stroke-width="0.7"/>
<path d="M320.1,82 318.5,81.4 317.6,81.1" fill="none" stroke="#000" stroke-width="0.7"/>
<path d="M318.5,83.2 317.2,82.9 316.1,82.8" fill="none" stroke="#000" stroke-width="0.7"/>
<path d="M316.5,85.1 314.5,83.8 312.5,83.2" fill="none" stroke="#000" stroke-width="0.7"/>
<path d="M315.1,87 313.3,87.2 312.2,87.1" fill="none" stroke="#000" stroke-width="0.7"/>
<path d="M314.9,89.3 313.7,89.1 313.2,88.8" fill="none" stroke="#000" stroke-width="0.7"/>
<path d="M314.7,91.6 313.1,89.9 311.4,88.6" fill="none" stroke="#000" stroke-width="0.7"/>
<path d="M313.8,94.7 311,94.4 309.2,94" fill="none" stroke="#000" stroke-width="0.7"/>
<path d="M312.9,97.3 311.1,94.4 309.5,92.1" fill="none" stroke="#000" stroke-width="0.7"/>
<path d="M311.5,100.3 310.6,100.4 309.9,100.4" fill="none" stroke="#000" stroke-width="0.7"/>
<path d="M310.6,102 309.2,99.7 308.3,97.9" fill="none" stroke="#000" stroke-width="0.7"/>
<path d="M309.6,103.8 308.7,102.7 308,101.3" fill="none" stroke="#000" stroke-width="0.7"/>
<path d="M308.6,107 306.4,107.1 304.1,107.1" fill="none" stroke="#000" stroke-width="0.7"/>
<path d="M307.8,109.3 306.3,108.5 305,108" fill="none" stroke="#000" stroke-width="0.7"/>
<path d="M308.4,111.8 307.2,111.8 306.2,112" fill="none" stroke="#000" stroke-width="0.7"/>
<path d="M309.1,114.9 307.3,117.2 305.7,119.3" fill="none" stroke="#000" stroke-width="0.7"/>
<path d="M307.7,117.4 304.7,116.4 302.5,115.9" fill="none" stroke="#000" stroke-width="0.7"/>
<path d="M305.1,119.6 305,118 305,116.6" fill="none" stroke="#000" stroke-width="0.7"/>
<path d="M302.3,120 300.6,117.8 299,116.1" fill="none" stroke="#000" stroke-width="0.7"/>
<path d="M299.7,120.4 299.3,118.6 299,117.2" fill="none" stroke="#000" stroke-width="0.7"/>
<path d="M297.4,120.2 297.6,117.3 298.4,115.1" fill="none" stroke="#000" stroke-width="0.7"/>
<path d="M294.9,120 296.8,117 298.3,115.1" fill="none" stroke="#000" stroke-width="0.7"/>
<path d="M291.8,119.4 292.6,117.6 293.1,115.9" fill="none" stroke="#000" stroke-width="0.7"/>
<path d="M289.3,118.7 289.5,115.6 289.9,112.8" fill="none" stroke="#000" stroke-width="0.7"/>
<path d="M287.4,118.6 287.4,117.2 287.8,115.6" fill="none" stroke="#000" stroke-width="0.7"/>
<path d="M284.5,119.5 283.5,118.1 282.4,116.5" fill="none" stroke="#000" stroke-width="0.7"/>
<path d="M283.2,119.7 285.1,120.6 286.7,121.5" fill="none" stroke="#000" stroke-width="0.7"/>
<path d="M284,118 285.3,119.6 286.9,121.3" fill="none" stroke="#000" stroke-width="0.7"/>
<path d="M285.4,115 287.5,116.9 289.7,118.3" fill="none" stroke="#000" stroke-width="0.7"/>
<path d="M286.8,112 289.2,114.5 291.6,116.2" fill="none" stroke="#000" stroke-width="0.7"/>
<path d="M287.7,110.1 289,112.2 289.9,114.3" fill="none" stroke="#000" stroke-width="0.7"/>
<path d="M288.8,108.2 292.1,108.4 294.7,108.6" fill="none" stroke="#000" stroke-width="0.7"/>
<path d="M289.8,106.6 292,106.4 294.3,106.3" fill="none" stroke="#000" stroke-width="0.7"/>
<path d="M290.7,105.2 291.6,106 292.1,106.3" fill="none" stroke="#000" stroke-width="0.7"/>
<path d="M291.4,103.5 293.5,103.6 295.1,103.6" fill="none" stroke="#000" stroke-width="0.7"/>
<path d="M292.4,100.1 294.2,99.3 295.6,99" fill="none" stroke="#000" stroke-width="0.7"/>
<path d="M292.1,97.4 294.2,98.1 295.9,98.6" fill="none" stroke="#000" stroke-width="0.7"/>
<path d="M291.5,95.4 293.6,94 295,92.9" fill="none" stroke="#000" stroke-width="0.7"/>
<path d="M291.4,93.6 293.1,93.6 294.1,94" fill="none" stroke="#000" stroke-width="0.7"/>
<path d="M292.5,90.7 295.1,89.8 297.1,89.6" fill="none" stroke="#000" stroke-width="0.7"/>
<path d="M291.8,89.2 293.4,87.1 294.2,85.5" fill="none" stroke="#000" stroke-width="0.7"/>
<path d="M290.5,87.4 291.5,84.3 292,82.2" fill="none" stroke="#000" stroke-width="0.7"/>
<path d="M289.5,85.8 292.6,84.9 295.5,84.5" fill="none" stroke="#000" stroke-width="0.7"/>
<path d="M287.8,82.6 290.2,82.6 292.6,82.5" fill="none" stroke="#000" stroke-width="0.7"/>
<path d="M287,80.5 288.5,79.9 289.5,79.5" fill="none" stroke="#000" stroke-width="0.7"/>
<path d="M286.6,78.2 287.9,78.7 288.8,78.9" fill="none" stroke="#000" stroke-width="0.7"/>
<path d="M287.9,76.8 288.8,79.8 289.4,82.3" fill="none" stroke="#000" stroke-width="0.7"/>
<path d="M290.9,75.9 292.1,77 293.5,78.2" fill="none" stroke="#000" stroke-width="0.7"/>
<path d="M292.5,75.5 293.4,78.4 293.8,81.3" fill="none" stroke="#000" stroke-width="0.7"/>
<path d="M295,75 295,78.3 295.1,80.9" fill="none" stroke="#000" stroke-width="0.7"/>
<path d="M296.7,74.7 297.4,75.6 298.2,76.5" fill="none" stroke="#000" stroke-width="0.7"/>
<path d="M299.6,73.6 300.3,74.4 301.2,75.4" fill="none" stroke="#000" stroke-width="0.7"/>
<path d="M301.6,72.8 301.9,74.5 302.7,75.3" fill="none" stroke="#000" stroke-width="0.7"/>
<path d="M303.7,71.9 304.8,75.1 305.4,77.7" fill="none" stroke="#000" stroke-width="0.7"/>
<path d="M306.8,70.1 307,71.3 307.4,72.1" fill="none" stroke="#000" stroke-width="0.7"/>
<path d="M309,68.6 308,67.3 307.8,66.6" fill="none" stroke="#000" stroke-width="0.7"/>
<path d="M307.3,68.8 308.2,67 309.1,65.8" fill="none" stroke="#000" stroke-width="0.7"/>
<path d="M304.7,69 305.2,67.3 305.4,66.2" fill="none" stroke="#000" stroke-width="0.7"/>
<path d="M302.7,69.4 303.6,66.8 304.1,64.7" fill="none" stroke="#000" stroke-width="0.7"/>
<path d="M299.3,70.5 298.8,69.9 298,69.5" fill="none" stroke="#000" stroke-width="0.7"/>
<path d="M297.7,71 298.6,68.8 299.2,67.1" fill="none" stroke="#000" stroke-width="0.7"/>
<path d="M296,71.5 296.4,70.7 296.7,69.6" fill="none" stroke="#000" stroke-width="0.7"/>
<path d="M294.4,71.8 293.2,70.6 292.3,70" fill="none" stroke="#000" stroke-width="0.7"/>
<path d="M292.4,72.3 291.2,70.3 290.7,69.2" fill="none" stroke="#000" stroke-width="0.7"/>
<path d="M288.8,72.9 288.6,71.5 288.6,70.4" fill="none" stroke="#000" stroke-width="0.7"/>
<path d="M287.1,73.1 286.1,72 285.2,70.6" fill="none" stroke="#000" stroke-width="0.7"/>
<path d="M284.7,72.1 285.4,69.1 286.4,66.6" fill="none" stroke="#000" stroke-width="0.7"/>
<path d="M282.8,70.4 284,68.5 284.9,66.7" fill="none" stroke="#000" stroke-width="0.7"/>
<path d="M281,68.1 282.5,66.8 283.4,66.1" fill="none" stroke="#000" stroke-width="0.7"/>
<path d="M280,66.6 280.8,65.2 281.1,63.7" fill="none" stroke="#000" stroke-width="0.7"/>
<path d="M278.8,64.7 279.2,63.4 279.8,62.7" fill="none" stroke="#000" stroke-width="0.7"/>
<path d="M277.6,62.6 278.8,60.9 280.3,59.2" fill="none" stroke="#000" stroke-width="0.7"/>
<path d="M276.7,61.2 277.4,59.8 278.2,59.2" fill="none" stroke="#000" stroke-width="0.7"/>
<path d="M275.2,59.2 276.9,59 278.2,58.4" fill="none" stroke="#000" stroke-width="0.7"/>
<path d="M275.6,57 277.5,59.3 279.2,60.8" fill="none" stroke="#000" stroke-width="0.7"/>
<path d="M277.6,54.9 278.6,58 279.2,60.9" fill="none" stroke="#000" stroke-width="0.7"/>
<path d="M280.3,53.1 281.7,53.8 283.4,54.7" fill="none" stroke="#000" stroke-width="0.7"/>
<path d="M282.1,52.1 283.8,54.1 285.6,55.5" fill="none" stroke="#000" stroke-width="0.7"/>
<path d="M284.6,50.8 285.2,51.1 286.1,51.6" fill="none" stroke="#000" stroke-width="0.7"/>
<path d="M286.8,48.5 289.2,50.7 291.4,52.6" fill="none" stroke="#000" stroke-width="0.7"/>
<path d="M288.1,46.5 289.9,46.5 291.2,46.2" fill="none" stroke="#000" stroke-width="0.7"/>
<path d="M290.4,45.3 290.7,46.4 291.3,47.1" fill="none" stroke="#000" stroke-width="0.7"/>
<path d="M292.6,44.1 292.6,47.3 293.1,50.2" fill="none" stroke="#000" stroke-width="0.7"/>
<path d="M294.6,42.4 296,44 297.3,45" fill="none" stroke="#000" stroke-width="0.7"/>
<path d="M297.2,40.1 297,42.1 296.7,44.2" fill="none" stroke="#000" stroke-width="0.7"/>
<path d="M300,38.4 302.1,38.9 303.3,39.8" fill="none" stroke="#000" stroke-width="0.7"/>
<path d="M302.4,37 302.3,39 302.4,40.9" fill="none" stroke="#000" stroke-width="0.7"/>
<path d="M304.3,36.1 304.6,37.6 305,38.5" fill="none" stroke="#000" stroke-width="0.7"/>
<path d="M306.2,35.3 307.7,36.8 308.4,37.7" fill="none" stroke="#000" stroke-width="0.7"/>
<path d="M200.2,262.8 199,267 197.5,268.8 196.6,272.4 196.3,277 196,290 199.1,296 203.1,302 206.1,307.1 211.1,309.1 215.1,310.7 221.1,312.1 227.1,314.5 234.2,314.5 237.2,313.1 241.2,315.7 245.2,319.1 249.2,320.1 252.2,323.1 256.2,327.1 260.2,327.1 262.2,323.1 266.3,320.5 271.3,319.1 276.3,318.1 280.3,319.1 283.3,317.1 288.3,317.7 293.3,319.1 296.3,323.1 298.4,327.1 301.4,329.1 302.4,325.1 300.4,319.1 299.4,314.1 302.4,310.1 306.4,306 310.4,301 313.4,296 317.4,290 316.6,289.9 319,288.1 321.4,286.9 323.8,285.7 325.6,283.9 326.8,281.5 328.6,279.7 330.4,277.9 332.2,276.7 332.8,275.5 332.2,272.5 331.6,269.5 329.2,268.6 326.8,269.5 325,271.5 323.8,273.9 320.2,275.1 315.4,276.7 312.4,279.1 305.5,280.9 303.9,282.4 296.1,286.3 299.1,281.5 298.5,276.1 292.5,273.1 290.1,268.3 284.1,267.1 278.1,268.3 275,266.2 271.4,264.3 267.2,262.7 260,262.7Z" fill="none" stroke="#000" stroke-width="0.75"/>
<path d="M221.1,312.1 227.1,314.5 234.2,314.5 237.2,313.1 241.2,315.7 245.2,319.1 249.2,320.1 252.2,323.1 256.2,327.1 260.2,327.1 261.2,331.1 260.2,335.1 262.2,340.2 265.3,343.8 269.3,345.8 274.3,344.6 277.3,340.2 280.3,338.5 285.9,338.1 285.3,341.8 283.3,345.2 281.3,348.2 278.3,348.2 277.3,350.2 274.3,351.2 272.7,353.8 268.3,351.2 263.2,350.2 258.2,349.2 252.2,347.2 247.2,344.2 242.6,341.2 241.2,337.1 238.2,332.1 234.2,327.1 230.2,322.1 226.1,317.7 222.5,313.7Z" fill="none" stroke="#000" stroke-width="0.75"/>
<path d="M215.1,310.7 221.1,312.1 220.1,313.7 222.5,318.1 225.1,322.1 228.1,327.1 230.6,331.7 231.4,334.5 229.1,333.1 226.5,329.1 223.1,324.1 219.7,320.1 218.5,323.1 217.1,318.1 216.1,314.1Z" fill="none" stroke="#000" stroke-width="0.75"/>
<path d="M274.3,351.2 277.3,350.2 278.3,348.2 281.3,348.2 281.3,350.2 282.3,352.2 279.9,354.6 276.3,355.8 273.3,354.2Z" fill="none" stroke="#000" stroke-width="0.75"/>
<path d="M281.3,348.2 283.3,345.2 284.3,348.2 282.7,351.8 281.5,350.2Z" fill="none" stroke="#000" stroke-width="0.75"/>
<path d="M282.3,352.2 286.3,351.2 291.3,351.8 295.3,352.6 293.3,355.2 290.3,356.2 287.3,358.2 285.3,357.2 283.3,355.8 280.3,354.6Z" fill="none" stroke="#000" stroke-width="0.75"/>
<path d="M276.3,355.8 279.9,354.6 283.3,355.8 284.7,357.8 281.3,358.2Z" fill="none" stroke="#000" stroke-width="0.75"/>
<path d="M285.3,357.2 287.3,358.2 290.3,356.2 293.3,355.2 295.3,352.6 294.7,357.2 293.9,362.2 292.3,364.6 289.3,363.2 287.3,360.2Z" fill="none" stroke="#000" stroke-width="0.75"/>
<path d="M289.3,363.2 292.3,364.6 294.7,367.2 297.4,368.6 296.3,370.2 293.3,368.6 290.7,366.6Z" fill="none" stroke="#000" stroke-width="0.75"/>
<path d="M297.4,368.6 300.4,367.2 304.4,366.2 308.4,367.2 310,370.2 307.4,369.2 304.4,368.6 302,370.6 299.4,370.2 296.3,370.2Z" fill="none" stroke="#000" stroke-width="0.75"/>
<path d="M291.3,337.7 295.3,335.1 300.4,335.1 305.4,336.5 310.4,339.1 315.4,341.8 318.4,343.2 313.4,343.2 308.4,341.2 303.4,339.1 298.4,338.1 294.3,339.1Z" fill="none" stroke="#000" stroke-width="0.75"/>
<path d="M318.4,343.8 322.4,342.2 327.4,342.6 330.5,344.6 327.4,346.2 323.4,346.2 320.4,346.6Z" fill="none" stroke="#000" stroke-width="0.75"/>
<path d="M307.4,346.2 310.4,345.4 312,346.8 309.4,347.8Z" fill="none" stroke="#000" stroke-width="0.75"/>
<path d="M334.1,345.6 337.5,345.4 337.7,347 334.5,347.2Z" fill="none" stroke="#000" stroke-width="0.75"/>
<path d="M306.4,326.1 308.4,326.7" fill="none" stroke="#000" stroke-width="0.75"/>
<path d="M307.6,329.7 308.8,332.1" fill="none" stroke="#000" stroke-width="0.75"/>
<path d="M311.4,330.1 314,332.5" fill="none" stroke="#000" stroke-width="0.75"/>
<path d="M314.8,334.5 316.8,336.5" fill="none" stroke="#000" stroke-width="0.75"/>
<path d="M318,337.7 319.2,339.3" fill="none" stroke="#000" stroke-width="0.75"/>
<path d="M276.9,388.3 278.7,389.1 281.3,388.9" fill="none" stroke="#000" stroke-width="1.2"/>
<path d="M323.6,95 329.5,90.2 337.8,87.8 342.6,81.9 343.7,76 337.8,73.6 341.4,67.7 346.1,62.9 352,57 358,51 367.5,46.3 375.8,43.9 384.1,40.4 388.8,34.4 396,30.9 404.3,27.3 411.4,23.7 419.7,21.8 428,22.6 435.1,24.9 438.7,29.7 442.3,34.4 448.2,39.2 449.4,42.7 444.6,46.3 452.9,48.7 458.9,52.2 466,52.7 470.7,57 468.4,62.2 463.6,66.5 458.9,70 452.9,71.2 456.5,76 457.7,81.9 452.9,83.1 451,89 450.1,95 452.9,99.7 451.8,106.8 454.1,113.9 452.9,121.1 452.9,120 456.5,124.7 455.3,130.7 449.4,133.1 447,137.8 444.6,142.6 438.7,141.4 432.8,143.7 431.1,148.5 433.5,153.2 429.2,158 429.7,166.3 436.3,167.5 443.4,166.3 446.3,162.7 445.3,167.5 439.9,171.8 433.9,174.6 426.8,177.4 420.9,179.3 416.9,184.1 411.4,188.8 405,191.2 400.7,197.2 397.2,204.3 394.1,211.4 392.4,217.3 390,221.6 384.1,217.3 379.3,212.6 377,205.5 374.6,198.3 372.2,191.2 369.9,184.1 371,177 373.4,171 374.6,165.1 372.2,159.2 368.7,153.2 365.1,147.3 362.7,139 360.4,131.9 356.8,123.6 352,120 356.8,123.4 350.9,118.7 343.7,117.5 335.4,118.7 330.7,115.1 334.2,111.6 339,106.8 334.2,104.5 327.1,104.5 322.8,99.7Z" fill="none" stroke="#000" stroke-width="0.75"/>
<path d="M348.2,60.8 349.4,62.3 350.5,63.3" fill="none" stroke="#000" stroke-width="0.7"/>
<path d="M350.6,58.4 352.1,58.4 352.9,58.7" fill="none" stroke="#000" stroke-width="0.7"/>
<path d="M352.2,56.8 355.7,59.7 358.1,62.2" fill="none" stroke="#000" stroke-width="0.7"/>
<path d="M354.6,54.4 355.7,55.8 356.2,56.8" fill="none" stroke="#000" stroke-width="0.7"/>
<path d="M357.1,51.9 360.5,52.5 363.1,52.9" fill="none" stroke="#000" stroke-width="0.7"/>
<path d="M359.1,50.4 359.1,51.8 359,52.6" fill="none" stroke="#000" stroke-width="0.7"/>
<path d="M362.6,48.7 362.1,52.3 361.8,54.9" fill="none" stroke="#000" stroke-width="0.7"/>
<path d="M365.2,47.4 364.7,51.4 364.7,55" fill="none" stroke="#000" stroke-width="0.7"/>
<path d="M367.3,46.4 369.6,49.9 371.4,53.1" fill="none" stroke="#000" stroke-width="0.7"/>
<path d="M370.2,45.5 371.3,47.7 372.2,49.3" fill="none" stroke="#000" stroke-width="0.7"/>
<path d="M374,44.4 373.2,47.9 372.1,50.2" fill="none" stroke="#000" stroke-width="0.7"/>
<path d="M377.2,43.3 377.3,45.2 376.9,46.3" fill="none" stroke="#000" stroke-width="0.7"/>
<path d="M380.1,42.1 382.8,44.5 384.6,46.4" fill="none" stroke="#000" stroke-width="0.7"/>
<path d="M382.4,41.1 382.6,42.2 382.2,43.5" fill="none" stroke="#000" stroke-width="0.7"/>
<path d="M385.3,38.9 387.6,39.5 389.7,39.7" fill="none" stroke="#000" stroke-width="0.7"/>
<path d="M387.7,35.8 388.2,36.9 389.2,37.5" fill="none" stroke="#000" stroke-width="0.7"/>
<path d="M389.5,34.1 388.6,38.3 387.9,41.2" fill="none" stroke="#000" stroke-width="0.7"/>
<path d="M391.8,33 391.9,34.1 392.5,35.3" fill="none" stroke="#000" stroke-width="0.7"/>
<path d="M394.3,31.7 396.5,33.8 398.8,35.1" fill="none" stroke="#000" stroke-width="0.7"/>
<path d="M396.6,30.7 395.9,34.8 395.4,38.3" fill="none" stroke="#000" stroke-width="0.7"/>
<path d="M399.4,29.4 400.3,32.6 401,35.1" fill="none" stroke="#000" stroke-width="0.7"/>
<path d="M403.1,27.8 404.6,30.1 405.5,32.2" fill="none" stroke="#000" stroke-width="0.7"/>
<path d="M405.4,26.8 407.2,30.4 408.7,33.9" fill="none" stroke="#000" stroke-width="0.7"/>
<path d="M407.9,25.5 410.7,26.8 412.9,27.8" fill="none" stroke="#000" stroke-width="0.7"/>
<path d="M409.6,24.6 411.3,27.3 412.5,29.6" fill="none" stroke="#000" stroke-width="0.7"/>
<path d="M412.8,23.4 415.3,25.7 417.9,27.4" fill="none" stroke="#000" stroke-width="0.7"/>
<path d="M416.9,22.5 417.5,24.2 417.8,25.8" fill="none" stroke="#000" stroke-width="0.7"/>
<path d="M419.5,21.9 420.4,23.7 421,25.4" fill="none" stroke="#000" stroke-width="0.7"/>
<path d="M422.2,22 424.1,25.3 425.7,27.6" fill="none" stroke="#000" stroke-width="0.7"/>
<path d="M424.7,22.3 423.6,23.7 423,25.2" fill="none" stroke="#000" stroke-width="0.7"/>
<path d="M427.5,22.6 428.9,25.5 430.3,28.1" fill="none" stroke="#000" stroke-width="0.7"/>
<path d="M430.9,23.5 428.8,25.2 427.5,26.7" fill="none" stroke="#000" stroke-width="0.7"/>
<path d="M434.1,24.6 432.9,28.2 432.3,31.7" fill="none" stroke="#000" stroke-width="0.7"/>
<path d="M436.3,26.5 434.8,26.7 433.2,27.1" fill="none" stroke="#000" stroke-width="0.7"/>
<path d="M437.8,28.4 434.5,30 431.6,31.4" fill="none" stroke="#000" stroke-width="0.7"/>
<path d="M439,30.1 436.9,30.5 435.4,31" fill="none" stroke="#000" stroke-width="0.7"/>
<path d="M440.7,32.4 439.2,33.9 437.5,35.5" fill="none" stroke="#000" stroke-width="0.7"/>
<path d="M441.8,33.8 437.9,34.3 434.2,34.7" fill="none" stroke="#000" stroke-width="0.7"/>
<path d="M444.6,36.3 443.6,40.5 442.4,43.5" fill="none" stroke="#000" stroke-width="0.7"/>
<path d="M447.3,38.4 446.1,40.9 445.3,43.2" fill="none" stroke="#000" stroke-width="0.7"/>
<path d="M325.3,93.6 325.8,94.7 326,95.2" fill="none" stroke="#000" stroke-width="0.7"/>
<path d="M326.6,92.6 327.3,93.1 328.1,93.2" fill="none" stroke="#000" stroke-width="0.7"/>
<path d="M327.8,91.6 328.9,92.2 330.1,92.8" fill="none" stroke="#000" stroke-width="0.7"/>
<path d="M330.1,90 331.2,90.7 332.4,91.7" fill="none" stroke="#000" stroke-width="0.7"/>
<path d="M332.8,89.2 332.7,91.3 332.3,92.6" fill="none" stroke="#000" stroke-width="0.7"/>
<path d="M335.7,88.4 337,89.9 337.6,91.2" fill="none" stroke="#000" stroke-width="0.7"/>
<path d="M338.1,87.5 339.2,88.2 340.3,88.9" fill="none" stroke="#000" stroke-width="0.7"/>
<path d="M339.3,86 339.8,87 339.8,87.2" fill="none" stroke="#000" stroke-width="0.7"/>
<path d="M340.9,84 341.4,85.4 342.2,86.3" fill="none" stroke="#000" stroke-width="0.7"/>
<path d="M342.2,82.4 343,82.5 343.7,82.8" fill="none" stroke="#000" stroke-width="0.7"/>
<path d="M342.9,80.5 344.2,80.5 345.7,80.6" fill="none" stroke="#000" stroke-width="0.7"/>
<path d="M343.2,78.8 344,78.3 344.8,78.3" fill="none" stroke="#000" stroke-width="0.7"/>
<path d="M343.6,76.3 345.9,76.6 347.5,76.4" fill="none" stroke="#000" stroke-width="0.7"/>
<path d="M342.7,75.6 343.5,75.1 343.8,74.6" fill="none" stroke="#000" stroke-width="0.7"/>
<path d="M341.2,75 342.4,74.4 343,73.6" fill="none" stroke="#000" stroke-width="0.7"/>
<path d="M339.7,74.4 340.2,72.2 340.4,70.9" fill="none" stroke="#000" stroke-width="0.7"/>
<path d="M338.3,72.7 339.2,74 340.2,74.9" fill="none" stroke="#000" stroke-width="0.7"/>
<path d="M339.5,70.7 341.1,71.2 342.1,71.7" fill="none" stroke="#000" stroke-width="0.7"/>
<path d="M340.5,69.2 340.8,69.6 341.5,70.3" fill="none" stroke="#000" stroke-width="0.7"/>
<path d="M341.3,67.9 342.6,68.6 343.6,69.7" fill="none" stroke="#000" stroke-width="0.7"/>
<path d="M342.7,66.4 343.5,66.9 344.7,66.8" fill="none" stroke="#000" stroke-width="0.7"/>
<path d="M343.7,65.3 344.7,65.5 345.5,66.1" fill="none" stroke="#000" stroke-width="0.7"/>
<path d="M345.2,63.8 345.3,64.8 345.9,65.8" fill="none" stroke="#000" stroke-width="0.7"/>
<path d="M448.9,41.3 448.1,41.6 447.3,41.4" fill="none" stroke="#000" stroke-width="0.7"/>
<path d="M449.2,42.9 448.9,41.7 448.5,40.9" fill="none" stroke="#000" stroke-width="0.7"/>
<path d="M447.1,44.4 446.5,42.8 446.5,41.8" fill="none" stroke="#000" stroke-width="0.7"/>
<path d="M444.8,46.1 443.9,45.5 442.8,44.7" fill="none" stroke="#000" stroke-width="0.7"/>
<path d="M445.9,46.7 444.8,48.3 444.3,49.4" fill="none" stroke="#000" stroke-width="0.7"/>
<path d="M447.3,47.1 447.6,48.6 448.1,49.4" fill="none" stroke="#000" stroke-width="0.7"/>
<path d="M449.3,47.7 448.8,50.4 448.4,52.3" fill="none" stroke="#000" stroke-width="0.7"/>
<path d="M451.7,48.4 451.4,49 451.1,49.8" fill="none" stroke="#000" stroke-width="0.7"/>
<path d="M453.1,48.8 451.7,50.8 450.9,52.5" fill="none" stroke="#000" stroke-width="0.7"/>
<path d="M454.6,49.7 453.2,51.8 452.5,53.2" fill="none" stroke="#000" stroke-width="0.7"/>
<path d="M455.9,50.4 456.2,51.4 456.2,52.6" fill="none" stroke="#000" stroke-width="0.7"/>
<path d="M457.8,51.6 457.5,52.3 457.1,52.9" fill="none" stroke="#000" stroke-width="0.7"/>
<path d="M459.8,52.3 459.8,53.6 459.8,55.2" fill="none" stroke="#000" stroke-width="0.7"/>
<path d="M461.9,52.4 461.5,53.1 460.8,54.1" fill="none" stroke="#000" stroke-width="0.7"/>
<path d="M463.5,52.5 462.8,54.7 462.8,56.2" fill="none" stroke="#000" stroke-width="0.7"/>
<path d="M466.3,53 465.6,54.6 465,55.4" fill="none" stroke="#000" stroke-width="0.7"/>
<path d="M467.6,54.2 467.3,55.4 467,56.4" fill="none" stroke="#000" stroke-width="0.7"/>
<path d="M469,55.4 468.7,57.1 468.7,58" fill="none" stroke="#000" stroke-width="0.7"/>
<path d="M470.7,57 469.4,57.1 468.5,57.5" fill="none" stroke="#000" stroke-width="0.7"/>
<path d="M470.1,58.2 469,58.5 468.4,58.3" fill="none" stroke="#000" stroke-width="0.7"/>
<path d="M469.4,59.9 468.7,59.1 467.7,58.8" fill="none" stroke="#000" stroke-width="0.7"/>
<path d="M468.3,62.3 467.5,61.4 466.8,60.3" fill="none" stroke="#000" stroke-width="0.7"/>
<path d="M466.3,64.1 465.8,62.4 465.6,61.1" fill="none" stroke="#000" stroke-width="0.7"/>
<path d="M464.1,66.1 463.4,64.7 463,63.1" fill="none" stroke="#000" stroke-width="0.7"/>
<path d="M462.2,67.5 462.1,66.3 462.1,65.5" fill="none" stroke="#000" stroke-width="0.7"/>
<path d="M460.8,68.6 460.1,68 459.4,67.8" fill="none" stroke="#000" stroke-width="0.7"/>
<path d="M459.4,69.7 458.4,68.5 457.8,67.3" fill="none" stroke="#000" stroke-width="0.7"/>
<path d="M457.7,70.2 457.1,68.7 457,67.8" fill="none" stroke="#000" stroke-width="0.7"/>
<path d="M456.2,70.5 454.9,68.8 453.7,67.6" fill="none" stroke="#000" stroke-width="0.7"/>
<path d="M453.8,71 453.2,69.3 452.4,67.8" fill="none" stroke="#000" stroke-width="0.7"/>
<path d="M453.8,72.4 453.4,73.1 453.2,74.1" fill="none" stroke="#000" stroke-width="0.7"/>
<path d="M454.4,73.2 453.3,73.4 452.1,73.3" fill="none" stroke="#000" stroke-width="0.7"/>
<path d="M455.1,74.1 454,75.1 453.5,76.3" fill="none" stroke="#000" stroke-width="0.7"/>
<path d="M455.8,75 453.8,75.6 451.9,75.8" fill="none" stroke="#000" stroke-width="0.7"/>
<path d="M456.5,75.9 455.6,76.7 454.7,76.8" fill="none" stroke="#000" stroke-width="0.7"/>
<path d="M456.8,77.5 456.2,77.5 455.5,77.5" fill="none" stroke="#000" stroke-width="0.7"/>
<path d="M457,78.6 456.3,79.7 455.2,80.3" fill="none" stroke="#000" stroke-width="0.7"/>
<path d="M457.3,80.1 456.4,79.9 455.5,79.4" fill="none" stroke="#000" stroke-width="0.7"/>
<path d="M457.6,81.9 457.2,80.5 456.7,79.5" fill="none" stroke="#000" stroke-width="0.7"/>
<path d="M456.6,82.2 456.5,80.8 457,80.2" fill="none" stroke="#000" stroke-width="0.7"/>
<path d="M455,82.6 454.7,81.5 454.6,80.7" fill="none" stroke="#000" stroke-width="0.7"/>
<path d="M452.9,83.1 452.4,82.3 452.3,81.6" fill="none" stroke="#000" stroke-width="0.7"/>
<path d="M452.5,84.2 451.5,83.5 450.8,82.9" fill="none" stroke="#000" stroke-width="0.7"/>
<path d="M451.9,86.1 451.1,86.5 450.6,86.5" fill="none" stroke="#000" stroke-width="0.7"/>
<path d="M451.4,87.7 450.3,87.6 449.6,87.6" fill="none" stroke="#000" stroke-width="0.7"/>
<path d="M451.1,88.6 450.3,87.4 449,86.1" fill="none" stroke="#000" stroke-width="0.7"/>
<path d="M450.8,90.5 450.5,90.7 449.7,90.6" fill="none" stroke="#000" stroke-width="0.7"/>
<path d="M450.6,91.9 448.7,91.1 446.8,90.6" fill="none" stroke="#000" stroke-width="0.7"/>
<path d="M450.4,93 449.1,93.7 448.1,93.8" fill="none" stroke="#000" stroke-width="0.7"/>
<path d="M450.2,94.3 449.5,94.7 449.3,94.8" fill="none" stroke="#000" stroke-width="0.7"/>
<path d="M450.4,95.5 450.2,96.4 449.5,97.2" fill="none" stroke="#000" stroke-width="0.7"/>
<path d="M451,96.5 450.5,97.2 450.5,97.6" fill="none" stroke="#000" stroke-width="0.7"/>
<path d="M451.5,97.4 450.8,98.1 450.5,98" fill="none" stroke="#000" stroke-width="0.7"/>
<path d="M452.1,98.3 450.6,98.8 449.4,98.7" fill="none" stroke="#000" stroke-width="0.7"/>
<path d="M452.8,99.6 451.8,100.1 451.4,100.7" fill="none" stroke="#000" stroke-width="0.7"/>
<path d="M452.7,100.8 451,99.3 449.6,98.5" fill="none" stroke="#000" stroke-width="0.7"/>
<path d="M452.6,101.9 451.4,102.4 450.8,102.4" fill="none" stroke="#000" stroke-width="0.7"/>
<path d="M452.4,103 451.9,102.8 451.5,102.2" fill="none" stroke="#000" stroke-width="0.7"/>
<path d="M452.2,104.4 450.4,103.8 448.6,103" fill="none" stroke="#000" stroke-width="0.7"/>
<path d="M451.9,105.8 451.5,106.3 450.7,106.2" fill="none" stroke="#000" stroke-width="0.7"/>
<path d="M452.1,107.8 451.2,108 450,108" fill="none" stroke="#000" stroke-width="0.7"/>
<path d="M452.7,109.6 451.3,109.6 450,109.8" fill="none" stroke="#000" stroke-width="0.7"/>
<path d="M453.3,111.5 452.2,113.5 450.8,114.7" fill="none" stroke="#000" stroke-width="0.7"/>
<path d="M453.8,113.1 453,113.2 452.7,112.8" fill="none" stroke="#000" stroke-width="0.7"/>
<path d="M454,114.8 453.4,115 452.8,115.1" fill="none" stroke="#000" stroke-width="0.7"/>
<path d="M453.7,116.5 451.3,117.3 449.8,117.4" fill="none" stroke="#000" stroke-width="0.7"/>
<path d="M453.5,117.4 451.8,118.4 450,118.8" fill="none" stroke="#000" stroke-width="0.7"/>
<path d="M453.2,119.4 451.8,118.5 451.1,117.6" fill="none" stroke="#000" stroke-width="0.7"/>
<path d="M453,120.6 451.2,119.6 449.7,118.6" fill="none" stroke="#000" stroke-width="0.7"/>
<path d="M452.9,120.6 453.5,120.9 454,120.8" fill="none" stroke="#000" stroke-width="0.7"/>
<path d="M453.5,120.8 453.1,121.4 452.5,121.9" fill="none" stroke="#000" stroke-width="0.7"/>
<path d="M454.1,121.5 451.8,121.9 450.5,122.2" fill="none" stroke="#000" stroke-width="0.7"/>
<path d="M454.9,122.6 453.6,124.1 452.8,125.4" fill="none" stroke="#000" stroke-width="0.7"/>
<path d="M456.1,124.2 455.9,125.1 455.6,125.5" fill="none" stroke="#000" stroke-width="0.7"/>
<path d="M456.3,125.6 455.5,124.5 454.5,124.1" fill="none" stroke="#000" stroke-width="0.7"/>
<path d="M455.9,127.5 455.2,127.5 454.3,127.6" fill="none" stroke="#000" stroke-width="0.7"/>
<path d="M455.6,129.3 454.7,128.6 454.4,128.3" fill="none" stroke="#000" stroke-width="0.7"/>
<path d="M455.2,130.7 455.1,129.8 454.5,128.8" fill="none" stroke="#000" stroke-width="0.7"/>
<path d="M454.4,131.1 454,130.2 453.7,129.2" fill="none" stroke="#000" stroke-width="0.7"/>
<path d="M453,131.6 452.7,131 452.1,130.7" fill="none" stroke="#000" stroke-width="0.7"/>
<path d="M451.3,132.3 450.9,130.2 450.5,128.3" fill="none" stroke="#000" stroke-width="0.7"/>
<path d="M450.1,132.8 449.5,130.7 448.5,129.3" fill="none" stroke="#000" stroke-width="0.7"/>
<path d="M448.9,134.1 447.3,132.8 446,132.1" fill="none" stroke="#000" stroke-width="0.7"/>
<path d="M448,135.8 446.9,134.7 446.4,134.4" fill="none" stroke="#000" stroke-width="0.7"/>
<path d="M447.6,136.7 445.8,136.6 444,136.6" fill="none" stroke="#000" stroke-width="0.7"/>
<path d="M446.8,138.1 445.6,137.4 445.1,136.9" fill="none" stroke="#000" stroke-width="0.7"/>
<path d="M445.9,139.9 445.1,139.3 444.7,138.9" fill="none" stroke="#000" stroke-width="0.7"/>
<path d="M445.5,140.8 445.4,140.4 445,139.8" fill="none" stroke="#000" stroke-width="0.7"/>
<path d="M444.7,142.4 442.5,142.5 440.7,142.5" fill="none" stroke="#000" stroke-width="0.7"/>
<path d="M443.2,142.3 444.7,140.2 445.3,139" fill="none" stroke="#000" stroke-width="0.7"/>
<path d="M441.6,142 442.5,140.7 443.2,139.3" fill="none" stroke="#000" stroke-width="0.7"/>
<path d="M440.3,141.7 440.5,139.8 440.6,137.8" fill="none" stroke="#000" stroke-width="0.7"/>
<path d="M438.6,141.4 437.8,140.7 437.3,140" fill="none" stroke="#000" stroke-width="0.7"/>
<path d="M436.7,142.2 435.6,140.5 434.8,138.8" fill="none" stroke="#000" stroke-width="0.7"/>
<path d="M435.5,142.6 434.2,142 433.5,141.5" fill="none" stroke="#000" stroke-width="0.7"/>
<path d="M433.9,143.3 433.3,142 432.3,140.8" fill="none" stroke="#000" stroke-width="0.7"/>
<path d="M432.9,143.7 433.4,143.3 433.2,142.5" fill="none" stroke="#000" stroke-width="0.7"/>
<path d="M432.3,145.1 431.1,145.2 430.3,145.6" fill="none" stroke="#000" stroke-width="0.7"/>
<path d="M431.6,147 429.8,145.5 428.8,144.5" fill="none" stroke="#000" stroke-width="0.7"/>
<path d="M431.2,148.2 429.2,148.6 427.2,148.7" fill="none" stroke="#000" stroke-width="0.7"/>
<path d="M431.7,149.6 430.1,151 428.9,152.5" fill="none" stroke="#000" stroke-width="0.7"/>
<path d="M432.1,150.5 431.4,150.7 431.3,151.3" fill="none" stroke="#000" stroke-width="0.7"/>
<path d="M433.1,152.4 432.1,152.4 431.1,152.2" fill="none" stroke="#000" stroke-width="0.7"/>
<path d="M433,153.8 432.5,151.7 431.8,149.9" fill="none" stroke="#000" stroke-width="0.7"/>
<path d="M431.8,155.1 430.6,153.5 429.6,152.7" fill="none" stroke="#000" stroke-width="0.7"/>
<path d="M430.6,156.5 429,156.5 428,156.2" fill="none" stroke="#000" stroke-width="0.7"/>
<path d="M429.8,157.4 429.3,156.2 428.5,155.5" fill="none" stroke="#000" stroke-width="0.7"/>
<path d="M429.2,158.5 428.5,159.1 427.5,160.1" fill="none" stroke="#000" stroke-width="0.7"/>
<path d="M429.4,160.6 428.8,161.2 428.1,161.4" fill="none" stroke="#000" stroke-width="0.7"/>
<path d="M429.4,161.7 428,161.7 426.7,162" fill="none" stroke="#000" stroke-width="0.7"/>
<path d="M429.5,163.6 427.6,163.4 425.5,162.7" fill="none" stroke="#000" stroke-width="0.7"/>
<path d="M429.6,165 427.8,164 426.2,163.5" fill="none" stroke="#000" stroke-width="0.7"/>
<path d="M430,166.4 430.3,168.7 430.4,170.2" fill="none" stroke="#000" stroke-width="0.7"/>
<path d="M431.6,166.6 431.2,167.5 431.2,167.7" fill="none" stroke="#000" stroke-width="0.7"/>
<path d="M433.3,167 432.6,167.7 431.9,168.4" fill="none" stroke="#000" stroke-width="0.7"/>
<path d="M435.2,167.3 434,169 432.6,170.1" fill="none" stroke="#000" stroke-width="0.7"/>
<path d="M436.9,167.4 437.4,168.9 437.2,170.3" fill="none" stroke="#000" stroke-width="0.7"/>
<path d="M437.9,167.2 438.2,169.1 438.4,170.5" fill="none" stroke="#000" stroke-width="0.7"/>
<path d="M439,167 439.8,167.9 440.2,168.2" fill="none" stroke="#000" stroke-width="0.7"/>
<path d="M440.7,166.7 440.6,167.4 440.1,168" fill="none" stroke="#000" stroke-width="0.7"/>
<path d="M441.6,166.6 441.7,168.3 441.6,170.3" fill="none" stroke="#000" stroke-width="0.7"/>
<path d="M443.4,166.3 443.3,166.8 443.6,167.4" fill="none" stroke="#000" stroke-width="0.7"/>
<path d="M444.3,165.1 445,166.7 445.8,168.2" fill="none" stroke="#000" stroke-width="0.7"/>
<path d="M445.4,163.9 446.2,164.4 446.3,164.5" fill="none" stroke="#000" stroke-width="0.7"/>
<path d="M446.2,163.1 445.4,162.8 444.5,162.2" fill="none" stroke="#000" stroke-width="0.7"/>
<path d="M445.9,164.5 445.4,165.2 444.5,165.2" fill="none" stroke="#000" stroke-width="0.7"/>
<path d="M445.7,165.7 443.9,165.8 442.3,165.5" fill="none" stroke="#000" stroke-width="0.7"/>
<path d="M445.4,167 443.8,166.9 442.5,167.4" fill="none" stroke="#000" stroke-width="0.7"/>
<path d="M444.8,167.9 444.4,167 444.6,166" fill="none" stroke="#000" stroke-width="0.7"/>
<path d="M444,168.6 441.7,167.4 440.2,166.8" fill="none" stroke="#000" stroke-width="0.7"/>
<path d="M442.4,169.8 442.2,167.9 442,166.7" fill="none" stroke="#000" stroke-width="0.7"/>
<path d="M441.4,170.6 441.2,169.1 441.4,168.2" fill="none" stroke="#000" stroke-width="0.7"/>
<path d="M439.9,171.8 439.9,171.1 440.2,170.5" fill="none" stroke="#000" stroke-width="0.7"/>
<path d="M438.3,172.5 436.7,171.2 435,170.5" fill="none" stroke="#000" stroke-width="0.7"/>
<path d="M436.7,173.3 436.5,172.5 436.7,172.2" fill="none" stroke="#000" stroke-width="0.7"/>
<path d="M435.9,173.7 435.5,172.9 434.6,172.1" fill="none" stroke="#000" stroke-width="0.7"/>
<path d="M434.7,174.2 432.7,173.1 431.4,171.7" fill="none" stroke="#000" stroke-width="0.7"/>
<path d="M432.8,175 433,173.6 433.7,172" fill="none" stroke="#000" stroke-width="0.7"/>
<path d="M431.2,175.7 431.1,173.8 431.5,172.6" fill="none" stroke="#000" stroke-width="0.7"/>
<path d="M430.2,176.1 429.8,174.7 429.4,173.7" fill="none" stroke="#000" stroke-width="0.7"/>
<path d="M428.5,176.7 428.2,174.5 428.5,173.1" fill="none" stroke="#000" stroke-width="0.7"/>
<path d="M427.4,177.2 427,176.3 427,175.4" fill="none" stroke="#000" stroke-width="0.7"/>
<path d="M418.3,182.4 417.9,181.3 417.6,180.6" fill="none" stroke="#000" stroke-width="0.7"/>
<path d="M416.8,184.2 416.3,183.4 415.6,183" fill="none" stroke="#000" stroke-width="0.7"/>
<path d="M413.1,187.4 413.1,186.8 412.8,186.4" fill="none" stroke="#000" stroke-width="0.7"/>
<path d="M409.6,189.5 409,189 408.4,188.3" fill="none" stroke="#000" stroke-width="0.7"/>
<path d="M406.6,190.6 406.7,189.5 406.4,188.7" fill="none" stroke="#000" stroke-width="0.7"/>
<path d="M404.4,192 403.9,190.9 403.5,190.4" fill="none" stroke="#000" stroke-width="0.7"/>
<path d="M402.6,194.5 402.1,194.3 401.1,194" fill="none" stroke="#000" stroke-width="0.7"/>
<path d="M400.9,197 400.3,196.8 399.4,196.3" fill="none" stroke="#000" stroke-width="0.7"/>
<path d="M399,200.6 398.6,200.2 397.8,199.5" fill="none" stroke="#000" stroke-width="0.7"/>
<path d="M397.9,202.8 397.3,202.5 397,202.1" fill="none" stroke="#000" stroke-width="0.7"/>
<path d="M396.8,205.2 395.6,204.8 395,204.4" fill="none" stroke="#000" stroke-width="0.7"/>
<path d="M395.4,208.3 394.8,208 394.6,208" fill="none" stroke="#000" stroke-width="0.7"/>
<path d="M393.6,213.2 392.9,213.3 392,213.8" fill="none" stroke="#000" stroke-width="0.7"/>
<path d="M392.6,216.5 391.5,215.9 390.8,215.6" fill="none" stroke="#000" stroke-width="0.7"/>
<path d="M391,219.8 390.6,219.3 390.8,219" fill="none" stroke="#000" stroke-width="0.7"/>
<path d="M376.6,204.2 377.3,203.2 377.8,202.9" fill="none" stroke="#000" stroke-width="0.7"/>
<path d="M376.1,202.8 376.7,201.7 377.2,201.2" fill="none" stroke="#000" stroke-width="0.7"/>
<path d="M375.7,201.5 376,201.3 376.4,200.7" fill="none" stroke="#000" stroke-width="0.7"/>
<path d="M375.4,200.6 376.5,200.5 376.9,200.4" fill="none" stroke="#000" stroke-width="0.7"/>
<path d="M375,199.4 376.3,197.7 377.1,196.4" fill="none" stroke="#000" stroke-width="0.7"/>
<path d="M374.7,198.5 375.4,197.9 375.7,197.8" fill="none" stroke="#000" stroke-width="0.7"/>
<path d="M374.2,197 375.5,196.1 376.5,195.7" fill="none" stroke="#000" stroke-width="0.7"/>
<path d="M373.9,196.2 374.7,196 375.4,196.1" fill="none" stroke="#000" stroke-width="0.7"/>
<path d="M373.4,194.8 374.6,194.2 375.2,193.5" fill="none" stroke="#000" stroke-width="0.7"/>
<path d="M373,193.7 374.6,193.4 375.4,193" fill="none" stroke="#000" stroke-width="0.7"/>
<path d="M372.7,192.6 373.9,191.2 375,189.9" fill="none" stroke="#000" stroke-width="0.7"/>
<path d="M372.4,191.6 373.2,190.8 373.6,189.8" fill="none" stroke="#000" stroke-width="0.7"/>
<path d="M371.9,190.2 373.5,189.3 374.7,188.4" fill="none" stroke="#000" stroke-width="0.7"/>
<path d="M371.4,188.8 372.9,189 373.6,189.2" fill="none" stroke="#000" stroke-width="0.7"/>
<path d="M370.9,187.3 371.6,187.6 372,187.3" fill="none" stroke="#000" stroke-width="0.7"/>
<path d="M370.4,185.6 371.3,184.9 371.9,184.9" fill="none" stroke="#000" stroke-width="0.7"/>
<path d="M370,184.4 370.2,183.9 370.9,183.3" fill="none" stroke="#000" stroke-width="0.7"/>
<path d="M370,183.4 371.1,183.1 371.6,183.4" fill="none" stroke="#000" stroke-width="0.7"/>
<path d="M370.2,182.1 371.4,183.1 372.1,183.6" fill="none" stroke="#000" stroke-width="0.7"/>
<path d="M370.4,180.9 371.8,181.1 372.5,180.8" fill="none" stroke="#000" stroke-width="0.7"/>
<path d="M370.5,179.9 371.1,179.7 371.9,179.6" fill="none" stroke="#000" stroke-width="0.7"/>
<path d="M370.8,178.4 371.5,177.9 372.2,177.6" fill="none" stroke="#000" stroke-width="0.7"/>
<path d="M371,177 372.6,178.2 373.8,179.1" fill="none" stroke="#000" stroke-width="0.7"/>
<path d="M371.6,175.5 372.1,176.2 372.2,176.4" fill="none" stroke="#000" stroke-width="0.7"/>
<path d="M372.2,173.9 373.1,174.2 374.2,174.4" fill="none" stroke="#000" stroke-width="0.7"/>
<path d="M372.6,173 373,172.9 373.7,173" fill="none" stroke="#000" stroke-width="0.7"/>
<path d="M372.9,172.2 373.2,172.1 373.8,172.1" fill="none" stroke="#000" stroke-width="0.7"/>
<path d="M373.2,171.4 374.6,172.2 376.1,173.1" fill="none" stroke="#000" stroke-width="0.7"/>
<path d="M373.6,170.2 374.8,170.2 375.4,169.6" fill="none" stroke="#000" stroke-width="0.7"/>
<path d="M373.8,168.9 374.7,168.3 375.9,168.1" fill="none" stroke="#000" stroke-width="0.7"/>
<path d="M374.1,167.8 375.5,167.6 377.1,166.9" fill="none" stroke="#000" stroke-width="0.7"/>
<path d="M374.3,166.4 374.8,166.6 375.6,166.7" fill="none" stroke="#000" stroke-width="0.7"/>
<path d="M374.4,164.5 376,164.2 377.6,164.1" fill="none" stroke="#000" stroke-width="0.7"/>
<path d="M374,163.6 375.7,162.9 376.8,162.5" fill="none" stroke="#000" stroke-width="0.7"/>
<path d="M373.6,162.6 375.4,163.2 376.6,163.5" fill="none" stroke="#000" stroke-width="0.7"/>
<path d="M372.9,160.9 374.1,159.7 375,158.9" fill="none" stroke="#000" stroke-width="0.7"/>
<path d="M372.6,160.1 372.8,159.9 373.3,159.5" fill="none" stroke="#000" stroke-width="0.7"/>
<path d="M371.7,158.4 373.2,158.8 373.9,158.6" fill="none" stroke="#000" stroke-width="0.7"/>
<path d="M371.1,157.3 371.4,156.5 372,156.1" fill="none" stroke="#000" stroke-width="0.7"/>
<path d="M370.3,156 372.2,156 373.7,155.8" fill="none" stroke="#000" stroke-width="0.7"/>
<path d="M369.5,154.5 370.3,154.5 370.6,154.2" fill="none" stroke="#000" stroke-width="0.7"/>
<path d="M368.6,153 369.4,151.9 369.8,151.2" fill="none" stroke="#000" stroke-width="0.7"/>
<path d="M367.7,151.6 369.2,150.6 370.5,149.3" fill="none" stroke="#000" stroke-width="0.7"/>
<path d="M366.8,150.2 367,149.7 367.5,148.9" fill="none" stroke="#000" stroke-width="0.7"/>
<path d="M365.9,148.7 366.9,148.7 367.3,148.5" fill="none" stroke="#000" stroke-width="0.7"/>
<path d="M365.3,147.6 365.6,146.7 366.5,145.5" fill="none" stroke="#000" stroke-width="0.7"/>
<path d="M364.8,146.1 366,146.8 367,146.9" fill="none" stroke="#000" stroke-width="0.7"/>
<path d="M364.3,144.5 364.8,143.8 365.5,143.6" fill="none" stroke="#000" stroke-width="0.7"/>
<path d="M363.9,143 364.5,142.9 365.4,142.4" fill="none" stroke="#000" stroke-width="0.7"/>
<path d="M363.5,141.8 364.9,141.6 365.7,141.5" fill="none" stroke="#000" stroke-width="0.7"/>
<path d="M363,140 364.2,139.4 365.2,139.5" fill="none" stroke="#000" stroke-width="0.7"/>
<path d="M362.6,138.8 363.2,137.9 363.4,137.5" fill="none" stroke="#000" stroke-width="0.7"/>
<path d="M362.2,137.5 363.7,137.1 365,136.8" fill="none" stroke="#000" stroke-width="0.7"/>
<path d="M361.7,136.1 362.9,134.6 363.7,133.7" fill="none" stroke="#000" stroke-width="0.7"/>
<path d="M361.4,135 363,134.6 364.3,134.1" fill="none" stroke="#000" stroke-width="0.7"/>
<path d="M360.8,133.2 362,133 362.9,132.9" fill="none" stroke="#000" stroke-width="0.7"/>
<path d="M354.5,121.5 354.9,121.5 355.6,121.2" fill="none" stroke="#000" stroke-width="0.7"/>
<path d="M352.9,120.3 353.4,120.2 354.1,120" fill="none" stroke="#000" stroke-width="0.7"/>
<path d="M350.5,118.6 350.5,117.9 350.8,117" fill="none" stroke="#000" stroke-width="0.7"/>
<path d="M348.6,118.3 348.1,117.7 348,117.2" fill="none" stroke="#000" stroke-width="0.7"/>
<path d="M344.6,117.7 344.2,117.2 344.1,116.2" fill="none" stroke="#000" stroke-width="0.7"/>
<path d="M342.7,117.6 342.5,116.5 342.1,115.7" fill="none" stroke="#000" stroke-width="0.7"/>
<path d="M339.3,118.1 339.6,117.2 339.4,116.3" fill="none" stroke="#000" stroke-width="0.7"/>
<path d="M337.2,118.4 337.4,117.8 337.6,117.7" fill="none" stroke="#000" stroke-width="0.7"/>
<path d="M333.6,117.3 334.7,116.6 335.2,116.2" fill="none" stroke="#000" stroke-width="0.7"/>
<path d="M331.5,115.7 331.8,114 331.9,113.1" fill="none" stroke="#000" stroke-width="0.7"/>
<path d="M332.4,113.4 332.8,114.6 332.8,115.6" fill="none" stroke="#000" stroke-width="0.7"/>
<path d="M334.1,111.7 334.5,111.9 334.8,112.5" fill="none" stroke="#000" stroke-width="0.7"/>
<path d="M336.3,109.5 336.6,110.2 337.2,111.1" fill="none" stroke="#000" stroke-width="0.7"/>
<path d="M337.6,108.2 338.3,108.5 338.9,108.8" fill="none" stroke="#000" stroke-width="0.7"/>
<path d="M337.3,106 337.3,104.3 337.3,103.4" fill="none" stroke="#000" stroke-width="0.7"/>
<path d="M334.3,104.5 334.5,102.9 334.4,101.7" fill="none" stroke="#000" stroke-width="0.7"/>
<path d="M332.5,104.5 332,103.2 331.9,102.2" fill="none" stroke="#000" stroke-width="0.7"/>
<path d="M330.1,104.5 330,103.7 330,102.9" fill="none" stroke="#000" stroke-width="0.7"/>
<path d="M327.6,104.5 327.1,104.1 327.1,103.7" fill="none" stroke="#000" stroke-width="0.7"/>
<path d="M325.7,102.9 326.8,102.3 327.5,101.3" fill="none" stroke="#000" stroke-width="0.7"/>
<path d="M324.4,101.4 324.4,101.1 324.6,100.7" fill="none" stroke="#000" stroke-width="0.7"/>
<path d="M323,98.5 323.3,99.3 324,99.5" fill="none" stroke="#000" stroke-width="0.7"/>
<path d="M323.4,96.2 324.9,95.7 325.7,95" fill="none" stroke="#000" stroke-width="0.7"/>
<path d="M420.9,53.4 424.5,48.7 431.6,47.5 439.9,48.7 447,49.9" fill="none" stroke="#000" stroke-width="0.75"/>
<path d="M439.9,48.7 443.4,53.4 436.3,58.2" fill="none" stroke="#000" stroke-width="0.75"/>
<path d="M448.2,48.7 445.8,59.3 441.5,70" fill="none" stroke="#000" stroke-width="0.75"/>
<path d="M439.9,193.6 443.4,190 449.4,190.7 456.5,190 462.4,190 466,194.8 464.8,199.5 460.1,203.1 452.9,205.9 447,204.3 443.4,200.7 441.1,197.2Z" fill="none" stroke="#000" stroke-width="0.75"/>
<path d="M441,192.5 441.6,193 442.4,193" fill="none" stroke="#000" stroke-width="0.7"/>
<path d="M442.2,191.2 442.9,192.3 443.7,192.9" fill="none" stroke="#000" stroke-width="0.7"/>
<path d="M443.4,190 444.3,191.1 444.7,192" fill="none" stroke="#000" stroke-width="0.7"/>
<path d="M444.5,190.1 444.1,190.7 444.1,191.1" fill="none" stroke="#000" stroke-width="0.7"/>
<path d="M446.3,190.3 445.8,191 445.9,191.1" fill="none" stroke="#000" stroke-width="0.7"/>
<path d="M448.3,190.6 448.2,190.9 447.8,191.6" fill="none" stroke="#000" stroke-width="0.7"/>
<path d="M450.1,190.6 450,191.4 449.6,191.5" fill="none" stroke="#000" stroke-width="0.7"/>
<path d="M451.1,190.5 451.1,191.1 451,191.9" fill="none" stroke="#000" stroke-width="0.7"/>
<path d="M453.2,190.3 453.5,191.7 454.1,192.7" fill="none" stroke="#000" stroke-width="0.7"/>
<path d="M454.7,190.2 454.7,191.1 454.9,192.3" fill="none" stroke="#000" stroke-width="0.7"/>
<path d="M455.8,190.1 455.6,191.1 455.4,191.7" fill="none" stroke="#000" stroke-width="0.7"/>
<path d="M457.5,190 457,191.2 456.9,192.6" fill="none" stroke="#000" stroke-width="0.7"/>
<path d="M458.5,190 458.5,190.5 458.1,190.7" fill="none" stroke="#000" stroke-width="0.7"/>
<path d="M459.6,190 460.4,191.1 460.7,191.9" fill="none" stroke="#000" stroke-width="0.7"/>
<path d="M461.5,190 461.9,191.4 461.8,192" fill="none" stroke="#000" stroke-width="0.7"/>
<path d="M462.6,190.3 461.9,190.5 461.1,190.8" fill="none" stroke="#000" stroke-width="0.7"/>
<path d="M463.6,191.5 462.5,192.9 461.9,193.8" fill="none" stroke="#000" stroke-width="0.7"/>
<path d="M464.3,192.6 463.7,193.7 462.7,194.7" fill="none" stroke="#000" stroke-width="0.7"/>
<path d="M465.6,194.3 464.2,194.5 463.4,195" fill="none" stroke="#000" stroke-width="0.7"/>
<path d="M451,205.4 450.5,204.3 450.3,203.8" fill="none" stroke="#000" stroke-width="0.7"/>
<path d="M448.7,204.8 449.2,204 450,203.5" fill="none" stroke="#000" stroke-width="0.7"/>
<path d="M447.5,204.4 447.3,203.7 447.7,203.5" fill="none" stroke="#000" stroke-width="0.7"/>
<path d="M445.8,203.1 446.1,202.4 446.4,201.6" fill="none" stroke="#000" stroke-width="0.7"/>
<path d="M444.9,202.2 445.8,201.4 446.7,201.2" fill="none" stroke="#000" stroke-width="0.7"/>
<path d="M443.1,200.2 443.1,199.8 443.6,199.1" fill="none" stroke="#000" stroke-width="0.7"/>
<path d="M441.9,198.4 443,198.4 443.9,197.9" fill="none" stroke="#000" stroke-width="0.7"/>
<path d="M441,196.8 441.9,197.2 442.6,197.1" fill="none" stroke="#000" stroke-width="0.7"/>
<path d="M440.3,194.8 440.7,193.9 441.4,193.3" fill="none" stroke="#000" stroke-width="0.7"/>
<path d="M156.2,280.8 157.4,280.8 157.4,281.9 156.2,281.9Z" fill="none" stroke="#000" stroke-width="0.3"/>
<path d="M309.2,370.5 311.3,367.3 313.7,364.4 317.7,362 322,360.4 324.1,359.9 324.9,362 322,363.6 321.4,366 323.3,367.3 324.9,364.8 325.7,362 329.7,362.8 334.6,364.1 339.4,364.8 344.2,363.6 347.4,364.4 349,367.3 351.4,368.9 353.8,370.5 355.4,372.5 357.8,374.1 361.8,374.4 366.7,374.9 369.9,375.7 372.8,378.1 374.7,381.3 376.3,384.5 377.9,387.7 374.7,388.5 371.5,390.1 376.3,389.3 380.3,388.5 384.3,390.1 389.1,392 393.9,393 399.6,394.1 404.4,395.7 408.4,398.1 411.6,401 412.9,404.6 411.9,408.6 409.2,411.8 406.8,414.2 404.4,417.1 403.2,420.6 402.8,424.6 402,428.6 400.7,432.6 398.8,436.7 395.5,439.9 391.5,441.8 387.5,443.1 384.3,444.7 381.9,444.8 380.3,448 379.5,452 376.3,455.2 373.9,457.7 371.5,460.9 369.1,464.1 367.5,467.3 365.1,469.7 361.8,470.2 358.6,468.9 357,471.3 359.4,474.5 359,477.7 355.4,479.3 350.6,480.4 346.6,482 345,484.9 341.8,486.9 339.4,488.9 340.2,492.2 341.8,494.6 339.4,497 336.2,499.7 334.2,502.6 335.4,505.8 337,508.2 334.6,511.4 332.2,514.6 330.6,517.8 329.4,521 330.1,524.3 332.2,527.5 335.4,530.7 339.4,532.8 341.8,533.6 337.8,534.7 333.8,535 329.7,534.7 326.5,533.1 323.3,530.7 320.9,527.9 319.3,524.3 317.7,520.2 316.1,515.4 314.5,510.6 314,505.8 315.3,501 317.2,496.2 318.2,491.4 318.5,486.5 318.8,481.7 318.5,477.7 320.1,472.9 321.7,468.1 322.5,464.1 323.3,459.3 323,454.4 324.1,449.6 324.9,444.8 325.7,440 326.9,438.3 327.3,433.5 325.7,429 322.5,426.7 318.5,424.1 314.5,421.4 311.3,417.4 308.9,413.4 306.5,409.4 304.1,405.4 301.7,401.4 300.1,397.3 301.7,393.3 300.9,390.1 302.5,386.6 305.7,383.7 308.1,381.3 309.2,378.1 309.7,374.1Z" fill="none" stroke="#000" stroke-width="0.75"/>
<path d="M325.7,429 326.9,429 328.9,433.5 331.4,437.5 333,440.7 331.7,444 331,448 329.4,452.8 327.8,457.7 327.3,462.5 326.9,467.3 325.7,472.1 324.9,476.9 324.1,481.7 323.3,486.5 323,491.4 322.5,496.2 321.7,501 320.9,505.8 320.1,510.6 319.8,515.4 320.9,519.4 323.3,522.6 326.5,523.5 329.4,522.6 331,523.5 331.7,533.1 329.7,534.7 326.5,533.1 323.3,530.7 320.9,527.9 319.3,524.3 317.7,520.2 316.1,515.4 314.5,510.6 314,505.8 315.3,501 317.2,496.2 318.2,491.4 318.5,486.5 318.8,481.7 318.5,477.7 320.1,472.9 321.7,468.1 322.5,464.1 323.3,459.3 323,454.4 324.1,449.6 324.9,444.8 325.7,440 326.9,438.3 327.3,433.5Z" fill="none" stroke="#000" stroke-width="0.75"/>
<path d="M330.8,533.8 330.1,533.4 329.9,532.8" fill="none" stroke="#000" stroke-width="0.8"/>
<path d="M330,534.4 329.9,533.6 329.9,532.3" fill="none" stroke="#000" stroke-width="0.8"/>
<path d="M328.8,534.3 329.6,533.2 330.1,532.6" fill="none" stroke="#000" stroke-width="0.8"/>
<path d="M327.3,533.5 328.4,532.8 328.9,532.8" fill="none" stroke="#000" stroke-width="0.8"/>
<path d="M326.4,533.1 327.2,532.6 328.2,532.1" fill="none" stroke="#000" stroke-width="0.8"/>
<path d="M325.6,532.4 327.1,531.8 328.1,531.5" fill="none" stroke="#000" stroke-width="0.8"/>
<path d="M324.4,531.5 325.3,531.3 326.1,530.7" fill="none" stroke="#000" stroke-width="0.8"/>
<path d="M323.1,530.5 324.8,530.2 325.8,529.8" fill="none" stroke="#000" stroke-width="0.8"/>
<path d="M322.6,529.8 323.5,528.6 324.9,527.7" fill="none" stroke="#000" stroke-width="0.8"/>
<path d="M321.8,529 322.3,529.2 323.1,528.9" fill="none" stroke="#000" stroke-width="0.8"/>
<path d="M321,528 321.4,527.3 321.8,527.1" fill="none" stroke="#000" stroke-width="0.8"/>
<path d="M320.4,526.8 321.9,527.3 322.7,527.4" fill="none" stroke="#000" stroke-width="0.8"/>
<path d="M319.7,525.3 321.4,524.9 322.7,524.6" fill="none" stroke="#000" stroke-width="0.8"/>
<path d="M319.1,523.9 321,523.8 322.1,524.2" fill="none" stroke="#000" stroke-width="0.8"/>
<path d="M318.7,522.8 319.3,522.7 319.7,522.6" fill="none" stroke="#000" stroke-width="0.8"/>
<path d="M318.2,521.4 319,521.2 319.5,521.3" fill="none" stroke="#000" stroke-width="0.8"/>
<path d="M317.6,519.9 318.1,519.7 318.5,519.5" fill="none" stroke="#000" stroke-width="0.8"/>
<path d="M317.1,518.3 318.1,518.5 319.1,518.7" fill="none" stroke="#000" stroke-width="0.8"/>
<path d="M316.8,517.5 318.1,516.7 318.9,516.5" fill="none" stroke="#000" stroke-width="0.8"/>
<path d="M316.4,516.4 317.4,515 318.1,513.7" fill="none" stroke="#000" stroke-width="0.8"/>
<path d="M316,515 317.4,514.5 318,514.3" fill="none" stroke="#000" stroke-width="0.8"/>
<path d="M315.5,513.7 316.8,513.4 317.9,513.7" fill="none" stroke="#000" stroke-width="0.8"/>
<path d="M315.1,512.3 316.2,512.5 316.5,512.4" fill="none" stroke="#000" stroke-width="0.8"/>
<path d="M314.7,511.2 316,510.6 317.2,509.9" fill="none" stroke="#000" stroke-width="0.8"/>
<path d="M314.4,509.9 315.7,510 316.9,509.9" fill="none" stroke="#000" stroke-width="0.8"/>
<path d="M314.3,508.9 315,508.2 315.9,507.3" fill="none" stroke="#000" stroke-width="0.8"/>
<path d="M314.2,508 315.1,507.2 315.6,506.8" fill="none" stroke="#000" stroke-width="0.8"/>
<path d="M314.1,507.2 315,507.3 315.4,507.9" fill="none" stroke="#000" stroke-width="0.8"/>
<path d="M314.1,505.6 314.6,505.9 315,505.8" fill="none" stroke="#000" stroke-width="0.8"/>
<path d="M314.3,504.8 315.9,505 317.1,504.6" fill="none" stroke="#000" stroke-width="0.8"/>
<path d="M314.6,503.5 315,503.9 315.3,503.9" fill="none" stroke="#000" stroke-width="0.8"/>
<path d="M315,502.1 315.6,502.6 316,502.5" fill="none" stroke="#000" stroke-width="0.8"/>
<path d="M315.4,500.9 316.1,501.9 317,502.4" fill="none" stroke="#000" stroke-width="0.8"/>
<path d="M315.8,499.7 317.1,499.5 318.1,499.4" fill="none" stroke="#000" stroke-width="0.8"/>
<path d="M316.2,498.8 317.2,499.8 318.2,501.1" fill="none" stroke="#000" stroke-width="0.8"/>
<path d="M316.8,497.3 317.4,497.7 317.8,497.7" fill="none" stroke="#000" stroke-width="0.8"/>
<path d="M317.2,496 318.7,496.5 319.4,496.5" fill="none" stroke="#000" stroke-width="0.8"/>
<path d="M317.5,495 318.5,495.8 319.3,497" fill="none" stroke="#000" stroke-width="0.8"/>
<path d="M317.6,494.2 319.5,493.7 320.7,493.6" fill="none" stroke="#000" stroke-width="0.8"/>
<path d="M317.8,493.3 318.1,493.7 318.8,494" fill="none" stroke="#000" stroke-width="0.8"/>
<path d="M318.1,491.8 318.8,491.5 319.9,490.9" fill="none" stroke="#000" stroke-width="0.8"/>
<path d="M318.2,490.8 319,490.8 319.2,490.9" fill="none" stroke="#000" stroke-width="0.8"/>
<path d="M318.3,490 319.1,489.7 319.5,490" fill="none" stroke="#000" stroke-width="0.8"/>
<path d="M318.4,488.5 319.6,488.4 320.8,488.9" fill="none" stroke="#000" stroke-width="0.8"/>
<path d="M318.4,487.3 319.1,487.4 320.2,487.9" fill="none" stroke="#000" stroke-width="0.8"/>
<path d="M318.5,486.6 319.4,486 320.2,485.5" fill="none" stroke="#000" stroke-width="0.8"/>
<path d="M318.6,485.6 319.1,485.7 319.6,486.3" fill="none" stroke="#000" stroke-width="0.8"/>
<path d="M318.6,484.3 320.3,484.5 321.3,484.4" fill="none" stroke="#000" stroke-width="0.8"/>
<path d="M318.7,482.9 319.2,482.7 319.6,482.8" fill="none" stroke="#000" stroke-width="0.8"/>
<path d="M318.8,481.7 320.2,482.4 321,482.7" fill="none" stroke="#000" stroke-width="0.8"/>
<path d="M318.7,480.7 320.1,480.4 321,480.5" fill="none" stroke="#000" stroke-width="0.8"/>
<path d="M318.7,479.8 319.8,480.3 321.1,480.4" fill="none" stroke="#000" stroke-width="0.8"/>
<path d="M318.5,478.4 319.6,478 320.9,478.1" fill="none" stroke="#000" stroke-width="0.8"/>
<path d="M318.8,476.9 320.1,476.6 321.8,476.5" fill="none" stroke="#000" stroke-width="0.8"/>
<path d="M319.3,475.4 319.9,476.2 320.1,476.5" fill="none" stroke="#000" stroke-width="0.8"/>
<path d="M319.8,473.8 321.1,473.6 322.2,473.6" fill="none" stroke="#000" stroke-width="0.8"/>
<path d="M320.2,472.5 320.7,472.9 321.5,473.5" fill="none" stroke="#000" stroke-width="0.8"/>
<path d="M320.5,471.6 321.3,471.8 321.5,472.4" fill="none" stroke="#000" stroke-width="0.8"/>
<path d="M320.9,470.5 321.1,470.6 321.7,470.5" fill="none" stroke="#000" stroke-width="0.8"/>
<path d="M321.4,469.1 322.9,468.9 324.2,469.1" fill="none" stroke="#000" stroke-width="0.8"/>
<path d="M321.8,467.8 322.4,468.2 322.9,468.5" fill="none" stroke="#000" stroke-width="0.8"/>
<path d="M322.1,466.3 323.9,465.9 325.1,465.9" fill="none" stroke="#000" stroke-width="0.8"/>
<path d="M322.2,465.5 323.6,465.3 325,464.9" fill="none" stroke="#000" stroke-width="0.8"/>
<path d="M318.5,488.9 320.1,491.4 318.2,493.8 319.8,496.2 317.2,498.6 319.2,501 316.3,503.4 318.2,505.8 315.3,508.2 317.6,510.6 315.6,513 318.5,515.4 316.6,517.8 319.8,520.2 318.2,522.6 321.4,524.3 320.1,526.7 323.3,528.3 322,530.2 325.7,531.5 324.9,533.4 328.1,533.9" fill="none" stroke="#000" stroke-width="1.3"/>
<path d="M317.2,507.4 314.5,509 316.6,511.4 314.3,513.8 316.9,517 315.6,520.2 318.5,523.5 317.9,526.7 320.9,529.1 322,532.3" fill="none" stroke="#000" stroke-width="1.0"/>
<path d="M324.1,359.9 320.1,363.6 319.3,366.9 320.9,370.1 325.7,372.5 329.7,373.3 332.2,375.7 333.8,379.7 333,382.9" fill="none" stroke="#000" stroke-width="0.75"/>
<path d="M333,382.9 328.1,384.5 327.3,388.5 328.1,392.5 326.5,396.5" fill="none" stroke="#000" stroke-width="0.75"/>
<path d="M326.5,396.5 325.7,393.3 320.1,392.5 316.1,388.5" fill="none" stroke="#000" stroke-width="0.75"/>
<path d="M306.5,384 311.3,386.1 315,387.7 313.7,391.4 309.7,394.1 305.7,396.9 302.5,397.8" fill="none" stroke="#000" stroke-width="0.75"/>
<path d="M326.5,396.5 322.5,398.1 319.3,401 318.5,404.6 320.9,407.8 324.9,409.4 327.3,411.8" fill="none" stroke="#000" stroke-width="0.75"/>
<path d="M327.3,411.8 330.6,411 331.4,414.2 330.6,418.2 329.7,422.2 328.1,427 326.9,429" fill="none" stroke="#000" stroke-width="0.75"/>
<path d="M330.6,411 335.4,409.4 338.6,409.1 339.7,412.6 344.2,415 349,416.6 351.4,420.6 354.6,423.8 356.2,427.8 357,431" fill="none" stroke="#000" stroke-width="0.75"/>
<path d="M357,431 352.2,430.6 347.4,431.8 346.1,437.5" fill="none" stroke="#000" stroke-width="0.75"/>
<path d="M346.1,437.5 341,437.9 335.4,437.9 333,440.7" fill="none" stroke="#000" stroke-width="0.75"/>
<path d="M357,431 358.6,435.1 361.8,440" fill="none" stroke="#000" stroke-width="0.75"/>
<path d="M349,367.3 350.6,370.9 349.3,374.9 351.4,378.6 353,382.9 356.2,384 358.6,382.9 361.8,382.1 365.9,382.1 369.9,381.3 372.8,378.1" fill="none" stroke="#000" stroke-width="0.75"/>
<path d="M333.8,379.7 335.4,384.5 339.4,385 341.8,382.1 340.7,379.2 344.2,378.9 348.2,378.1 351.4,378.6" fill="none" stroke="#000" stroke-width="0.75"/>
<path d="M357.8,374.1 357,378.1 358.6,382.9" fill="none" stroke="#000" stroke-width="0.75"/>
<path d="M365.9,375.4 365.1,378.9 365.9,382.1" fill="none" stroke="#000" stroke-width="0.75"/>
<path d="M346.1,437.4 350.6,440.8 355.4,443.2 358.6,447.2 356.7,449.3 360.2,449.3 363.5,448 365.1,445.6 366.3,445.1 364.3,442.4 361.8,440" fill="none" stroke="#000" stroke-width="0.75"/>
<path d="M366.3,445.1 367.5,447.7 365.9,449.9 363.5,452.5 361,455.2 360.2,456.9 364.3,458.9 367.9,462.5 369.9,464.1" fill="none" stroke="#000" stroke-width="0.75"/>
<path d="M360.2,456.9 357.8,460.1 356.2,464.1 356.7,468.1 358.6,468.9" fill="none" stroke="#000" stroke-width="0.75"/>
<path d="M331,523.5 331.7,533.1" fill="none" stroke="#000" stroke-width="0.75"/>
<path d="M323,363.6 324.3,363.2 324.6,366 323.3,367 322.4,365.7Z" fill="none" stroke="#000" stroke-width="0.75"/>
<path d="M364.3,393 368.3,391.4 371.5,390.1 373.1,392 374.7,389.8 376.3,392 378.2,389.5 377.1,393.3 374.7,392 372.8,393.7 371.2,391.4" fill="none" stroke="#000" stroke-width="0.9"/>
<path d="M350.6,522.2 353,521.2 355.4,521.5 357.8,521.8 356.7,523.5 354.1,523.1 352.2,524.4 350.9,523.5Z" fill="none" stroke="#000" stroke-width="1.0"/>
<path d="M569.1,172.5 571.5,170.1 573.9,169.3 577.2,170.1 581.2,171.7 586,173.3 590.8,175.7 594.8,178.9 598,182.9 598.8,186.9 596.4,190.9 593.2,192.5 588.4,191.4 584.4,189.8 579.6,188.5 578,187.2 582,190.9 584.4,194.1 583.9,198.1 586.8,201.4 589.2,202.6 591.6,201 590.8,198.1 594.8,197.8 597.2,195.7 596.4,193 599.6,191.4 602.8,189.3 605.2,192.5 606,188.5 605.2,184.5 606.4,181.3 604.4,178.6 607.6,177.3 610.9,179.2 610.1,182.9 608.4,184.5 612.5,186.1 616.5,184.5 605,184.2 603.7,179 607.5,177 611.4,180.3 610.1,185.4 614,186.7 621.7,181.6 628.1,176.4 635.8,175.1 639.7,172.6 643.6,176.4 646.1,172.6 641,167.4 643.6,164.9 648.7,170 656.4,171.3 661.6,173.9 664.7,179 667.2,175.1 664.2,168.7 661.1,163.6 662.9,157.1 666.7,149.4 671.9,147.6 675.7,150.7 675,158.4 673.9,166.1 675.7,173.9 674.5,180.3 671.9,186.7 666.7,188.8 673.2,190.6 678.3,184.2 680.9,179 684.8,175.9 688.6,180.3 687.3,186.7 689.9,182.9 688.6,175.1 682.2,172.6 679.6,166.1 677.5,158.4 680.9,153.3 679.6,146.8 683.5,152 684.8,157.1 689.9,161 687.3,155.8 691.2,153.3 696.3,154.6 700.2,159.7 701.5,166.1 704.1,170 702.8,163.6 698.9,157.1 695,150.7 695,144.3 700.2,141.7 706.6,140.4 710.5,136.5 709.2,131.4 713.1,128.8 720.8,125 728.5,122.4 736.2,119.8 741.4,116.7 745.2,109.5 750.4,105.6 755.5,107.4 756.8,113.4 763.3,115.9 769.7,115.9 773.6,121.1 774.9,127.5 771,132.7 765.8,137.8 760.7,143 755.5,148.1 753,150.7 759.4,148.1 764.6,144.3 768.4,141.7 773.6,139.1 776.2,145.5 781.3,143 786.5,143 791.6,146.8 798,148.1 799.3,143 803.2,141.7 808.3,143 812.2,146.8 813.5,153.3 814.8,158.4 817.9,162.3 820.4,157.1 825.1,159.7 830.2,158.4 835.4,159.7 838,155.8 838.5,152 841.8,149.4 848.2,150.2 854.7,152 861.1,154.6 865,158.4 870.1,161 876.6,161.5 883,162.3 887.4,166.1 889.4,172.6 893.3,171.8 899.7,170.8 906.2,171.3 910,168.7 913.1,171.8 913.9,175.1 916.5,168.7 922.9,168.2 929.3,170 934.5,173.9 937.1,180.3 940.9,177.7 946.1,175.1 951.2,171.8 955.1,173.9 956.4,177.7 960.2,180.3 956.4,184.5 952.5,181.9 949.9,187 944.8,189.6 940.9,193.5 935.8,197.3 930.6,198.6 925.5,199.9 930.6,201.2 934.5,205 935.3,209.4 930.6,211.5 925.5,214.1 920.3,216.6 916.5,219.2 912.6,221.8 907.5,221.8 902.3,220.5 898.4,223.1 894.6,227.4 892,233.4 894.1,237.2 892,242.4 888.1,248.8 884.3,254 880.4,257.3 878.6,252.7 877.9,246.2 876.6,239.8 878.6,234.7 883,230.8 886.9,227.4 890.7,223.1 894.1,217.9 897.2,214.1 899.2,210.2 895.9,211 893.3,215.3 889.4,217.9 886.9,214.1 881.7,215.3 877.9,217.9 874,221.8 870.1,225.6 866.3,224.9 859.8,224.4 853.4,224.9 847,226.4 841.8,230 836.7,234.7 832.3,239.3 828.2,242.9 832.8,243.7 838,246.2 841.8,247.5 840.5,254 839.2,260.4 838,266.8 834.1,272 830.2,275.8 825.1,279.7 819.9,283 817.4,281 818.6,277.1 822.5,273.3 826.4,269.4 824.6,266.8 820.4,268.1 817.4,265.5 814.8,263 810.9,261.7 808.3,257.3 805.8,252.2 800.6,249.6 794.2,249.6 790.3,254 787.8,259.1 783.9,262.5 780,265.5 782.7,263.7 778.8,261.1 771.1,261.9 763.4,262.4 754.4,260.3 747.9,258.5 742.8,255.9 737.6,254.7 733.8,257.7 726,259.3 718.3,261.9 713.2,264.4 710.6,264.4 708,262.9 702.9,259.8 697.7,257.2 692.6,254.7 688.7,249 683.6,245.6 678.4,246.4 672,243.8 665.5,241.3 659.1,243.8 651.4,244.9 647.5,248.2 646.2,255.9 638.5,256.7 630.8,255.2 623.1,254.7 615.3,257.2 612.8,262.4 612,267.5 612.8,272.7 615.3,279.1 614.1,283 617.1,286.8 615.8,288.6 613.2,287.6 610.2,285.6 606.7,284.6 603.2,283.6 599.7,282.6 596.7,280.5 593.7,278 591.2,276 590.2,273.5 591.7,270.2 594.8,267.6 595.8,265.1 596.3,262.6 593.8,261.1 590.3,260.1 587.3,259.1 584.3,257.6 582.7,254.6 580.7,252.1 577.7,252.6 574.7,253.3 575.2,250.1 577.7,249.1 577.2,246.6 574.7,243.6 573.7,240 570.2,238.5 566.7,238 565.2,235 566.2,231 566.7,228 566.2,225 566.7,224.6 570.7,223 573.1,221.4 570.7,219.8 568.3,219.3 570.7,216.6 573.1,213.4 575.2,209.4 574.3,204.6 572.3,198.9 570.7,194.1 571.5,189.3 570.7,184.5 569.1,180.5 569.9,176.5Z" fill="none" stroke="#000" stroke-width="0.75"/>
<path d="M624.3,154.6 626.8,148.1 629.4,141.7 633.3,134 637.1,127.5 643.6,122.4 651.3,118.5 657.7,114.7 662.9,112.9 666.7,114.7 665.4,118.5 660.3,121.1 653.9,125 648.7,128.8 644.9,134 641,140.4 638.4,146.8 635.8,153.3 634.6,159.7 637.1,163.6 633.3,165.6 628.1,162.3 625,158.4Z" fill="none" stroke="#000" stroke-width="0.75"/>
<path d="M723.4,68.3 725.9,63.7 731.1,61.9 735,65.7 735.7,72.2 733.7,76 728.5,77.3 724.7,74.8Z" fill="none" stroke="#000" stroke-width="0.75"/>
<path d="M725.9,79.9 732.4,78.1 738.8,78.1 742.7,82.5 741.4,88.9 737.5,92.8 732.4,91.5 728.5,87.6Z" fill="none" stroke="#000" stroke-width="0.75"/>
<path d="M741.4,99.2 744,91.5 747.8,86.9 753,90.2 754.8,95.3 750.4,99.7 745.2,103.1Z" fill="none" stroke="#000" stroke-width="0.75"/>
<path d="M717.7,62.7 720.8,62.7 720.8,64.5 717.7,64.5Z" fill="none" stroke="#000" stroke-width="0.75"/>
<path d="M690.4,65.7 693.8,66.5 692,67.8Z" fill="none" stroke="#000" stroke-width="0.75"/>
<path d="M683.5,83.2 687.3,84.3 684.8,85.3Z" fill="none" stroke="#000" stroke-width="0.75"/>
<path d="M756.8,99.7 760.7,101.3 758.1,102.3Z" fill="none" stroke="#000" stroke-width="0.75"/>
<path d="M714.4,110.8 716.9,110 715.6,113.4Z" fill="none" stroke="#000" stroke-width="0.75"/>
<path d="M731.1,112.1 733.7,111.6 732.6,114.7Z" fill="none" stroke="#000" stroke-width="0.75"/>
<path d="M668,143.7 671.9,143.7 672.4,146.8 668.8,146.8Z" fill="none" stroke="#000" stroke-width="0.75"/>
<path d="M615.8,172.6 619.1,170.8 620.9,173.9 617.8,176.4Z" fill="none" stroke="#000" stroke-width="0.75"/>
<path d="M769.7,135.8 773.6,134.7 774.3,137.8 771,138.9Z" fill="none" stroke="#000" stroke-width="0.75"/>
<path d="M831.5,126.2 834.9,121.1 839.2,121.9 841.8,123.7 843.6,121.1 847,123.7 851.3,126.2 850.3,130.6 845.7,132.2 841.8,130.6 838,134 834.1,132.7 832.3,129.6Z" fill="none" stroke="#000" stroke-width="0.75"/>
<path d="M853.9,127.5 858.5,127 863.7,128.8 865.8,131.4 861.1,133.2 856,131.4Z" fill="none" stroke="#000" stroke-width="0.75"/>
<path d="M839.2,141.7 843.1,140.4 847,143 847.7,145.5 843.1,145 840,143.5Z" fill="none" stroke="#000" stroke-width="0.75"/>
<path d="M932.7,160.5 937.1,157.9 942.2,158.9 940.9,162 936.3,163Z" fill="none" stroke="#000" stroke-width="0.75"/>
<path d="M753,92.8 755.1,94.1 754.3,98.7 753,99.2Z" fill="none" stroke="#000" stroke-width="0.75"/>
<path d="M756.6,99.2 760.2,100.2 758.7,101.8Z" fill="none" stroke="#000" stroke-width="0.75"/>
<path d="M753,106.9 756.1,108.2 755.6,111.6 753,112.1Z" fill="none" stroke="#000" stroke-width="0.75"/>
<path d="M769.7,136.5 773.1,135.2 774.1,138.3 771,139.9Z" fill="none" stroke="#000" stroke-width="0.75"/>
<path d="M843.1,248.8 845.2,247.5 847,254 848.8,260.4 850.3,265.5 847.7,266.8 845.7,273.3 843.6,269.4 843.6,263 843.1,255.2Z" fill="none" stroke="#000" stroke-width="0.75"/>
<path d="M876,262.5 874,264.3" fill="none" stroke="#000" stroke-width="1"/>
<path d="M871.9,266.1 869.4,268.1" fill="none" stroke="#000" stroke-width="1"/>
<path d="M867.6,270.2 864.2,272.2" fill="none" stroke="#000" stroke-width="1"/>
<path d="M862.4,273.8 858.5,276.4" fill="none" stroke="#000" stroke-width="1"/>
<path d="M902.3,241.9 903.9,243.7" fill="none" stroke="#000" stroke-width="1"/>
<path d="M525.1,88.9 527.2,82.5 531.6,79.1 536,81.2 538.5,85 540.6,78.6 544.5,74.8 548.3,73 550.4,76 547.8,81.2 545.2,86.3 547,91.5 550.4,94.6 548.8,100.5 545.7,101.8 544.5,97.9 541.9,104.4 540.6,112.1 538.5,115.9 535.4,109.5 531.6,104.4 527.7,97.9 525.1,92.8Z" fill="none" stroke="#000" stroke-width="0.75"/>
<path d="M525.6,87.4 527.1,87.9 527.9,88.3" fill="none" stroke="#000" stroke-width="0.7"/>
<path d="M526.1,85.8 527.7,85.7 529,85.5" fill="none" stroke="#000" stroke-width="0.7"/>
<path d="M526.7,84 527.2,84.2 528,84" fill="none" stroke="#000" stroke-width="0.7"/>
<path d="M527.4,82.3 527.7,83.1 527.4,83.5" fill="none" stroke="#000" stroke-width="0.7"/>
<path d="M528.8,81.2 529.7,81.2 530.3,81.6" fill="none" stroke="#000" stroke-width="0.7"/>
<path d="M529.8,80.5 530.7,80.7 531.5,81" fill="none" stroke="#000" stroke-width="0.7"/>
<path d="M531.4,79.3 532,80.7 532.6,81.6" fill="none" stroke="#000" stroke-width="0.7"/>
<path d="M532.7,79.6 532.1,80.3 531,80.4" fill="none" stroke="#000" stroke-width="0.7"/>
<path d="M534.4,80.5 534.2,81.3 534.3,82.5" fill="none" stroke="#000" stroke-width="0.7"/>
<path d="M536.1,81.4 534.8,81.8 533.8,81.6" fill="none" stroke="#000" stroke-width="0.7"/>
<path d="M537.2,83.1 537.2,83.5 536.7,83.9" fill="none" stroke="#000" stroke-width="0.7"/>
<path d="M538.5,84.9 538.1,86.3 537.6,87" fill="none" stroke="#000" stroke-width="0.7"/>
<path d="M538.9,83.8 539.9,84.1 540.2,84" fill="none" stroke="#000" stroke-width="0.7"/>
<path d="M539.2,82.8 539.9,82.7 541,82.4" fill="none" stroke="#000" stroke-width="0.7"/>
<path d="M539.6,81.7 540.9,82.2 542.3,82.3" fill="none" stroke="#000" stroke-width="0.7"/>
<path d="M539.9,80.6 541.5,80 542.9,79.9" fill="none" stroke="#000" stroke-width="0.7"/>
<path d="M540.4,79.3 541.9,81.1 543.4,82.1" fill="none" stroke="#000" stroke-width="0.7"/>
<path d="M540.9,78.3 541.3,79.3 541.5,80.5" fill="none" stroke="#000" stroke-width="0.7"/>
<path d="M542.5,76.7 543.5,77 544,77.5" fill="none" stroke="#000" stroke-width="0.7"/>
<path d="M543.5,75.8 544.2,75.8 544.7,76.1" fill="none" stroke="#000" stroke-width="0.7"/>
<path d="M544.8,74.7 545.6,75.7 545.8,76.6" fill="none" stroke="#000" stroke-width="0.7"/>
<path d="M546.3,73.9 547.7,75.5 549.2,76.3" fill="none" stroke="#000" stroke-width="0.7"/>
<path d="M548.1,73.1 549,74 549.5,74.3" fill="none" stroke="#000" stroke-width="0.7"/>
<path d="M548.9,73.8 546.7,73.9 544.9,74.1" fill="none" stroke="#000" stroke-width="0.7"/>
<path d="M549.5,74.7 548.7,74.8 548.3,74.7" fill="none" stroke="#000" stroke-width="0.7"/>
<path d="M550.2,75.8 548.4,76.5 547,77.4" fill="none" stroke="#000" stroke-width="0.7"/>
<path d="M549.7,77.4 549,77.6 548.4,77.3" fill="none" stroke="#000" stroke-width="0.7"/>
<path d="M548.9,79 548.2,77.8 547.9,77.3" fill="none" stroke="#000" stroke-width="0.7"/>
<path d="M548.3,80.2 546.8,80.3 545.9,80.5" fill="none" stroke="#000" stroke-width="0.7"/>
<path d="M547.6,81.7 547,81.7 546.2,81.3" fill="none" stroke="#000" stroke-width="0.7"/>
<path d="M546.7,83.3 545.1,82 544.1,81.5" fill="none" stroke="#000" stroke-width="0.7"/>
<path d="M546.3,84.2 545,82.4 543.5,81.5" fill="none" stroke="#000" stroke-width="0.7"/>
<path d="M545.5,85.7 544.4,85 543.7,83.9" fill="none" stroke="#000" stroke-width="0.7"/>
<path d="M545.3,86.7 544.1,86.8 542.6,86.7" fill="none" stroke="#000" stroke-width="0.7"/>
<path d="M545.9,88.5 544,88.1 542.5,87.6" fill="none" stroke="#000" stroke-width="0.7"/>
<path d="M546.6,90.5 544.9,91.6 543.3,92.1" fill="none" stroke="#000" stroke-width="0.7"/>
<path d="M547.4,91.9 546.6,93.3 545.8,94.4" fill="none" stroke="#000" stroke-width="0.7"/>
<path d="M548.2,92.6 546.8,93 545.2,93" fill="none" stroke="#000" stroke-width="0.7"/>
<path d="M549.3,93.6 547.9,95 546.8,95.8" fill="none" stroke="#000" stroke-width="0.7"/>
<path d="M550.1,94.3 550,96.2 549.8,97.7" fill="none" stroke="#000" stroke-width="0.7"/>
<path d="M550.2,95.4 548.5,95.2 547.1,94.6" fill="none" stroke="#000" stroke-width="0.7"/>
<path d="M549.8,96.6 549.4,96.5 548.8,96.7" fill="none" stroke="#000" stroke-width="0.7"/>
<path d="M549.5,97.8 547.6,97 546.1,96" fill="none" stroke="#000" stroke-width="0.7"/>
<path d="M549.2,99.1 547.4,99.6 546.1,99.6" fill="none" stroke="#000" stroke-width="0.7"/>
<path d="M548.2,100.8 547.1,98.9 546.2,97.6" fill="none" stroke="#000" stroke-width="0.7"/>
<path d="M547.1,101.2 547.4,99.9 547.3,98.6" fill="none" stroke="#000" stroke-width="0.7"/>
<path d="M545.5,101.2 546.2,100.3 546.9,99.9" fill="none" stroke="#000" stroke-width="0.7"/>
<path d="M545.2,100 546.4,99.7 547.5,99.7" fill="none" stroke="#000" stroke-width="0.7"/>
<path d="M544.6,98.1 546.4,97 548.4,96.6" fill="none" stroke="#000" stroke-width="0.7"/>
<path d="M543.9,99.4 543.4,98.9 543,98.7" fill="none" stroke="#000" stroke-width="0.7"/>
<path d="M543.2,101.2 542.5,101 542.1,101.4" fill="none" stroke="#000" stroke-width="0.7"/>
<path d="M542.4,103.1 541.2,103.3 540.7,103.3" fill="none" stroke="#000" stroke-width="0.7"/>
<path d="M541.9,104.5 540.5,104.2 539.1,103.4" fill="none" stroke="#000" stroke-width="0.7"/>
<path d="M541.6,106.3 540.5,105.9 539.9,106.1" fill="none" stroke="#000" stroke-width="0.7"/>
<path d="M541.3,107.9 539.4,108.3 538.2,108.8" fill="none" stroke="#000" stroke-width="0.7"/>
<path d="M541,109.7 539.8,109.2 538.5,108.8" fill="none" stroke="#000" stroke-width="0.7"/>
<path d="M540.7,111.7 539,112.6 537.1,113.2" fill="none" stroke="#000" stroke-width="0.7"/>
<path d="M540.3,112.7 539.5,111.8 538.4,111.1" fill="none" stroke="#000" stroke-width="0.7"/>
<path d="M539.5,114.2 538.5,112.5 537.2,111.2" fill="none" stroke="#000" stroke-width="0.7"/>
<path d="M538.6,115.7 538.1,115.1 537.4,114.5" fill="none" stroke="#000" stroke-width="0.7"/>
<path d="M537.8,114.5 539,114.8 539.5,114.6" fill="none" stroke="#000" stroke-width="0.7"/>
<path d="M537.1,113 538.8,111.9 539.8,110.7" fill="none" stroke="#000" stroke-width="0.7"/>
<path d="M536.5,111.7 537.1,111.5 537.6,111.1" fill="none" stroke="#000" stroke-width="0.7"/>
<path d="M535.8,110.3 536.1,110.5 536.9,110.3" fill="none" stroke="#000" stroke-width="0.7"/>
<path d="M535.2,109.3 536.1,108.8 537.2,108.8" fill="none" stroke="#000" stroke-width="0.7"/>
<path d="M534.2,108 536.2,107.9 537.5,107.4" fill="none" stroke="#000" stroke-width="0.7"/>
<path d="M533.3,106.7 533.9,104.6 534.7,102.9" fill="none" stroke="#000" stroke-width="0.7"/>
<path d="M532.5,105.6 534.2,105 535.5,104.2" fill="none" stroke="#000" stroke-width="0.7"/>
<path d="M531.5,104.3 532.6,103.8 533,102.9" fill="none" stroke="#000" stroke-width="0.7"/>
<path d="M530.9,103.2 532.9,103.5 534.6,103.6" fill="none" stroke="#000" stroke-width="0.7"/>
<path d="M530.3,102.2 531.6,101.1 532.6,100.8" fill="none" stroke="#000" stroke-width="0.7"/>
<path d="M529.1,100.3 530.4,99.4 531.2,98.6" fill="none" stroke="#000" stroke-width="0.7"/>
<path d="M528.3,98.9 529.1,97.3 529.6,96" fill="none" stroke="#000" stroke-width="0.7"/>
<path d="M527.2,97 528.7,95.2 530,94.2" fill="none" stroke="#000" stroke-width="0.7"/>
<path d="M526.6,95.7 528.5,95.7 530.1,96" fill="none" stroke="#000" stroke-width="0.7"/>
<path d="M526,94.6 527.4,95 529,94.9" fill="none" stroke="#000" stroke-width="0.7"/>
<path d="M525.6,93.7 526.3,92.9 526.6,92.5" fill="none" stroke="#000" stroke-width="0.7"/>
<path d="M525.1,92.4 526.6,91.3 527.6,90.8" fill="none" stroke="#000" stroke-width="0.7"/>
<path d="M525.1,90.8 526,90.3 526.8,90" fill="none" stroke="#000" stroke-width="0.7"/>
<path d="M525.1,89.3 526.2,89.2 527.4,89.4" fill="none" stroke="#000" stroke-width="0.7"/>
<path d="M548.8,72.2 553.5,70.4 558.6,71.9 564.3,74 566.9,77.3 563.2,81.7 558.1,85 553,86.3 550.4,82.5 551.4,77.3Z" fill="none" stroke="#000" stroke-width="0.75"/>
<path d="M550.5,71.6 550.7,72.4 550.8,73.5" fill="none" stroke="#000" stroke-width="0.7"/>
<path d="M551.5,71.2 552.3,72 552.6,72.5" fill="none" stroke="#000" stroke-width="0.7"/>
<path d="M553.3,70.5 553.3,71.6 553.6,72.6" fill="none" stroke="#000" stroke-width="0.7"/>
<path d="M554.6,70.7 555.3,72 555.5,73.5" fill="none" stroke="#000" stroke-width="0.7"/>
<path d="M556.6,71.3 556.6,71.9 556.3,72.9" fill="none" stroke="#000" stroke-width="0.7"/>
<path d="M557.7,71.6 557,73.5 556.8,74.5" fill="none" stroke="#000" stroke-width="0.7"/>
<path d="M560,72.4 559.6,72.9 559.7,73.5" fill="none" stroke="#000" stroke-width="0.7"/>
<path d="M561.8,73.1 561.2,73.4 561.1,74.1" fill="none" stroke="#000" stroke-width="0.7"/>
<path d="M564,73.9 563.8,74.8 563.5,75.6" fill="none" stroke="#000" stroke-width="0.7"/>
<path d="M565.1,75 564.9,75.5 564.3,75.3" fill="none" stroke="#000" stroke-width="0.7"/>
<path d="M566.3,76.6 565.9,77.4 565.3,77.9" fill="none" stroke="#000" stroke-width="0.7"/>
<path d="M566.7,77.6 566,77.4 565.5,76.9" fill="none" stroke="#000" stroke-width="0.7"/>
<path d="M565.5,78.9 565.3,78.5 565.2,78.2" fill="none" stroke="#000" stroke-width="0.7"/>
<path d="M564.6,80 563.9,79.3 563,79.1" fill="none" stroke="#000" stroke-width="0.7"/>
<path d="M563.4,81.5 562.8,80.8 562.7,80.4" fill="none" stroke="#000" stroke-width="0.7"/>
<path d="M562.1,82.4 560.9,81.7 560,81.5" fill="none" stroke="#000" stroke-width="0.7"/>
<path d="M560.9,83.2 561,82.4 561,81.2" fill="none" stroke="#000" stroke-width="0.7"/>
<path d="M559.8,83.9 558.5,82.9 557.7,81.7" fill="none" stroke="#000" stroke-width="0.7"/>
<path d="M557.7,85.1 557.7,84.6 557.3,84.4" fill="none" stroke="#000" stroke-width="0.7"/>
<path d="M556.3,85.4 556.1,85.5 555.7,84.9" fill="none" stroke="#000" stroke-width="0.7"/>
<path d="M553.9,86.1 552.9,85.6 552.3,84.8" fill="none" stroke="#000" stroke-width="0.7"/>
<path d="M552.2,85.2 553,84.1 553.5,83.3" fill="none" stroke="#000" stroke-width="0.7"/>
<path d="M551.1,83.6 552.1,83.4 552.6,83.6" fill="none" stroke="#000" stroke-width="0.7"/>
<path d="M550.4,82.3 552.3,82.1 553.3,81.9" fill="none" stroke="#000" stroke-width="0.7"/>
<path d="M550.8,80.2 552,79.8 553.3,79.7" fill="none" stroke="#000" stroke-width="0.7"/>
<path d="M551.2,78.2 552.7,77.7 553.6,77.4" fill="none" stroke="#000" stroke-width="0.7"/>
<path d="M551.2,76.9 552.2,77.1 553,77.2" fill="none" stroke="#000" stroke-width="0.7"/>
<path d="M550.1,74.7 551.7,74.6 553.2,74.4" fill="none" stroke="#000" stroke-width="0.7"/>
<path d="M549,72.6 550.3,72 551.5,71.7" fill="none" stroke="#000" stroke-width="0.7"/>
<path d="M550.9,94.6 554.8,93 558.1,96.1 558.6,101.8 556,105.9 551.9,106.4 549.9,101.8Z" fill="none" stroke="#000" stroke-width="0.75"/>
<path d="M575.3,76 580.5,74.5" fill="none" stroke="#000" stroke-width="0.75"/>
<path d="M563.8,92 567.6,90.5 571,91" fill="none" stroke="#000" stroke-width="0.75"/>
<path d="M559.9,115.9 561.2,114.1" fill="none" stroke="#000" stroke-width="0.75"/>
<path d="M513,225.4 511.4,220.6 510.6,215.8 512.2,211.8 515.4,208.6 519.4,205.4 523.4,201.4 525.8,197.3 528.2,192.5 530.6,187.7 533,183.7 531.4,180.5 534.6,176.5 538.6,173.3 542.6,170.1 546.7,166.9 551.5,164.4 556.3,161.6 561.1,160.4 565.9,161.2 570.7,162.8 573.9,165.2 574.7,167.7 571.5,170.1 569.1,172.5 569.9,176.5 569.1,180.5 570.7,184.5 571.5,189.3 570.7,194.1 572.3,198.9 574.3,204.6 575.2,209.4 573.1,213.4 570.7,216.6 568.3,219.3 564.3,220.3 559.5,221.4 555.5,221.9 552.3,220.6 550.7,217.4 549.9,213.4 550.2,209.4 551.5,205.4 553.9,202.2 557.1,199.7 560.3,197.3 559.5,194.9 556.3,194.1 553.1,195.7 550.7,198.9 549.9,203 547.5,206.2 544.3,208.6 541.8,211.8 541,215.8 540.2,219.8 541,223 543.5,225.4 542.6,228.6 540.2,231 538.6,234.3 537.8,237.5 535.4,239.9 533,241.5 530.6,240.7 529.3,237.5 528.2,233.5 527.1,229.4 525.8,226.2 523.4,225.1 521,227.8 517.8,229.4 514.6,228.6Z" fill="none" stroke="#000" stroke-width="0.75"/>
<path d="M527.4,229.4 529,225.4 529.8,220.6 529.3,215.8 528.7,211 529,206.2 531.4,201.4 533.8,196.5 535.4,191.7 538.6,187.7 541.8,183.7 545.1,180.5 548.3,177.3 550.7,174.9 554.7,176.5 557.9,174.1 561.1,175.7 562.7,172.5 565.1,169.3 569.1,168.5 572.3,169.3" fill="none" stroke="#000" stroke-width="0.75"/>
<path d="M554.7,176.5 556.3,180.5 556,184.5 557.1,189.3 557.9,194.1 559.2,195.7" fill="none" stroke="#000" stroke-width="0.75"/>
<path d="M511.7,219 513.8,214.2 512.6,211.8 516.2,209.4 515.4,207 519.7,205.4 521,202.2 524.2,201 523.9,197.8 526.6,196.5 526.1,193.3 529,192 528.7,188.5 531.4,187.2 530.6,184 533.5,183.4 532.2,180.5 535.4,178.9 535.1,176.5 539,175.7 539.4,172.8 543.1,172.1 543.5,169.6 547.5,168.9 547.9,166.4 552.3,166 553.1,163.6 557.1,163.6 557.9,161.2 561.9,162.5 562.7,160.6 566.7,162.8 570.7,163.2 572.3,165.7" fill="none" stroke="#000" stroke-width="1.6"/>
<path d="M511,215.8 513,212.9 514.6,210.2 517.5,207.5 520.7,204.2 523.4,199.7 525.8,195.7 528.2,190.9 530.6,186.6 532.5,182.1 535.4,177.6 539.4,174.1 543.5,170.9 547.9,167.7 552.8,164.8 557.9,162.2" fill="none" stroke="#000" stroke-width="1.4"/>
<path d="M473,248 475,245.5 478.1,244 480.6,243 482.6,244.5 484.1,247 483.6,250 481.6,252.6 478.6,254.1 475.5,254.6 473,253.6 474,251Z" fill="none" stroke="#000" stroke-width="1.1"/>
<path d="M480.6,243 482.6,241.5 485.1,242.5 485.1,245 483.6,246 482.6,244.5Z" fill="none" stroke="#000" stroke-width="1.0"/>
<path d="M486.3,229 488.6,228 491.6,225.5 492.3,228 491.1,231 493.6,232 493.1,235 494.1,237 493.6,239.5 495.1,241 497.6,244 499.3,247 500.6,250 502.6,251.5 503.1,254.1 501.3,256.1 498.6,257.3 495.6,257.9 492.6,258.6 489.1,259.6 485.1,260.9 487.6,258.6 490.1,256.6 488.1,255.1 486.3,254.1 488.6,252.1 490.1,250 489.6,248 490.6,245.5 489.1,244 487.6,242 486.3,240 485.1,237.5 485.6,235 484.6,233 485.9,231Z" fill="none" stroke="#000" stroke-width="1.1"/>
<path d="M490.2,246.5 490.3,246.7 490.8,246.9" fill="none" stroke="#000" stroke-width="0.7"/>
<path d="M490.1,245 490.9,243.8 491.5,243.4" fill="none" stroke="#000" stroke-width="0.7"/>
<path d="M489,243.9 489.8,243.9 490.4,243.7" fill="none" stroke="#000" stroke-width="0.7"/>
<path d="M488.1,242.7 488.8,242.5 489.1,242.5" fill="none" stroke="#000" stroke-width="0.7"/>
<path d="M487.5,241.8 488.4,241.4 488.8,240.9" fill="none" stroke="#000" stroke-width="0.7"/>
<path d="M486.6,240.5 487,239.6 487.9,239.3" fill="none" stroke="#000" stroke-width="0.7"/>
<path d="M485.6,238.6 486.8,237.7 487.3,237.1" fill="none" stroke="#000" stroke-width="0.7"/>
<path d="M485.1,237.6 486.6,237.3 487.3,236.8" fill="none" stroke="#000" stroke-width="0.7"/>
<path d="M485.3,236.5 486.4,237 486.8,237.6" fill="none" stroke="#000" stroke-width="0.7"/>
<path d="M485.6,234.9 486.4,234.2 486.7,233.3" fill="none" stroke="#000" stroke-width="0.7"/>
<path d="M485.1,234 485.7,233.5 486.5,232.9" fill="none" stroke="#000" stroke-width="0.7"/>
<path d="M485.2,232.1 486.1,232.3 486.9,232.2" fill="none" stroke="#000" stroke-width="0.7"/>
<path d="M486.1,230.1 487.4,229.7 487.9,229.3" fill="none" stroke="#000" stroke-width="0.7"/>
<path d="M486.3,229.1 486.8,228.7 487.1,228.8" fill="none" stroke="#000" stroke-width="0.7"/>
<path d="M481.3,230.2 482.5,232 481.5,233.5" fill="none" stroke="#000" stroke-width="1.2"/>
<path d="M495.1,220 495.7,221.8" fill="none" stroke="#000" stroke-width="1.2"/>
<path d="M488.5,266.3 491.5,265.1 495.1,263.9 494.5,261.5 497.5,261.5 500.6,260.3 503,257.9 506.6,259.1 509.6,260.9 512.6,262.7 516.2,264.5 518,266.3 517.4,268.7 515.6,270.6 514.4,273 515.6,275.4 516.2,278.4 515.6,280.8 513.2,282 510.2,282.6 507.2,281.4 505.4,280.2 503,281.4 500.6,282.6 497.5,282.3 495.7,281.4 495.5,277.8 494.5,274.2 493.3,271.2 491.5,268.7 489.1,267.5Z" fill="none" stroke="#000" stroke-width="0.75"/>
<path d="M476.5,283.2 478.9,281.4 483.7,281.4 489.7,282 495.1,282.6 499.3,284.4 503.6,285.4 506.6,286.2 504.8,288.7 501.8,290.5 499.3,292.3 498.1,295.3 497.5,297.7 495.7,299.5 492.1,301.1 488.5,301.9 485.5,302.7 484.3,301.5 482.5,300.1 481.5,298.3 481.9,295.3 482.5,291.7 482.7,288.1 481.9,286.2 478.3,286.2 477.1,285Z" fill="none" stroke="#000" stroke-width="0.75"/>
<path d="M477.1,286.2 481.9,286.2 482.7,288.1 482.5,291.7 481.9,295.3 481.5,298.3 481.9,300.1 478.9,300.3 477.1,299.8 476.7,297.1 475.9,294.1 477.1,291.1 477.4,288.1Z" fill="none" stroke="#000" stroke-width="0.75"/>
<path d="M501.8,294.1 503,293.6" fill="none" stroke="#000" stroke-width="1.2"/>
<path d="M504.8,293.1 507.2,292.1" fill="none" stroke="#000" stroke-width="1.6"/>
<path d="M507.8,291.7 508.7,291.4" fill="none" stroke="#000" stroke-width="1.2"/>
<path d="M504.6,257.6 507.1,255.6 509.1,253.1 510.2,251 511.7,249 514.2,248 515.7,248.5 515.2,251.5 514.7,254.6 514.2,257.6 515,260.6 516.7,263.6 515.2,263.1 512.2,262.1 509.6,260.6 507.1,259.1Z" fill="none" stroke="#000" stroke-width="0.75"/>
<path d="M509.1,253.6 512.2,254.1 514.7,254.6" fill="none" stroke="#000" stroke-width="0.75"/>
<path d="M515,260.6 516.2,261.3 516.7,263.6" fill="none" stroke="#000" stroke-width="0.75"/>
<path d="M515.7,248.5 517.7,247 520.2,246 521.2,244 524.2,244.5 526.7,245.5 529.2,245 532.2,246 533.7,248 534.2,251 534,254.1 534.7,257.1 532.2,258.1 529.7,259.1 528.7,260.6 530.2,262.6 531.7,264.6 530.2,266.1 528.2,267.1 525.2,267.6 522.2,267.9 519.7,268.1 518.7,265.1 517.7,264.1 516.7,263.6 515,260.6 514.2,257.6 514.7,254.6 515.2,251.5Z" fill="none" stroke="#000" stroke-width="0.75"/>
<path d="M519.1,235 521.1,233.5 522.6,233 523.1,235 522.6,238 523.3,241 522.6,244.1 520.6,244.6 519.6,242.1 518.9,239Z" fill="none" stroke="#000" stroke-width="0.75"/>
<path d="M524.1,240 526.6,239 528.1,240.5 527.1,242.6 525.1,243.1Z" fill="none" stroke="#000" stroke-width="0.75"/>
<path d="M534.1,246.6 537.1,245.1 540.1,244.1 543.1,243.1 546.1,243.6 549.1,244.6 552.2,244.6 554.7,245.6 556.2,247.6 556.7,250.6 556.2,253.6 557.2,256.1 556.2,259.1 554.7,261.6 553.2,263.1 550.7,262.6 548.1,262.1 545.6,262.6 543.6,261.6 541.1,260.1 538.6,259.1 536.1,257.6 534.9,255.1 534.3,251.6 533.9,249.1Z" fill="none" stroke="#000" stroke-width="0.75"/>
<path d="M528.6,260.1 530.1,258.6 533.1,257.9 535.6,257.3 538.6,259.1 541.1,260.1 543.6,261.6 542.6,263.6 540.6,265.3 537.5,266.1 535.1,266.5 532.3,266.7 530.6,265.1 529.9,262.6Z" fill="none" stroke="#000" stroke-width="0.75"/>
<path d="M539.2,263.9 541.7,262.6 544.8,261.6 547.3,261.3 550.3,261.8 552.8,262.3 553.9,264.4 553.1,267.2 551.5,266 548.7,266.4 545.5,267.2 542.7,268 540.3,268.8 539.5,267.6Z" fill="none" stroke="#000" stroke-width="0.75"/>
<path d="M550.7,239.5 553.2,238 556.2,237.5 559.2,238 562.2,240 563.2,241.5 561.7,243.6 559.7,245.1 557.7,246.3 555.7,245.6 554.2,244.1 552.2,243.6 549.6,244.1 548.1,243.1 549.1,241.5 550.7,241Z" fill="none" stroke="#000" stroke-width="0.75"/>
<path d="M548.1,243.1 549.6,244.1 552.2,243.6 554.2,244.1 554.7,245.6 552.2,245.1 549.1,244.9Z" fill="none" stroke="#000" stroke-width="0.75"/>
<path d="M550.2,235 553.2,233.5 556.2,234 557.7,235 559.2,233 562.2,233.5 565.2,235 566.7,238 564.2,239 562.2,240 559.2,238 556.2,237.5 553.2,238 550.7,239.5 549.9,237Z" fill="none" stroke="#000" stroke-width="0.75"/>
<path d="M554.7,227 556.2,225 559.2,224.2 563.2,223.8 566.2,225 566.7,228 566.2,231 563.2,232 560.2,231 559.2,232.5 557.2,231.5 555.2,230Z" fill="none" stroke="#000" stroke-width="0.75"/>
<path d="M551.7,228 553.7,227.5 554,229.2 552.2,229.8Z" fill="none" stroke="#000" stroke-width="0.75"/>
<path d="M552.2,225.5 553.7,225 554,226.4 552.6,226.8Z" fill="none" stroke="#000" stroke-width="0.75"/>
<path d="M563.2,241.5 566.2,239 570.2,238.5 573.7,240 574.7,243.6 577.2,246.6 577.7,249.1 575.2,250.1 574.7,253.1 572.2,255.1 569.2,254.6 565.7,254.1 562.2,253.6 559.2,253.1 556.7,253.6 556.2,250.6 556.7,247.6 557.7,246.3 559.7,245.1 561.7,243.6Z" fill="none" stroke="#000" stroke-width="0.75"/>
<path d="M556.7,254.1 559.2,253.3 562.2,253.8 565.7,254.3 569.2,254.8 572.2,255.3 574.7,253.3 577.7,252.6 580.7,252.1 582.7,254.6 584.3,257.6 587.3,259.1 590.3,260.1 593.8,261.1 596.3,262.6 595.8,265.1 594.8,267.6 592.3,269.6 589.8,270.6 587.3,272.1 584.3,272.9 581.2,273.6 578.7,273.1 576.2,272.1 574.2,273.1 572.2,275.7 570.7,275.2 571.7,273.1 570.7,270.6 569.2,268.1 566.7,266.1 564.7,266.9 561.7,267.6 558.2,268.1 554.7,267.6 553.7,266.1 553,263.6 554.7,261.6 556.2,259.1 557.2,256.1Z" fill="none" stroke="#000" stroke-width="0.75"/>
<path d="M579.2,274.6 581.7,273.6 584.3,274.6 585.8,276.2 583.8,277.2 581.7,279.2 580.2,277.2Z" fill="none" stroke="#000" stroke-width="0.75"/>
<path d="M515.4,274 517,272.4 515,271.2 515.8,269.6 517.8,268.8 519.8,269.6 522.3,270 525.1,269.6 527.9,269.2 530.3,269.6 532.3,270.8 533.1,272.8 531.9,274 530.3,275.2 529.1,276.4 529.9,278 531.5,280.1 533.5,282.1 535.9,284.5 538.3,286.5 540.7,288.5 542.7,290.1 543.5,292.1 542.3,292.5 540.7,290.9 539.1,290.1 539.5,292.1 540.3,294.1 539.5,296.1 538.3,297.7 537.1,296.5 537.5,294.5 537.1,292.5 535.9,290.5 533.9,288.5 531.5,286.5 529.1,284.5 527.1,282.5 525.5,280.5 523.9,279.3 521.9,278.4 519.4,278.4 517,279.3 515.8,277.6 515,275.6Z" fill="none" stroke="#000" stroke-width="0.75"/>
<path d="M529.1,297.7 531.1,297.3 533.5,297.3 535.9,296.9 535.5,298.9 534.3,300.9 532.3,300.1 530.3,299.1Z" fill="none" stroke="#000" stroke-width="0.75"/>
<path d="M518.6,289.7 520.6,288.9 522.3,289.7 522.3,292.5 521.4,294.9 519.8,295.3 518.8,293.3Z" fill="none" stroke="#000" stroke-width="0.75"/>
<path d="M519.4,284.9 521,283.7 521.9,285.3 521.4,287.7 520.2,288.1 519.4,286.5Z" fill="none" stroke="#000" stroke-width="0.75"/>
<path d="M515,271.2 515.8,269.6 517.8,268.8 519.8,269.6 521,268.8 522.3,270 520.6,271.6 518.6,272.4 516.6,272.8Z" fill="none" stroke="#000" stroke-width="0.75"/>
<path d="M522.3,270 521,268.8 523.5,267.6 526.3,266.8 529.1,266.4 532.3,266.8 535.1,266.4 537.5,266 539.5,267.6 538.7,270 536.7,271.2 533.9,271.5 531.5,271 529.1,270 527.9,269.2 525.1,269.6Z" fill="none" stroke="#000" stroke-width="0.75"/>
<path d="M532.3,270.8 533.9,271.5 536.7,271.2 537.5,272.8 535.9,274 533.9,274 532.7,273.2Z" fill="none" stroke="#000" stroke-width="0.75"/>
<path d="M533.9,274.2 535.9,274.2 537.9,273.1 540.3,272 542.7,273.2 545.1,273.6 545.5,274.8 544.3,275.8 541.5,275.6 538.7,275.8 537.9,277.2 539.1,279.3 541.1,281.7 543.1,283.7 544.3,284.9 542.7,284.5 540.7,282.7 538.7,280.6 536.7,278.4 535.1,276.4Z" fill="none" stroke="#000" stroke-width="0.75"/>
<path d="M538.7,270 540.3,268.8 542.7,268 545.5,267.2 548.7,266.4 551.5,266 553.1,267.2 552.3,269.2 550.7,271.2 548.7,272.8 545.9,273.9 543.5,273.9 541.1,272.4 539.5,271.5Z" fill="none" stroke="#000" stroke-width="0.75"/>
<path d="M538.1,277.2 538.9,275.8 541.5,275.8 544.3,276 545.1,277.6 544.7,280.1 543.9,282.5 542.7,283.5 541.1,281.7 539.3,279.3Z" fill="none" stroke="#000" stroke-width="0.75"/>
<path d="M545.5,274.8 546.7,274 548.7,273 549.9,274 551.1,276 552.7,278 553.9,280.1 553.5,282.5 552.3,284.5 550.3,285.3 548.3,284.9 546.7,283 546.3,280.9 545.5,278.4 545.4,276.4Z" fill="none" stroke="#000" stroke-width="0.75"/>
<path d="M550.7,271.2 552.3,269.2 553.9,268 556.8,268.4 560,267.6 562.8,266.8 564.8,268 566,270.4 567.2,272.8 568.4,275.2 569.2,277.2 568,278.4 567.6,280.1 564.8,280.9 561.6,281.3 558.8,280.9 556.4,279.8 554.3,278 552.7,276 551.5,274Z" fill="none" stroke="#000" stroke-width="0.75"/>
<path d="M564.8,268 566.4,266.8 568.4,268.4 570,270.8 571.2,273.2 570,275.2 568.8,274 567.6,272 566.4,270Z" fill="none" stroke="#000" stroke-width="0.75"/>
<path d="M553.9,280.1 555.2,281.3 558.8,281 561.6,281.4 564.8,281 567.2,280.3 566.8,282.5 566,284.9 566.4,286.1 564,286.9 561.2,287.5 558.4,287.7 556,287 553.9,286.1 552.7,284.5 553.5,282.5Z" fill="none" stroke="#000" stroke-width="0.75"/>
<path d="M543.9,282.7 545.5,282.1 546.7,283.3 547.5,284.9 546.3,286.1 545.1,285.3Z" fill="none" stroke="#000" stroke-width="0.75"/>
<path d="M546.3,286.1 547.9,285.3 548.7,287.7 549.1,290.1 548.3,292.5 547.1,291.7 546.3,289.3Z" fill="none" stroke="#000" stroke-width="0.75"/>
<path d="M549,286.1 551.1,285.4 553.1,286.1 554.1,287.5 552.3,288.9 549.9,289.3 549,287.8Z" fill="none" stroke="#000" stroke-width="0.75"/>
<path d="M547.5,283.7 549,283.3 549.9,284.9 548.7,285.9 547.7,285.1Z" fill="none" stroke="#000" stroke-width="0.75"/>
<path d="M548.3,292.7 549.3,290.2 550.1,289.4 552.5,289 554.3,287.7 556.4,287.3 558.8,287.8 561.3,287.7 564,287 564.8,288.5 562.4,289.3 560.4,289.7 558,289.4 556.4,290.1 556.8,291.7 555.2,292.3 553.5,291.5 554.1,293.5 555.6,294.9 553.9,295.5 555.2,297.7 556.4,299.3 554.3,300.1 553.1,302 551.7,299.7 550.7,297.7 550.1,295.5 549.1,294.1Z" fill="none" stroke="#000" stroke-width="1.1"/>
<path d="M556,304.9 558.4,305.2 561.2,305.7 564,305.3 564.4,306.1 561.2,306.8 558,306.3 556.2,305.7Z" fill="none" stroke="#000" stroke-width="1.2"/>
<path d="M556.4,292.9 557.6,294.1" fill="none" stroke="#000" stroke-width="0.9"/>
<path d="M558.4,292.1 559.6,293.5" fill="none" stroke="#000" stroke-width="0.9"/>
<path d="M560.4,294.1 561.2,295.7" fill="none" stroke="#000" stroke-width="0.9"/>
<path d="M558,296.5 559.2,297.7" fill="none" stroke="#000" stroke-width="0.9"/>
<path d="M561.2,298.1 562.4,299.7" fill="none" stroke="#000" stroke-width="0.9"/>
<path d="M559.6,300.5 560.4,301.3" fill="none" stroke="#000" stroke-width="0.9"/>
<path d="M562.8,295.7 563.4,296.9" fill="none" stroke="#000" stroke-width="0.9"/>
<path d="M557.2,299.3 558,300.1" fill="none" stroke="#000" stroke-width="0.9"/>
<path d="M562.4,291.3 563.2,292.5" fill="none" stroke="#000" stroke-width="0.9"/>
<path d="M564,302.1 564.8,303.7" fill="none" stroke="#000" stroke-width="0.9"/>
<path d="M564,287 566.4,286.2 568.4,287.3 569.6,288.9 567.2,289.7 565.2,289.3Z" fill="none" stroke="#000" stroke-width="0.75"/>
<path d="M563.6,292.1 566.1,291.3 568.6,290.1 571.6,289.1 575.1,287.9 579.1,286.9 583.2,287.3 586.7,288.6 590.2,289.6 594.2,289.1 597.7,288.3 600.2,287.6 603.7,287.9 606.2,288.9 606.7,290.9 608.2,292.3 607.2,294.6 606.2,297.1 606.7,299.6 604.7,300.1 601.7,299.6 599.2,300.6 596.2,301.1 592.7,301.3 590.2,300.9 587.2,302.3 585.7,303.6 584.2,301.9 581.2,302.9 578.1,302.3 575.1,302.9 572.1,302.1 570.1,300.6 567.6,299.6 565.6,297.6 564.1,295.1Z" fill="none" stroke="#000" stroke-width="0.75"/>
<path d="M598.8,283 601.5,283.3 605,284.3 608.6,285 610.6,286.8 609.8,288.3 607.1,288.1 604.5,287.8 601.5,287.3 600,285.8Z" fill="none" stroke="#000" stroke-width="0.75"/>
<path d="M605,289.3 607.1,288.4 609.1,289.5 610.1,291.8 609.8,294.3 608.1,294.1 606.5,293.1 605.5,291.3 604.8,290Z" fill="none" stroke="#000" stroke-width="0.75"/>
<path d="M610.6,286.9 612.1,288 614.6,289 617.1,288.1 618.8,290 619.6,291.5 618.1,293.1 617.3,295.1 615.6,294.8 613.6,294.3 611.6,294.8 610.1,291.8 609.3,289.8 609.8,288.3Z" fill="none" stroke="#000" stroke-width="0.75"/>
<path d="M577.1,305.9 579.6,304.9 582.2,304.3 581.2,305.9 579.1,306.9 577.6,306.7Z" fill="none" stroke="#000" stroke-width="0.75"/>
<path d="M612.8,262.4 615.3,257.2 623.1,254.7 630.8,255.2 638.5,256.7 646.2,255.9 647.5,248.2 651.4,244.9 659.1,243.8 665.5,241.3 672,243.8 678.4,246.4 683.6,245.6 688.7,249 692.6,254.7 697.7,257.2 702.9,259.8 708,262.9 710.6,264.4 706.7,268.8 701.1,272.2 697.7,277.3 693.9,280.9 692.6,284.3 686.1,284.3 679.7,285 674.6,286.1 669.4,288.1 663,287.6 657.8,284.3 652.7,281.7 646.2,279.9 639.8,277.3 635.2,276.5 634.7,281.7 634.7,286.8 629.5,288.1 628.2,281.7 625.6,276.5 627.4,272.2 621.8,271.4 617.9,274 615.3,279.1 612.8,272.7 612,267.5Z" fill="none" stroke="#000" stroke-width="0.75"/>
<path d="M713.2,264.4 718.3,261.9 726,259.3 733.8,257.7 737.6,254.7 742.8,255.9 747.9,258.5 754.4,260.3 763.4,262.4 771.1,261.9 778.8,261.1 782.7,263.7 781.9,267 786.5,268 789.1,270.6 784,272.7 778.8,274.7 773.7,277.3 769.8,280.9 764.7,283 758.2,285.5 750.5,286.1 742.8,284.3 735,283.5 729.9,280.9 724.8,277.3 720.9,272.7 718.3,268.8 714.5,267Z" fill="none" stroke="#000" stroke-width="0.75"/>
<path d="M710.6,264.4 713.2,264.4 714.5,267 718.3,268.8 720.9,272.7 724.8,277.3 729.9,280.9 735,283.5 742.8,284.3 750.5,286.1 758.2,285.5 764.7,283 769.8,280.9 773.7,277.3 778.8,274.7 784,272.7 789.1,270.6 786.5,268 781.9,267 782.7,263.7 780,265.5 783.9,262.5 787.8,259.1 790.3,254 794.2,249.6 800.6,249.6 805.8,252.2 808.3,257.3 810.9,261.7 814.8,263 817.4,265.5 820.4,268.1 824.6,266.8 826.4,269.4 822.5,273.3 818.6,277.1 817.4,281 814.8,284.1 810.9,286.7 805.8,288.7 801.9,292.6 798,290 794.2,288.7 791.6,291.8 787.8,292.6 785.2,295.9 787.8,299 792.9,300.3 795.5,302.1 791.6,304.2 789,308 791.1,313.9 791.3,298.8 795.3,300.4 792.9,302.8 790.5,305.2 791.3,309.3 793.7,312.5 794.5,316.5 792.9,320.5 791.3,324.5 789.7,328.5 787.3,331.7 784.1,334.9 780.1,337.3 776,338.1 772.8,337.3 768.8,338.9 765.6,340.6 761.6,339.4 768.4,341.4 766,339.7 762.8,338.1 759.6,338.9 756.3,336.5 752.3,336.9 748.3,338.9 745.1,339.7 742.7,338.1 740.3,335.7 737.1,332.5 738.7,328.5 737.9,324.5 734.7,323.7 731.5,321.3 726.7,322.9 721.8,325.3 718.6,324.5 714.6,325.6 713,325.6 708.2,322.9 703.4,320.5 698.6,318.1 695.4,317.3 693.8,316.5 691.4,311.7 689.7,306.9 685.7,306 684.9,303.6 681.7,301.2 680.1,298 679.3,294.8 680.1,290.8 691.3,289.4 693.9,285.5 692.6,284.3 693.9,280.9 697.7,277.3 701.1,272.2 706.7,268.8Z" fill="none" stroke="#000" stroke-width="0.75"/>
<path d="M669.4,288.1 674.6,286.1 679.7,285 686.1,284.3 692.6,284.3 693.9,285.5 691.3,289.4 686.1,290.7 681,292 675.8,293.3 672,291.2Z" fill="none" stroke="#000" stroke-width="0.75"/>
<path d="M663,294.6 668.1,292 672,291.2 675.8,293.3 681,292 683,295.8 681,297.9 677.1,299.7 673.3,298.4 668.1,299.7 664.3,298.4Z" fill="none" stroke="#000" stroke-width="0.75"/>
<path d="M635.2,276.5 639.8,277.3 646.2,279.9 652.7,281.7 657.8,284.3 663,287.6 669.4,288.1 672,291.2 668.1,292 663,294.6 664.3,298.4 660.4,297.9 656.5,294.6 652.7,290.7 647.5,288.1 642.4,285.5 638.5,281.7 634.7,281.7Z" fill="none" stroke="#000" stroke-width="0.75"/>
<path d="M627.4,293.3 629.5,288.1 634.7,286.8 634.7,281.7 638.5,281.7 642.4,285.5 647.5,288.1 652.7,290.7 656.5,294.6 660.4,297.9 659.3,298 656.3,300 653.2,302 650.2,304 647.7,306.5 646.7,303.5 644.2,301 640.2,299 636.2,298 632.2,298.5 630.2,296.5 628.7,295Z" fill="none" stroke="#000" stroke-width="0.75"/>
<path d="M646.7,319.1 647.7,316.1 647.2,313.1 646.7,309.5 647.7,306.5 650.2,304 653.2,302 656.3,300 659.3,298 662.3,299 666.3,298 664.1,300.4 668.1,299.6 672.1,298.8 674.5,301.2 672.1,302.8 671.3,306 669.7,309.3 666.5,312.5 663.3,315.7 660.1,318.9 655.2,319.7 649.6,321.3 649.7,320.1Z" fill="none" stroke="#000" stroke-width="0.75"/>
<path d="M672.9,302 676.9,300.4 681.7,301.2 684.9,303.6 685.7,306 680.1,307.3 674.5,306Z" fill="none" stroke="#000" stroke-width="0.75"/>
<path d="M673.7,306 676.1,308.9 678.5,311.7 679.3,315.7 677.7,319.7 674.5,323.7 669.7,326.1 667.3,329.3 668.9,333.3 666.5,335.7 662.5,334.1 658.5,332 654.4,331.4 648.8,330.9 650.4,327.7 648,324.5 649.6,321.3 655.2,319.7 660.1,318.9 663.3,315.7 666.5,312.5 669.7,309.3 671.3,306Z" fill="none" stroke="#000" stroke-width="0.75"/>
<path d="M673.7,306 679.3,306.9 686.5,305.2 689.7,306.9 691.4,311.7 693.8,316.5 696.2,319.7 701.8,322.1 707.4,325 713,327.7 715.4,326.1 721.8,325.3 726.7,322.9 731.5,321.3 734.7,323.7 733.1,327.7 729.9,330.9 727.5,334.9 723.5,338.1 721.8,334.1 718.6,335.7 719.4,338.9 715.4,339.7 711.4,341.4 707.4,344.6 703.4,347.8 698.6,351 694.6,354.2 693,359 691.4,364.6 688.9,369.4 686.5,371 684.1,367 681.7,362.2 679.3,357.4 677.2,352.6 676.1,347 675.6,342.2 672.9,340.6 670.5,341.4 668.1,338.9 666.5,335.7 668.9,333.3 667.3,329.3 669.7,326.1 674.5,323.7 677.7,319.7 679.3,315.7 678.5,311.7 676.1,308.9Z" fill="none" stroke="#000" stroke-width="0.75"/>
<path d="M693.8,316.5 695.4,317.3 698.6,318.1 703.4,320.5 708.2,322.9 713,325.6 713,327.7 707.4,325 701.8,322.1 696.2,319.7Z" fill="none" stroke="#000" stroke-width="0.75"/>
<path d="M714.6,325.6 718.6,324.5 721.8,325.3 718.6,326.9 715.4,327.2Z" fill="none" stroke="#000" stroke-width="0.75"/>
<path d="M713.5,328.5 717,327.7 721,328.8 722.6,332 721.8,334.1 718.6,335.7 719.4,338.1 716.7,338.5 715.1,335.7 713.8,332Z" fill="none" stroke="#000" stroke-width="0.75"/>
<path d="M609.6,305.5 608.6,302 606.6,300 606.3,297.5 606.9,295 607.5,294.1 610,295.1 612.5,294.6 615,295.1 617,297.1 618.1,298 621.2,300 625.2,301.5 628.7,300.5 632.2,298.5 636.2,298 640.2,299 644.2,301 646.7,303.5 647.7,306.5 646.7,309.5 647.2,313.1 647.7,316.1 646.7,319.1 649.2,321.6 651.2,324.1 651.7,327.1 650.2,329.1 648.7,330.6 645.2,330.6 641.2,329.6 638.2,328.6 636.7,327.1 633.7,327.6 630.2,327.9 626.7,327.1 624.2,325.6 622.2,323.1 620.2,320.6 618.1,319.1 615.6,319.6 614.9,319.6 614.1,316.6 612.6,314.1 611.1,311 610.1,308Z" fill="none" stroke="#000" stroke-width="0.75"/>
<path d="M594.1,311.5 596.6,309.5 599.6,306.5 602.1,303 604.1,300.5 606.6,300 608.6,302 609.6,305.5 610.1,308 611.1,311 612.6,314.1 614.1,316.6 614.9,319.6 613.1,320.1 612.6,321.3 610.1,322.1 607.1,320.9 603.6,319.1 600.1,317.1 597.1,315.6 594.6,314.6Z" fill="none" stroke="#000" stroke-width="0.75"/>
<path d="M587.1,307 586,305 587.2,302.3 590.2,300.9 592.7,301.3 596.2,301.1 599.2,300.6 601.7,299.6 604.1,300.2 602.1,303 599.6,306.5 596.6,309.5 594.1,311.5 592.6,313.1 589.6,315.1 588.1,312.1 587.3,309.5Z" fill="none" stroke="#000" stroke-width="0.75"/>
<path d="M584,322.1 585,318.6 586.5,316.6 589.6,315.1 592.6,313.1 594.1,311.5 594.6,314.6 594.1,315.1 591.6,315.6 589.6,317.6 586.5,320.1Z" fill="none" stroke="#000" stroke-width="0.75"/>
<path d="M582.8,315.1 584.5,313.6 585.5,315.1 585,318.1 584,321.6 583,319.1Z" fill="none" stroke="#000" stroke-width="0.75"/>
<path d="M585,310 586.5,309 587.1,311.5 585.5,313.1Z" fill="none" stroke="#000" stroke-width="0.75"/>
<path d="M584,322.1 586.5,320.1 589.6,317.6 591.6,315.6 594.1,315.1 597.1,315.6 600.1,317.1 603.6,319.1 607.1,320.9 610.1,322.1 612.6,321.3 614.1,322.9 615.6,325.1 617.6,327.1 619.6,329.6 621.7,332.1 623.7,334.6 626.2,336.6 629.2,337.6 632.7,337.1 633.7,339.1 633.2,342.1 631.2,344.1 628.2,345.7 624.7,347.2 621.2,348.2 617.1,349.2 613.1,350 609.6,350.2 604.1,350.4 602.1,351.2 600.1,348.2 598.1,344.6 596.3,341.1 594.1,337.6 592.1,334.1 590.1,330.1 588.1,326.6 586,324.1Z" fill="none" stroke="#000" stroke-width="0.75"/>
<path d="M626.2,335.1 628.7,334.6 631.2,333.6 633.2,332.1 634.7,330.6 635.7,330.1 635.2,332.6 634.2,335.1 633.2,337.1 629.2,337.6 626.2,336.6Z" fill="none" stroke="#000" stroke-width="0.75"/>
<path d="M635.7,330.1 636.7,332.6 639.2,334.6 641.7,336.1 644,338.1 642.7,340.6 641.2,343.1 639.2,345.2 637.2,347.2 634.2,348.7 631.2,350.2 628.2,351.2 626.2,348.2 628.2,345.7 631.2,344.1 633.2,342.1 633.7,339.1 633.2,337.1 634.2,335.1 635.2,332.6Z" fill="none" stroke="#000" stroke-width="0.75"/>
<path d="M635.2,328.6 636.2,327.6 636.7,329.6 635.7,330.3Z" fill="none" stroke="#000" stroke-width="0.75"/>
<path d="M602.1,351.2 604.1,350.4 609.6,350.2 613.1,350 617.1,349.2 621.2,348.2 624.7,347.2 626.2,348.2 628.2,351.2 625.2,353.2 621.2,355 617.1,356.4 612.1,357.7 608.1,358.7 604.6,359.2 603.6,356.7Z" fill="none" stroke="#000" stroke-width="0.75"/>
<path d="M621.7,329.1 623.2,328.6 624.2,330.6 623.7,332.6 622.2,332.1Z" fill="none" stroke="#000" stroke-width="0.75"/>
<path d="M613.1,320.1 614.9,319.6 615.6,321.3 614.1,322.3Z" fill="none" stroke="#000" stroke-width="0.75"/>
<path d="M801.9,292.6 805.8,288.7 810.9,286.7 814.8,284.1 817.4,281.5 816.8,286.1 813.5,290 810.9,293.9 811.7,296.4 807.1,297.7 803.2,296.4Z" fill="none" stroke="#000" stroke-width="0.75"/>
<path d="M805.7,298.8 808.9,297.7 812.2,299.3 813.3,302.8 812.6,306 809.7,307.3 806.5,306.9 805.3,303.6Z" fill="none" stroke="#000" stroke-width="0.75"/>
<path d="M840.2,290 842.6,291.6 843.5,295.6 841.8,299.6 839.4,303.6 837.8,306 834.6,306 831.4,307.7 828.2,310.1 825,309.3 821.8,310.1 818.6,310.9 816.2,310.1 818.1,307.3 821.8,306 825.8,305.2 829.8,303.6 833,301.2 836.2,298.8 838.3,295.6 839,292.4 839.4,288.4 841,287.6Z" fill="none" stroke="#000" stroke-width="0.9"/>
<path d="M814.2,311.7 816.5,310.5 818.1,312.5 817.5,315.4 815.8,317 814.6,314.9Z" fill="none" stroke="#000" stroke-width="0.9"/>
<path d="M821.8,308.9 825,308 825.8,309.6 822.9,310.5Z" fill="none" stroke="#000" stroke-width="0.9"/>
<path d="M842.6,281 844.4,277.1 848.2,279.7 852.1,281 850.3,284.1 846.2,286.1 843.1,285.6Z" fill="none" stroke="#000" stroke-width="0.75"/>
<path d="M813,323.4 811.7,325.3" fill="none" stroke="#000" stroke-width="1.2"/>
<path d="M810.6,326.9 808.9,329.3" fill="none" stroke="#000" stroke-width="1.2"/>
<path d="M805.3,310.5 806.9,310.9" fill="none" stroke="#000" stroke-width="1.2"/>
<path d="M790.5,333.7 792.1,330.1 794,329.8 794.5,333.3 793.4,336.5 791.8,337.8Z" fill="none" stroke="#000" stroke-width="0.75"/>
<path d="M762.4,345.4 764.8,343.8 767.2,344.6 767.7,346.5 765.6,348.1 763.2,347.8Z" fill="none" stroke="#000" stroke-width="0.75"/>
<path d="M723.5,338.1 727.5,334.9 729.9,330.9 733.1,327.7 734.7,323.7 737.9,324.5 738.7,328.5 737.1,332.5 740.3,335.7 742.7,338.1 745.1,339.7 742.2,343 739.2,344 736.2,346 735.2,349 736.7,352 737.2,355 739.2,358.6 740.2,361.6 739.7,364.6 739.2,367.6 738.2,369.1 737.4,366.1 736.7,362.6 735.7,359.1 734.7,356.5 733.2,355 732.7,352 730.2,353 728.2,352 728.7,348.5 726.7,345 724.2,342Z" fill="none" stroke="#000" stroke-width="0.75"/>
<path d="M748.3,338.9 752.3,336.9 756.3,336.5 759.6,338.9 758,342.2 755.5,344.6 758,347.8 761.2,351.8 763.6,355.8 764.4,359.8 762.8,363.8 758.8,367 754.7,369.9 753.1,367 756.3,364.6 759.6,361.4 760,358.6 759.8,354 758.8,351 756.3,348.5 753.8,346 751.8,343.5 750.3,341 747.3,340Z" fill="none" stroke="#000" stroke-width="0.75"/>
<path d="M736.2,346 739.2,344 742.2,343 743.8,345 745.3,348 748.3,349 751.3,348.5 753.8,350 754.8,353 753.3,355 750.3,356 748.3,357.6 747.8,360.1 748.8,362.6 746.3,363.6 744.3,362.1 741.7,361.6 740.7,363.6 740.2,366.1 740.7,369.1 741.7,371.6 743.2,374.1 745.3,375.6 744.3,376.6 742.2,375.1 740.2,372.6 738.7,369.6 739.2,367.6 739.7,364.6 740.2,361.6 739.2,358.6 737.2,355 736.7,352 735.2,349Z" fill="none" stroke="#000" stroke-width="0.75"/>
<path d="M742.2,343 744.3,341 747.3,340 750.3,341 751.8,343.5 753.8,346 756.3,348.5 758.8,351 759.8,354 757.8,355 755.8,353.5 754.8,353 753.8,350 751.3,348.5 748.3,349 745.3,348 743.8,345Z" fill="none" stroke="#000" stroke-width="0.75"/>
<path d="M748.3,357.6 750.3,356 753.3,355 754.8,356 757.8,355.2 759.8,354.5 760,358.6 758.8,361.6 756.3,363.6 753.3,365.1 750.8,364.1 749.3,362.6 747.8,360.1Z" fill="none" stroke="#000" stroke-width="0.75"/>
<path d="M742.2,375.1 744.3,376.6 745.3,375.6 747.3,376.6 749.3,378.6 750.3,381.1 750.8,384.1 749.8,386.1 748.3,385.1 746.3,383.1 744.3,380.6 742.7,377.6Z" fill="none" stroke="#000" stroke-width="0.75"/>
<path d="M730.2,376.6 733.2,376.6 736.2,378.1 739.2,380.6 742.2,383.1 745.3,385.6 748.3,388.1 751.3,390.7 754.3,393.2 756.8,396.2 759.3,399.2 761.3,402.7 760.3,405.2 757.8,404.2 755.3,401.7 752.3,399.2 748.3,397.7 745.3,394.7 742.2,391.7 739.2,388.1 736.2,384.6 733.2,381.1 731.2,378.6Z" fill="none" stroke="#000" stroke-width="0.75"/>
<path d="M731.2,382.6 733.7,384.1" fill="none" stroke="#000" stroke-width="1.3"/>
<path d="M734.7,386.1 736.7,388.1" fill="none" stroke="#000" stroke-width="1.3"/>
<path d="M737.7,390.2 740.2,393.2" fill="none" stroke="#000" stroke-width="1.3"/>
<path d="M740.7,394.2 742.2,396.2" fill="none" stroke="#000" stroke-width="1.3"/>
<path d="M755.7,403.1 760.1,403.1 765.1,404.5 771.2,405.1 776.2,407.1 774.2,408.5 768.1,407.7 762.1,406.5 757.1,405.1Z" fill="none" stroke="#000" stroke-width="0.75"/>
<path d="M777.2,407.1 782.2,407.7 786.2,408.5 784.2,409.7 779.2,409.1Z" fill="none" stroke="#000" stroke-width="0.75"/>
<path d="M788.2,409.1 793.2,408.1 797.2,407.7 796.2,409.7 791.2,410.1Z" fill="none" stroke="#000" stroke-width="0.75"/>
<path d="M799.2,409.1 804.3,407.1 807.3,406.1 806.3,408.5 802.2,411.1 798.6,412.5Z" fill="none" stroke="#000" stroke-width="0.75"/>
<path d="M763.1,388.1 767.1,384 772.2,382 777.2,379 781.2,375 784.2,374 787.2,377 785.2,380 786.2,385 784.2,389.1 781.2,393.1 780.2,397.1 775.2,398.1 770.2,396.1 766.1,395.1 764.1,392.1Z" fill="none" stroke="#000" stroke-width="0.75"/>
<path d="M767.1,384 771.2,385 775.2,383 779.2,380 782.2,378" fill="none" stroke="#000" stroke-width="0.75"/>
<path d="M789.2,389.1 791.2,387.1 796.2,386.4 801.2,385.6 802.2,387.7 797.2,389.1 793.2,390.1 794.2,393.1 797.2,395.1 796.2,398.1 797.8,401.1 795.8,401.7 793.8,398.1 792.2,395.1 790.6,399.1 791.2,403.1 789.2,402.1 788.2,397.1 788.6,393.1Z" fill="none" stroke="#000" stroke-width="0.75"/>
<path d="M808.3,385 810.3,383 811.3,386 809.9,390.1 808.7,392.1Z" fill="none" stroke="#000" stroke-width="0.75"/>
<path d="M805.3,396.1 808.3,395.7 808.7,397.1 805.9,397.3Z" fill="none" stroke="#000" stroke-width="0.75"/>
<path d="M811.3,395.1 815.3,396.1 816.3,397.7 812.3,397.1Z" fill="none" stroke="#000" stroke-width="0.75"/>
<path d="M816.3,390.1 820.3,389.7 824.3,391.1 826.3,394.1 829.3,395.1 832.3,393.1 837.4,393.1 841.4,395.1 841.4,409.1 838.4,407.1 835.3,406.1 833.3,408.1 834.3,403.1 831.3,400.1 827.3,398.1 824.3,397.1 821.3,395.1 818.3,393.1Z" fill="none" stroke="#000" stroke-width="0.75"/>
<path d="M841.4,395.1 846.4,397.1 851.4,400.1 855.4,401.1 858.4,402.1 856.4,404.1 860.4,407.1 863.4,410.1 865.4,412.1 861.4,412.1 857.4,410.1 853.4,408.1 849.4,408.1 845.4,409.1 841.4,409.1Z" fill="none" stroke="#000" stroke-width="0.75"/>
<path d="M856.4,402.1 861.4,401.1 866.4,399.1 869.4,397.1 870.1,399.1 866.4,401.7 861.4,403.1Z" fill="none" stroke="#000" stroke-width="0.75"/>
<path d="M863.4,395.1 867.4,395.7" fill="none" stroke="#000" stroke-width="1.0"/>
<path d="M854.4,393.7 856.4,394.1" fill="none" stroke="#000" stroke-width="1.0"/>
<path d="M874.5,400.5 876.5,402.1" fill="none" stroke="#000" stroke-width="1.2"/>
<path d="M878.5,404.1 881.5,406.1" fill="none" stroke="#000" stroke-width="1.2"/>
<path d="M883.5,407.1 887.5,409.1" fill="none" stroke="#000" stroke-width="1.2"/>
<path d="M889.5,410.1 892.5,412.5" fill="none" stroke="#000" stroke-width="1.2"/>
<path d="M888.5,415.1 890.9,415.7" fill="none" stroke="#000" stroke-width="1.2"/>
<path d="M870.5,414.5 872.9,414.9" fill="none" stroke="#000" stroke-width="1.2"/>
<path d="M902.5,413.1 903.6,413.3" fill="none" stroke="#000" stroke-width="1.2"/>
<path d="M905,420.6 906.6,422.6" fill="none" stroke="#000" stroke-width="1.2"/>
<path d="M906.2,423.8 907.8,426.6" fill="none" stroke="#000" stroke-width="1.2"/>
<path d="M908.6,429.4 910.6,432.2" fill="none" stroke="#000" stroke-width="1.2"/>
<path d="M898.5,435.2 902.5,437.8" fill="none" stroke="#000" stroke-width="1.2"/>
<path d="M903.6,438.2 907,440.2" fill="none" stroke="#000" stroke-width="1.2"/>
<path d="M819.9,402.1 821.9,401.7" fill="none" stroke="#000" stroke-width="1.2"/>
<path d="M814.3,406.1 817.3,405.7" fill="none" stroke="#000" stroke-width="1.2"/>
<path d="M824.3,401.1 825.9,401.7" fill="none" stroke="#000" stroke-width="1.2"/>
<path d="M803.2,396.5 804.7,396.9" fill="none" stroke="#000" stroke-width="1.2"/>
<path d="M739.1,390.1 741.1,393.7" fill="none" stroke="#000" stroke-width="1.2"/>
<path d="M789.7,353.2 790.5,349.6 791.5,347.2 793.7,346.8 795.5,347.6 796.1,350.4 795.3,352.8 794.1,354.8 794.9,356.4 796.9,358.1 798.9,358.3 800.7,357.8 800.3,359.7 798.5,360.1 796.5,359.7 794.9,359.3 793.7,360.1 792.5,361.3 791.5,359.7 790.7,357.3 790.1,355.2Z" fill="none" stroke="#000" stroke-width="1.2"/>
<path d="M794.5,361.7 796.9,361 799.3,360.9 801.7,361.3 803.3,362.5 803.7,364.5 802.9,366.5 801.7,368.1 799.7,368.9 797.7,368.5 796.1,367.3 794.9,365.3 794.2,363.3Z" fill="none" stroke="#000" stroke-width="1.2"/>
<path d="M796.9,362.9 798.9,362.5 799.7,364.1 798.5,365 797.1,364.5Z" fill="none" stroke="#000" stroke-width="1.0"/>
<path d="M799.3,366.9 801.3,366.1 801.9,367.3 800.5,368.1Z" fill="none" stroke="#000" stroke-width="1.0"/>
<path d="M794.9,362.5 796.5,364.1 795.7,365.7 797.7,366.5 798.1,367.7" fill="none" stroke="#000" stroke-width="1.6"/>
<path d="M800.5,361.7 801.7,363.3 800.9,364.9 802.5,365.7" fill="none" stroke="#000" stroke-width="1.6"/>
<path d="M795.3,364.1 797.3,365.5" fill="none" stroke="#000" stroke-width="1.4"/>
<path d="M800.1,371.7 801.7,370.1 803.7,369 805.3,369.8 805.9,372.1 805.3,374.5 803.7,376.1 801.7,376.3 800.3,374.9 799.5,373.3Z" fill="none" stroke="#000" stroke-width="1.2"/>
<path d="M794.1,373.7 795.3,371.7 796.9,370.9 798.1,371.5 796.9,372.5 795.5,374.1Z" fill="none" stroke="#000" stroke-width="1.2"/>
<path d="M782.4,370.9 784.4,368.5 786.4,366.5 788.9,364.1 789.7,364.5 787.3,367.1 785.1,369.3 783.2,371.3Z" fill="none" stroke="#000" stroke-width="1.2"/>
<path d="M789.7,361.5 790.5,362.9" fill="none" stroke="#000" stroke-width="1.6"/>
<path d="M802.9,380.9 803.7,381.6" fill="none" stroke="#000" stroke-width="1.6"/>
<path d="M806.1,379.2 806.9,380.1" fill="none" stroke="#000" stroke-width="1.6"/>
<path d="M790.1,377.1 791,376.6" fill="none" stroke="#000" stroke-width="1.4"/>
<path d="M792.1,376.1 793.1,375.6" fill="none" stroke="#000" stroke-width="1.4"/>
<path d="M808.5,384.9 810.1,383.3 811.3,384 810.9,386.1 810.1,388 808.9,387.3Z" fill="none" stroke="#000" stroke-width="1.2"/>
<path d="M933,428.2 934.6,427 936.2,427.8 935.4,429.8 933.4,429.8Z" fill="none" stroke="#000" stroke-width="0.9"/>
<path d="M931,430.2 932.2,431" fill="none" stroke="#000" stroke-width="1.0"/>
<path d="M775.2,440.2 779.2,438.2 784.2,436.2 789.2,435.2 793.2,432.2 796.2,428.2 800.2,425.2 804.3,422.2 808.3,421.2 811.3,424.2 814.3,421.2 816.3,417.1 820.3,416.1 825.3,416.5 829.3,417.1 830.7,420.2 829.3,423.2 833.3,425.2 837.4,428.2 840.4,429.2 842,425.2 842.8,420.2 844,415.1 845.4,413.7 847.4,418.1 850.4,422.2 852.8,427.2 855.4,432.2 858.4,436.2 862.4,440.2 865.4,443.2 868.4,446.2 870.9,450.2 872.1,455.3 871.5,460.3 869.4,465.3 867.4,470.3 864.8,475.3 862.8,479.3 859.4,481.3 855.4,482.3 852.4,481.3 848.4,481.9 844.4,480.3 840.4,478.3 838.4,474.3 836.3,471.3 834.3,469.3 832.7,472.3 830.3,473.3 829.3,470.3 825.3,466.3 820.3,464.3 815.3,463.3 810.3,464.3 805.3,466.3 800.2,468.3 796.2,470.3 791.2,470.3 787.2,472.3 782.2,473.3 779.2,471.3 778.6,467.3 778.2,462.3 776.2,458.3 775.2,453.2 774.2,448.2 774.6,444.2Z" fill="none" stroke="#000" stroke-width="0.9"/>
<path d="M850.1,489.7 853.1,489.1 857.1,489.7 859.5,490.2 858.7,493.8 856.7,497.2 854.1,497.8 851.5,495.2Z" fill="none" stroke="#000" stroke-width="0.75"/>
<path d="M918.3,471.7 921.3,473.1 924.3,477.1 926.3,480.1 929.3,481.1 933,480.1 931.8,484.1 929.3,487.7 926.3,491.2 923.7,490.2 922.3,487.1 922.9,483.1 921.3,479.1 919.3,475.1Z" fill="none" stroke="#000" stroke-width="0.75"/>
<path d="M917.3,489.1 920.3,489.7 922.3,491.8 920.3,495.2 917.3,498.6 914.3,501.8 911.3,504.6 908.3,507.2 905.7,508.6 903.3,506.2 904.3,503.2 907.3,500.2 910.9,497.2 913.7,494.2 915.7,491.2Z" fill="none" stroke="#000" stroke-width="0.75"/>
<path d="M462.6,331.4 465,327.8 468.1,324.8 471.7,322.4 474.7,318.7 475.9,315.1 477.7,311.5 480.7,309.1 483.1,306.1 485.5,303.7 488.5,303.1 492.1,304.9 494.5,305.9 498.1,304.3 503,302.5 507.8,301.5 512.6,301.1 517.4,300.7 519.2,301.1 522.2,300.1 525.2,300.7 524.6,303.7 526.4,306.1 525.2,309.1 527,311.5 530,312.1 534.3,313.3 536.7,315.7 540.3,316.9 543.9,318.1 546.9,317.5 547.5,314.5 549.9,312.7 554.1,312.1 558.3,313.3 559.5,315.7 563.1,316.3 567.4,316.9 571.1,316.7 575.1,316.2 579.1,315.2 582.7,315.7 583.7,317.2 576.9,316.9 579.3,320.1 582.5,323.3 584.9,328.1 587.3,332.9 588.9,336.1 588.9,338.8 590.5,342.5 591.3,347.3 589.7,349.7 592.1,348.9 594.5,351.4 597.7,354.6 600.9,357.8 603,360.7 603.7,360.7 604.6,362.9 604.1,365.8 606.5,364.2 613,363.4 618.6,362.3 623.4,361.8 624.2,364.2 621.8,369 618.6,373.8 614.6,378.6 610.6,383.5 606.5,387.5 602.5,391.5 598.5,396 597.4,399.2 594.4,402.2 595.4,407.3 596.4,412.3 597.4,414.3 598,420.3 596.4,425.3 592.4,429.3 588.4,432.3 585.4,435.3 583.4,440 585.1,441.7 583.5,444.9 579.4,447.3 577.8,449.7 577,453 574.6,457 571.4,461 567.4,465 562.6,468.2 557,469.8 551.4,470.3 547.3,471.4 543.3,469.8 542,465 540.1,459.4 538.5,453 536.1,447.3 533.7,440.9 532.1,434.5 529.7,431.3 528.1,428.1 527,424.1 528.1,419.3 530.5,414.4 529.7,408 529.7,403.2 528.1,400 530.2,400.2 527.2,395.8 524.2,393.2 522.6,390.2 522.2,387.2 522.6,384.6 521.2,378.2 520.2,377.2 516.2,378.2 512.2,377.2 509.2,374.2 506.2,373.2 503.2,373.8 500.6,374.2 497.1,375.8 493.1,376.2 486.1,377.2 481.1,378.2 477.1,376.2 474.1,372.2 472.1,371.2 468.1,370.6 466,367.1 463,363.1 459,361.1 458,358.5 457,356.1 457,353.1 459,346.1 458,341.1 459,337.1 462,331Z" fill="none" stroke="#000" stroke-width="0.75"/>
<path d="M485.5,303.7 488.5,303.1 492.1,304.9 494.5,306.1 495.1,309.7 495.7,313.3 492.1,315.1 489.1,317.5 485.5,319.9 482.5,321.2 478.9,322 477.9,324.2 474.7,324.8 469.9,325.4 468.1,324.8 471.7,322.4 474.7,318.7 475.9,315.1 477.7,311.5 480.7,309.1 483.1,306.1Z" fill="none" stroke="#000" stroke-width="0.75"/>
<path d="M457.2,339.5 459,336.1 460.6,333.4 462.2,331.2 464,328.6 465.6,326.6 467,325.4 477.7,325.4 477.7,328.8 469.7,329.2 469.3,335.7 467.2,336.9 466.8,340.1 458,340.5Z" fill="none" stroke="#000" stroke-width="0.75"/>
<path d="M494.5,305.9 498.1,304.3 503,302.5 507.8,301.5 512.6,301.1 517.4,300.7 519.2,301.1 518.6,304.3 517.4,307.3 518.6,310.9 521,313.9 522.8,317.5 522.2,321.2 523.4,324.8 522.2,328.4 524.6,332 528.2,335 524.6,336.8 519.8,339.2 517.4,341 515,342 511.4,343.7 507.8,344.9 503,342 498.1,338.6 492.1,335 486.1,331.1 480.1,327.2 477.9,325.6 477.9,324.2 478.9,322 482.5,321.2 485.5,319.9 489.1,317.5 492.1,315.1 495.7,313.3 495.1,309.7Z" fill="none" stroke="#000" stroke-width="0.75"/>
<path d="M519.2,301.1 522.2,300.1 525.2,300.7 524.6,303.7 526.4,306.1 525.2,309.1 527,311.5 524.6,313.9 522.8,317.5 521,313.9 518.6,310.9 517.4,307.3 518.6,304.3Z" fill="none" stroke="#000" stroke-width="0.75"/>
<path d="M527,311.5 530,312.1 534.3,313.3 536.7,315.7 540.3,316.9 543.9,318.1 546.9,317.5 547.5,314.5 549.9,312.7 554.1,312.1 558.3,313.3 559.5,315.7 558.9,320.6 559.3,325.4 559.5,332.6 559.5,340.4 559.3,344.1 554.3,341.7 546.3,338.5 536.3,336.4 530.2,335 527.2,334 528.2,335 524.6,332 522.2,328.4 523.4,324.8 522.2,321.2 522.8,317.5 524.6,313.9Z" fill="none" stroke="#000" stroke-width="0.75"/>
<path d="M559.5,315.7 563.1,316.3 567.4,316.9 571.1,316.7 575.1,316.2 579.1,315.2 582.7,315.7 583.7,317.2 576.9,316.9 579.3,320.1 582.5,323.3 584.9,328.1 587.3,332.9 588.9,336.1 588.9,338.8 560,339.3 559.5,340.4 559.5,332.6 559.3,325.4 558.9,320.6Z" fill="none" stroke="#000" stroke-width="0.75"/>
<path d="M576.9,316.9 580.1,324.1 578.9,320.5" fill="none" stroke="#000" stroke-width="0.7"/>
<path d="M458,341.1 466,340.1 467.1,335 470.1,330 477.1,329 477.1,326 484.1,330.4 484.1,338.1 485.1,346.1 485.7,353.1 478.1,354.1 470.1,354.5 465,352.1 461,351.1 459,346.1Z" fill="none" stroke="#000" stroke-width="0.75"/>
<path d="M484.1,330.4 492.1,336 500.2,341.1 509.2,346.1 509.2,350.1 508.2,354.1 502.2,356.1 497.1,357.1 492.1,359.1 489.1,362.1 486.1,365.1 482.1,363.1 480.1,360.1 476.1,361.1 472.1,359.1 470.1,354.5 478.1,354.1 485.7,353.1 485.1,346.1 484.1,338.1Z" fill="none" stroke="#000" stroke-width="0.75"/>
<path d="M509.2,346.1 514.2,343.1 520.2,340.1 526.2,337.1 530.2,335 536.3,336.4 537.3,342.1 536.3,350.1 535.3,356.1 532.2,359.1 526.2,358.1 520.2,359.1 514.2,358.5 508.2,359.1 504.2,356.1 508.2,354.1 509.2,350.1Z" fill="none" stroke="#000" stroke-width="0.75"/>
<path d="M536.3,336.4 546.3,338.5 554.3,341.7 559.3,344.1 558.3,350.1 554.3,355.1 553.3,360.1 556.3,365.1 552.3,368.1 548.3,370.2 543.3,371.2 538.3,372.2 535.3,368.1 537.3,364.1 535.3,360.1 535.3,356.1 536.3,350.1 537.3,342.1Z" fill="none" stroke="#000" stroke-width="0.75"/>
<path d="M560,339.3 588.9,338.8 590.5,342.5 591.3,347.3 589.7,349.7 588.1,354.6 585.7,358.6 583.3,362.6 581.7,365 580.5,368.2 577.7,366.6 575.2,369 572,371.4 568.8,372.2 565.6,371.4 562.4,369.8 570.4,372.2 566.3,371.2 562.3,370.2 559.3,367.1 556.3,365.1 553.3,360.1 554.3,355.1 558.3,350.1 559.3,344.1 559.3,339.1Z" fill="none" stroke="#000" stroke-width="0.75"/>
<path d="M562.4,369.8 565.6,371.4 568.8,372.2 572,371.4 575.2,369 577.7,366.6 580.5,368.2 582.5,372.2 584.9,375.4 588.1,377 584.9,380.2 580.9,380.2 576,380.2 578.4,380.2 572.4,380.2 568.4,378.2 564.3,375.2 562.3,370.2 566.3,371.2 570.4,372.2Z" fill="none" stroke="#000" stroke-width="0.75"/>
<path d="M589.7,349.7 592.1,348.9 594.5,351.4 597.7,354.6 600.9,357.8 603,360.7 600.9,360.2 597.7,358.6 594.5,357 591.3,356.2 588.1,354.6Z" fill="none" stroke="#000" stroke-width="0.75"/>
<path d="M580.5,368.2 581.7,365 583.3,362.6 585.7,358.6 588.1,354.6 591.3,356.2 594.5,357 597.7,358.6 600.9,360.2 602,363.4 604.1,365.8 608.1,368.2 613.8,370.6 609.7,374.6 604.9,377 600.1,378.6 595.3,380.2 591.3,378.6 588.1,377 584.9,375.4 582.5,372.2Z" fill="none" stroke="#000" stroke-width="0.75"/>
<path d="M602,361 603.7,360.7 604.6,362.9 604.1,365.8 602,363.4Z" fill="none" stroke="#000" stroke-width="0.75"/>
<path d="M604.1,365.8 606.5,364.2 613,363.4 618.6,362.3 623.4,361.8 624.2,364.2 621.8,369 618.6,373.8 614.6,378.6 610.6,383.5 606.5,387.5 602.5,391.5 598.5,396 597.7,389.9 598.5,383.5 599.3,379.4 600.1,378.6 604.9,377 609.7,374.6 613.8,370.6 608.1,368.2Z" fill="none" stroke="#000" stroke-width="0.75"/>
<path d="M584.9,380.2 588.1,377 591.3,378.6 595.3,380.2 599.3,379.4 598.5,383.5 597.7,389.9 598.5,396 597.4,399.2 594.4,402.2 590.4,399.2 586.4,396.2 582.4,393.2 584.4,389.2 585.4,384.2 583.4,380.2Z" fill="none" stroke="#000" stroke-width="0.75"/>
<path d="M574.4,382.2 578.4,380.2 583.4,380.2 585.4,384.2 584.4,389.2 582.4,393.2 578.4,393.2 574.4,393.8 573.4,389.2 575.4,386.2Z" fill="none" stroke="#000" stroke-width="0.75"/>
<path d="M538.3,397.2 540.3,392.2 542.3,386.2 543.9,380.2 548.3,378.2 554.3,379.2 560.3,378.2 566.3,377.2 570.4,379.2 573.4,381.2 574.4,383.2 575.4,386.2 573.4,389.2 571.4,394.2 570.4,399.2 571.4,404.3 572.4,408.3 570.4,411.3 568.4,413.3 570.4,416.3 569.4,419.3 566.3,416.3 562.3,415.3 558.3,414.3 556.3,416.3 552.3,414.3 551.3,410.3 550.3,405.3 545.3,406.3 540.3,405.3 539.3,402.2 529.2,402.2 530.2,400.2 534.3,399.2Z" fill="none" stroke="#000" stroke-width="0.75"/>
<path d="M535.3,373.2 538.3,372.2 543.3,371.2 548.3,370.2 552.3,368.1 556.3,365.1 559.3,367.1 562.3,370.2 564.3,375.2 568.4,378.2 566.3,377.2 560.3,378.2 554.3,379.2 548.3,378.2 543.9,380.2 540.3,381.2 537.3,379.2 535.3,376.2Z" fill="none" stroke="#000" stroke-width="0.75"/>
<path d="M521.2,378.2 523.2,374.2 527.2,372.2 530.2,368.1 533.2,363.1 534.3,359.1 536.3,361.1 535.9,365.1 537.3,368.1 535.3,373.2 535.3,376.2 537.3,379.2 540.3,381.2 538.3,382.2 533.2,381.8 528.2,381.8 523.2,382.2Z" fill="none" stroke="#000" stroke-width="0.75"/>
<path d="M506.2,360.1 508.2,359.1 514.2,358.5 520.2,359.1 526.2,358.1 532.2,359.1 534.3,362.1 533.2,364.1 530.2,368.1 527.2,372.2 523.2,374.2 520.2,377.2 516.2,378.2 512.2,377.2 509.2,374.2 506.2,373.2 505.8,367.1Z" fill="none" stroke="#000" stroke-width="0.75"/>
<path d="M501.8,363.1 504.2,361.1 506.2,361.1 505.8,367.1 506.2,373.2 503.2,373.8 502.6,368.1Z" fill="none" stroke="#000" stroke-width="0.75"/>
<path d="M499.1,365.1 501.8,364.5 502.6,368.1 503.2,373.8 500.6,374.2 499.7,369.1Z" fill="none" stroke="#000" stroke-width="0.75"/>
<path d="M492.1,365.1 499.1,365.1 499.7,369.1 500.6,374.2 497.1,375.8 493.1,376.2 491.1,372.6 491.7,368.1Z" fill="none" stroke="#000" stroke-width="0.75"/>
<path d="M486.1,365.1 489.1,362.1 492.1,359.1 497.1,357.1 502.2,356.1 504.2,358.1 505.2,361.1 501.8,363.1 499.1,365.1 492.1,365.1 489.1,367.1Z" fill="none" stroke="#000" stroke-width="0.75"/>
<path d="M480.1,367.1 483.1,365.7 486.1,365.1 489.1,367.1 492.1,365.7 491.7,369.1 491.1,373.2 492.1,376.2 486.1,377.2 481.1,378.2 480.1,374.2 479.1,370.2Z" fill="none" stroke="#000" stroke-width="0.75"/>
<path d="M474.1,372.2 479.1,370.2 480.1,374.2 481.1,378.2 477.1,376.2Z" fill="none" stroke="#000" stroke-width="0.75"/>
<path d="M467.7,368.1 469.7,366.5 472.1,367.7 472.5,370.2 470.5,371.8 468.1,370.6Z" fill="none" stroke="#000" stroke-width="0.75"/>
<path d="M462,360.1 467.1,359.1 472.1,359.1 476.1,361.1 480.1,360.1 482.1,363.1 483.1,365.7 480.1,367.1 479.1,370.2 474.1,372.2 472.1,368.1 469.1,366.5 466,365.1 463,363.1Z" fill="none" stroke="#000" stroke-width="0.75"/>
<path d="M457,353.1 461,351.1 465,352.1 470.1,354.5 472.1,359.1 467.1,359.1 462,360.1 458,358.5 457,356.1Z" fill="none" stroke="#000" stroke-width="0.75"/>
<path d="M458.4,360.1 462,360.7 463.2,362.9 460,362.5Z" fill="none" stroke="#000" stroke-width="0.75"/>
<path d="M459,358.1 461.6,357.7 464.4,358.3" fill="none" stroke="#000" stroke-width="1.4"/>
<path d="M522.2,387.2 525.2,385.2 529.2,385.8 532.2,385.2 534.3,388.2 533.2,392.2 530.2,394.2 527.2,395.8 524.2,393.2 522.6,390.2Z" fill="none" stroke="#000" stroke-width="0.75"/>
<path d="M522.6,384.6 526.2,384.6 526.2,386.6 522.6,386.6Z" fill="none" stroke="#000" stroke-width="0.75"/>
<path d="M529.2,385.8 533.2,381.8 538.3,382.2 540.3,381.2 543.9,380.2 542.3,386.2 540.3,392.2 538.3,397.2 534.3,399.2 530.2,400.2 527.2,395.8 530.2,394.2 533.2,392.2 534.3,388.2 532.2,385.2Z" fill="none" stroke="#000" stroke-width="0.75"/>
<path d="M571.4,394.2 574.4,393.8 574.8,397.2 573.4,400.2 571.4,399.2Z" fill="none" stroke="#000" stroke-width="0.75"/>
<path d="M571.4,396.8 574.6,396.8" fill="none" stroke="#000" stroke-width="0.75"/>
<path d="M573.4,397.2 578.4,393.8 582.4,393.2 586.4,396.2 590.4,399.2 594.4,402.2 595.4,407.3 596.4,412.3 597.4,414.3 597.1,411.2 593.1,413.6 587.5,414.8 583.5,415.2 581.8,412 578.6,409.9 575.4,408 571.4,408.8 570.6,408 571.4,404 571.4,400 572.4,408.3 571.4,404.3 570.4,399.2Z" fill="none" stroke="#000" stroke-width="0.75"/>
<path d="M528.1,400 529.7,403.2 539.3,403.2 540.9,406.4 546.5,407.2 550.6,405.6 551.7,409.6 552.6,413.6 556.2,415.2 556.5,417.7 553.8,419.3 553,424.1 553.8,428.9 548.1,429.2 538.5,428.6 528.1,428.1 527,424.1 528.1,419.3 530.5,414.4 529.7,408Z" fill="none" stroke="#000" stroke-width="0.75"/>
<path d="M553.8,419.3 556.5,417.7 556.2,415.2 558.6,414.4 563.4,416 567.4,416.9 569.8,419.3 570.6,416 569.3,412 571.4,408.8 575.4,408 578.6,409.9 580.2,413.6 579.4,417.7 577,420.9 573.8,422.5 570.6,424.1 567.4,426.5 563.4,428.9 559.4,429.7 556.2,429.2 553.8,428.9 553,424.1Z" fill="none" stroke="#000" stroke-width="0.75"/>
<path d="M580.2,413.6 581.8,412 583.5,415.2 584.3,419.3 585.9,423.3 584.7,426.5 582.6,424.1 581.8,420.1 579.9,418.5Z" fill="none" stroke="#000" stroke-width="0.75"/>
<path d="M583.5,415.2 587.5,414.8 593.1,413.6 597.1,411.2 597.9,416 597.1,421.7 594.7,425.7 590.7,428.9 586.7,431.3 583.5,433.7 584.3,437.7 585.1,441.7 583.5,444.9 579.4,447.3 577.8,449.7 576.7,446.5 577,441.7 577.8,437.7 578.6,434.5 578.6,430.5 577,426.5 573,424.1 570.6,424.1 573.8,422.5 577,420.9 579.4,417.7 579.9,418.5 581.8,420.1 582.6,424.1 584.7,426.5 585.9,423.3 584.3,419.3Z" fill="none" stroke="#000" stroke-width="0.75"/>
<path d="M563.4,428.9 567.4,426.5 570.6,424.1 573,424.1 577,426.5 578.6,430.5 578.6,434.5 577.8,437.7 573.8,439.3 569.8,439.3 567.4,436.1 565,432.9Z" fill="none" stroke="#000" stroke-width="0.75"/>
<path d="M549.7,429.7 553.8,429.2 556.2,429.2 559.4,429.7 563.4,428.9 565,432.9 567.4,436.1 569.8,439.3 566.6,441.4 563.4,444.1 561,447.3 557,447.3 554.6,446.5 551.4,449.7 548.9,450.6 548.1,445.7 548.5,438.5Z" fill="none" stroke="#000" stroke-width="0.75"/>
<path d="M528.1,428.1 538.5,428.6 548.1,429.2 553.8,428.9 556.2,429.2 549.7,430.2 548.5,438.5 548.1,445.7 547.8,454.6 544.9,456.2 540.9,455.4 538.5,453 536.1,447.3 533.7,440.9 532.1,434.5 529.7,431.3Z" fill="none" stroke="#000" stroke-width="0.75"/>
<path d="M538.5,453 540.9,455.4 544.9,456.2 547.8,454.6 548.9,450.6 551.4,449.7 554.6,446.5 557,447.3 561,447.3 563.4,444.1 566.6,441.4 569.8,439.3 573.8,439.3 577,441.7 576.7,446.5 577.8,449.7 577,453 574.6,457 571.4,461 567.4,465 562.6,468.2 557,469.8 551.4,470.3 547.3,471.4 543.3,469.8 542,465 540.1,459.4Z" fill="none" stroke="#000" stroke-width="0.75"/>
<path d="M565,457 567.4,455.4 569.8,456.5 569.3,459.1 566.6,460.2 565,459.1Z" fill="none" stroke="#000" stroke-width="0.9"/>
<path d="M574.1,448.9 576.2,448.1 577.4,450.1 576.2,452.2 574.3,451.4Z" fill="none" stroke="#000" stroke-width="0.9"/>
<path d="M605.9,428.9 607.5,425.7 611.5,424.1 614.7,420.9 617.2,416.9 619.1,416 620.7,419.3 621.2,424.1 619.6,428.9 618,433.7 615.9,439.3 613.9,444.9 610.7,447.3 607.2,447.3 604.6,444.1 604.3,439.3 605.6,434.5Z" fill="none" stroke="#000" stroke-width="0.75"/>
<path d="M274.4,269.5 278.1,267.1 281.7,264.7 284.1,263.5 287.1,264.1 289.5,265.9 291.1,268.9 289.5,270.7 287.1,270.1 284.1,268.9 281.1,269.5 278.1,270.1Z" fill="#ffffff" stroke="#000" stroke-width="0.75"/>
<path d="M284.7,276.1 285.9,273.7 288.3,272.7 289.5,274.9 288.3,278.5 287.4,282.1 286.7,285.7 285,286.3 283.8,283.3 283.8,279.7Z" fill="#ffffff" stroke="#000" stroke-width="0.75"/>
<path d="M293.7,275.5 294.9,273.1 298.5,272.5 301.5,273.7 303.3,276.1 301.5,277.3 299.7,276.1 298.5,278.5 297.9,281.5 296.1,282.1 294.9,279.7 294.3,277.3Z" fill="#ffffff" stroke="#000" stroke-width="0.75"/>
<path d="M294.9,285.7 297.9,283.9 301.5,282.7 303.9,281.9 304.5,283.1 302.1,284.3 298.5,285.7 295.9,286.7Z" fill="#ffffff" stroke="#000" stroke-width="0.75"/>
<path d="M305.1,280.3 308.1,279.5 311.2,278.8 312.4,279.5 309.3,280.7 306.3,281.5Z" fill="#ffffff" stroke="#000" stroke-width="0.75"/>
<path d="M575.4,390.2 578.4,388.6 581.4,389.8 580.8,393.2 577.4,394.6 575.4,393.2Z" fill="#ffffff" stroke="#000" stroke-width="0.75"/>
<path d="M581.5,412.5 582.5,411.6 583.5,416 584.1,420.1 583.1,420.5 582.2,416Z" fill="#ffffff" stroke="#000" stroke-width="0.5"/>
<path d="M570,398.6 571,398.6 572.4,405.3 572.8,408.7 571.6,408.7 570.4,403.2Z" fill="#ffffff" stroke="#000" stroke-width="0.5"/>
</g>
</svg>
<div class="legend">
<div class="row"><span class="sw" style="background:#fdedd3"></span><span class="lb">0명(41개국, 21%)</span></div>
<div class="row"><span class="sw" style="background:#f6be82"></span><span class="lb">1~9명(31개국, 16%)</span></div>
<div class="row"><span class="sw" style="background:#ee8f4e"></span><span class="lb">10~99명(37개국, 19%)</span></div>
<div class="row"><span class="sw" style="background:#df5f3c"></span><span class="lb">100~999명(35개국, 18%)</span></div>
<div class="row"><span class="sw" style="background:#b83a2e"></span><span class="lb">&gt;= 1000명(17개국, 9%)</span></div>
<div class="row"><span class="sw" style="background:#ffffff"></span><span class="lb">자료 없음</span></div>
<div class="row"><span class="sw" style="background:#c8c8c8"></span><span class="lb">확인불가</span></div>
</div>
</body></html>
